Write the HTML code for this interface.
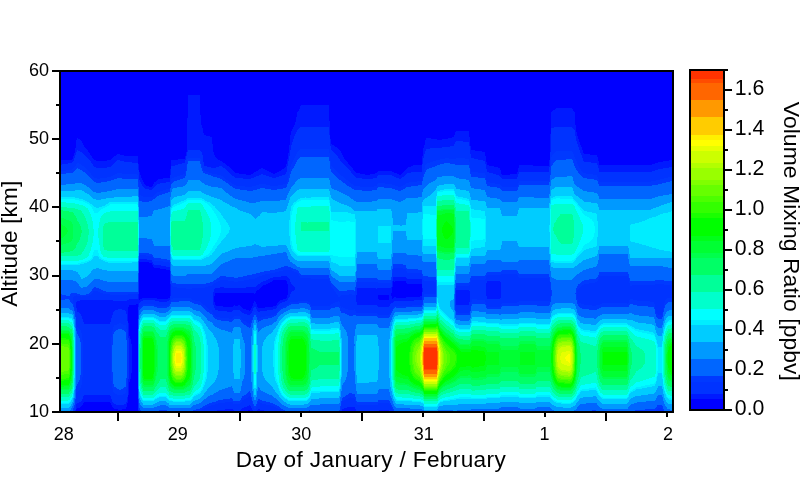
<!DOCTYPE html>
<html><head><meta charset="utf-8"><title>chart</title>
<style>
html,body{margin:0;padding:0;background:#fff;overflow:hidden;}
svg{display:block;font-family:"Liberation Sans",sans-serif;fill:#000;}
.t{filter:grayscale(1);}
</style></head><body>
<svg width="800" height="484" viewBox="0 0 800 484">
<rect x="0" y="0" width="800" height="484" fill="#fff"/>
<g shape-rendering="crispEdges">
<rect x="61" y="72" width="611" height="339" fill="#0000ff"/>
<path fill="#001aff" d="M301 105h28v1h-28zM300 106h29v3h-29zM556 108h16v1h-16zM555 109h18v1h-18zM299 109h30v2h-30zM553 110h20v1h-20zM298 111h31v1h-31zM552 111h22v1h-22zM188 95h12v20h-12zM297 112h32v5h-32zM188 115h13v3h-13zM296 117h33v4h-33zM296 121h34v1h-34zM187 118h14v7h-14zM295 122h35v3h-35zM551 112h24v13h-24zM294 125h36v2h-36zM551 125h25v2h-25zM187 125h15v3h-15zM293 127h7v1h-7zM551 127h3v1h-3zM572 127h4v1h-4zM293 128h6v1h-6zM573 128h3v1h-3zM292 129h6v1h-6zM574 129h2v1h-2zM292 130h5v1h-5zM291 131h6v1h-6zM456 131h13v1h-13zM575 130h1v2h-1zM187 128h16v5h-16zM291 132h5v2h-5zM187 133h17v2h-17zM291 134h4v1h-4zM329 127h1v8h-1zM455 132h14v3h-14zM187 135h19v1h-19zM290 135h5v1h-5zM575 132h2v4h-2zM187 136h23v1h-23zM454 135h15v2h-15zM452 137h18v1h-18zM77 138h1v1h-1zM290 136h4v3h-4zM426 138h5v1h-5zM448 138h22v1h-22zM576 136h2v3h-2zM77 139h3v1h-3zM426 139h11v1h-11zM442 139h28v1h-28zM76 140h5v1h-5zM425 140h45v1h-45zM576 139h3v2h-3zM290 139h3v3h-3zM425 141h31v1h-31zM463 141h7v1h-7zM577 141h2v1h-2zM76 141h6v2h-6zM187 137h25v7h-25zM330 139h1v5h-1zM425 142h30v2h-30zM577 142h3v2h-3zM76 143h7v2h-7zM290 142h2v3h-2zM330 144h2v1h-2zM425 144h29v1h-29zM578 144h2v1h-2zM330 145h4v1h-4zM424 145h30v1h-30zM469 142h1v4h-1zM76 145h8v2h-8zM331 146h4v1h-4zM424 146h26v1h-26zM578 145h3v2h-3zM76 147h9v1h-9zM331 147h6v1h-6zM424 147h18v1h-18zM75 148h11v1h-11zM331 148h7v1h-7zM423 148h7v1h-7zM75 149h12v1h-12zM187 144h26v6h-26zM289 145h2v5h-2zM331 149h8v1h-8zM470 146h1v4h-1zM579 147h3v3h-3zM78 150h10v1h-10zM200 150h13v1h-13zM332 150h8v1h-8zM423 149h3v2h-3zM470 150h5v1h-5zM75 150h2v2h-2zM80 151h8v1h-8zM187 150h1v2h-1zM201 151h12v1h-12zM333 151h8v1h-8zM470 151h12v1h-12zM550 134h1v18h-1zM75 152h1v1h-1zM82 152h7v1h-7zM289 150h1v3h-1zM334 152h7v1h-7zM580 150h3v3h-3zM83 153h7v1h-7zM335 153h7v1h-7zM423 151h2v3h-2zM470 152h15v2h-15zM581 153h3v1h-3zM74 153h2v2h-2zM84 154h6v1h-6zM117 154h3v1h-3zM202 152h12v3h-12zM336 154h6v1h-6zM581 154h9v1h-9zM74 155h1v1h-1zM85 155h6v1h-6zM116 155h8v1h-8zM186 152h1v4h-1zM288 153h2v3h-2zM337 155h6v1h-6zM423 154h1v2h-1zM471 154h14v2h-14zM86 156h6v1h-6zM114 156h24v1h-24zM203 155h12v2h-12zM338 156h5v1h-5zM582 155h15v2h-15zM73 156h2v2h-2zM87 157h5v1h-5zM113 157h25v1h-25zM203 157h13v1h-13zM338 157h6v1h-6zM422 156h2v2h-2zM471 156h15v2h-15zM582 157h16v1h-16zM73 158h1v1h-1zM88 158h5v1h-5zM112 158h26v1h-26zM185 156h1v3h-1zM203 158h14v1h-14zM288 156h1v3h-1zM339 158h5v1h-5zM474 158h12v1h-12zM72 159h2v1h-2zM89 159h5v1h-5zM111 159h27v1h-27zM178 159h8v1h-8zM203 159h15v1h-15zM340 159h5v1h-5zM478 159h8v1h-8zM61 160h13v1h-13zM90 160h6v1h-6zM107 160h10v1h-10zM120 160h18v1h-18zM203 160h17v1h-17zM287 159h2v2h-2zM340 160h6v1h-6zM483 160h3v1h-3zM583 158h15v3h-15zM669 160h3v1h-3zM61 161h12v1h-12zM91 161h25v1h-25zM124 161h14v1h-14zM203 161h19v1h-19zM341 161h6v1h-6zM485 161h1v1h-1zM584 161h15v1h-15zM663 161h9v1h-9zM61 162h11v1h-11zM91 162h24v1h-24zM132 162h6v1h-6zM171 160h14v3h-14zM204 162h19v1h-19zM342 162h6v1h-6zM591 162h8v1h-8zM658 162h14v1h-14zM61 163h7v1h-7zM92 163h22v1h-22zM171 163h11v1h-11zM204 163h21v1h-21zM287 161h1v3h-1zM343 163h5v1h-5zM422 158h1v6h-1zM485 162h2v2h-2zM655 163h17v1h-17zM61 164h1v1h-1zM93 164h20v1h-20zM171 164h7v1h-7zM204 164h22v1h-22zM344 164h5v1h-5zM486 164h1v1h-1zM597 163h2v2h-2zM652 164h20v1h-20zM93 165h19v1h-19zM171 165h4v1h-4zM204 165h23v1h-23zM286 164h2v2h-2zM345 165h5v1h-5zM413 165h9v1h-9zM486 165h3v1h-3zM519 165h14v1h-14zM549 160h1v6h-1zM94 166h17v1h-17zM207 166h12v1h-12zM222 166h7v1h-7zM286 166h1v1h-1zM346 166h5v1h-5zM411 166h11v1h-11zM486 166h8v1h-8zM519 166h31v1h-31zM598 165h74v2h-74zM96 167h11v1h-11zM211 167h5v1h-5zM223 167h7v1h-7zM285 167h2v1h-2zM347 167h5v1h-5zM408 167h14v1h-14zM486 167h12v1h-12zM519 167h30v1h-30zM598 167h71v1h-71zM225 168h6v1h-6zM261 168h2v1h-2zM284 168h3v1h-3zM348 168h5v1h-5zM407 168h15v1h-15zM486 168h14v1h-14zM599 168h64v1h-64zM138 164h1v6h-1zM226 169h6v1h-6zM259 169h6v1h-6zM282 169h5v1h-5zM349 169h4v1h-4zM406 169h16v1h-16zM487 169h13v1h-13zM599 169h59v1h-59zM227 170h6v1h-6zM258 170h9v1h-9zM281 170h6v1h-6zM350 170h4v1h-4zM405 170h17v1h-17zM599 170h56v1h-56zM228 171h6v1h-6zM256 171h13v1h-13zM279 171h8v1h-8zM351 171h4v1h-4zM378 171h14v1h-14zM404 171h18v1h-18zM487 170h14v2h-14zM518 168h31v4h-31zM599 171h53v1h-53zM229 172h6v1h-6zM254 172h17v1h-17zM277 172h9v1h-9zM351 172h5v1h-5zM377 172h17v1h-17zM403 172h8v1h-8zM489 172h12v1h-12zM230 173h9v1h-9zM253 173h20v1h-20zM275 173h11v1h-11zM352 173h8v1h-8zM375 173h22v1h-22zM402 173h5v1h-5zM493 173h8v1h-8zM517 172h2v2h-2zM139 172h1v3h-1zM170 169h1v6h-1zM231 174h15v1h-15zM251 174h10v1h-10zM263 174h22v1h-22zM353 174h12v1h-12zM370 174h29v1h-29zM401 174h5v1h-5zM496 174h6v1h-6zM510 174h8v1h-8zM232 175h27v1h-27zM266 175h16v1h-16zM354 175h24v1h-24zM392 175h13v1h-13zM499 175h19v1h-19zM234 176h22v1h-22zM269 176h10v1h-10zM355 176h22v1h-22zM394 176h10v1h-10zM500 176h18v1h-18zM139 175h2v3h-2zM235 177h19v1h-19zM272 177h4v1h-4zM356 177h21v1h-21zM396 177h6v1h-6zM501 177h16v1h-16zM163 178h7v1h-7zM243 178h8v1h-8zM362 178h11v1h-11zM399 178h2v1h-2zM502 178h15v1h-15zM139 178h3v2h-3zM158 179h12v1h-12zM157 180h13v1h-13zM140 180h3v2h-3zM156 181h14v1h-14zM154 182h12v1h-12zM141 182h3v2h-3zM154 183h6v1h-6zM142 184h3v1h-3zM153 184h4v1h-4zM142 185h4v1h-4zM153 185h3v1h-3zM143 186h6v1h-6zM152 186h3v1h-3zM144 187h10v1h-10zM145 188h8v1h-8zM149 189h3v1h-3zM139 259h8v1h-8zM139 260h13v2h-13zM149 262h4v1h-4zM152 263h1v1h-1zM152 264h2v1h-2zM153 265h8v1h-8zM153 266h13v1h-13zM154 267h16v1h-16zM160 268h10v1h-10zM166 269h4v1h-4zM281 276h6v1h-6zM273 277h15v1h-15zM393 277h13v1h-13zM270 278h19v1h-19zM393 278h14v1h-14zM268 279h22v1h-22zM266 280h7v1h-7zM286 280h4v1h-4zM393 279h29v2h-29zM263 281h9v1h-9zM287 281h3v1h-3zM394 281h1v1h-1zM487 281h13v1h-13zM261 282h9v1h-9zM406 281h16v2h-16zM487 282h14v1h-14zM260 283h8v1h-8zM287 282h4v2h-4zM407 283h15v1h-15zM258 284h8v1h-8zM288 284h4v1h-4zM257 285h6v1h-6zM288 285h5v1h-5zM256 286h6v1h-6zM288 286h6v1h-6zM392 281h1v6h-1zM220 287h4v1h-4zM246 287h15v1h-15zM391 287h1v1h-1zM215 288h45v1h-45zM357 288h19v1h-19zM377 288h15v1h-15zM214 289h45v1h-45zM288 287h7v3h-7zM214 290h43v1h-43zM288 290h6v1h-6zM456 290h13v1h-13zM214 291h42v1h-42zM288 291h4v1h-4zM422 288h1v4h-1zM213 292h43v1h-43zM357 289h35v4h-35zM254 293h1v1h-1zM288 292h3v2h-3zM288 294h2v1h-2zM357 293h34v2h-34zM170 284h1v12h-1zM213 293h2v3h-2zM389 295h2v1h-2zM486 283h15v13h-15zM287 295h3v2h-3zM420 296h2v1h-2zM287 297h2v1h-2zM394 297h2v1h-2zM406 297h16v1h-16zM487 296h14v2h-14zM138 294h1v5h-1zM142 298h15v1h-15zM168 298h2v1h-2zM286 298h2v1h-2zM356 295h22v4h-22zM389 296h3v3h-3zM393 298h29v1h-29zM487 298h13v1h-13zM129 299h10v1h-10zM140 299h30v1h-30zM283 299h5v1h-5zM356 299h23v1h-23zM389 299h33v1h-33zM80 300h33v1h-33zM127 300h16v1h-16zM155 300h14v1h-14zM280 300h7v1h-7zM356 300h58v1h-58zM77 301h64v1h-64zM159 301h8v1h-8zM213 296h1v6h-1zM254 301h1v1h-1zM279 301h6v1h-6zM356 301h38v1h-38zM456 291h14v11h-14zM76 302h64v1h-64zM254 302h2v1h-2zM278 302h4v1h-4zM357 302h36v1h-36zM76 303h63v1h-63zM253 303h3v1h-3zM277 303h3v1h-3zM357 303h34v1h-34zM76 304h60v1h-60zM213 302h2v3h-2zM277 304h2v1h-2zM357 304h33v1h-33zM456 302h13v3h-13zM214 305h2v1h-2zM234 305h1v1h-1zM238 305h2v1h-2zM253 304h4v2h-4zM276 305h2v1h-2zM377 305h13v1h-13zM76 305h53v2h-53zM138 304h1v3h-1zM214 306h9v1h-9zM233 306h8v1h-8zM252 306h5v1h-5zM273 306h4v1h-4zM378 306h11v1h-11zM76 307h52v1h-52zM214 307h28v1h-28zM252 307h2v1h-2zM256 307h2v1h-2zM265 307h12v1h-12zM77 308h51v1h-51zM215 308h28v1h-28zM256 308h20v1h-20zM77 309h41v1h-41zM122 309h6v1h-6zM215 309h31v1h-31zM251 308h2v2h-2zM257 309h16v1h-16zM77 310h38v1h-38zM125 310h3v1h-3zM218 310h15v1h-15zM240 310h9v1h-9zM250 310h3v1h-3zM257 310h10v1h-10zM77 311h37v1h-37zM227 311h5v1h-5zM241 311h11v1h-11zM258 311h2v1h-2zM79 312h34v1h-34zM242 312h10v1h-10zM80 313h33v1h-33zM126 311h2v3h-2zM244 313h7v1h-7zM81 314h32v1h-32zM247 314h3v1h-3zM81 315h31v1h-31zM82 316h30v2h-30zM82 318h29v1h-29zM127 314h1v7h-1zM83 319h28v3h-28zM84 322h26v2h-26zM128 323h1v13h-1zM128 336h2v2h-2zM129 338h1v1h-1zM129 339h2v5h-2zM129 344h3v29h-3zM129 373h2v6h-2zM128 379h2v3h-2zM128 382h1v13h-1zM84 395h26v1h-26zM83 396h28v3h-28zM82 399h30v2h-30zM81 401h31v1h-31zM127 397h1v5h-1zM79 402h5v1h-5zM110 402h3v1h-3zM126 402h2v1h-2zM77 403h6v1h-6zM111 403h3v1h-3zM126 403h1v1h-1zM76 404h7v1h-7zM111 404h5v1h-5zM124 404h3v1h-3zM76 405h6v1h-6zM249 405h1v1h-1zM76 406h5v1h-5zM112 405h15v2h-15zM247 406h4v1h-4zM76 407h4v1h-4zM113 407h13v1h-13zM244 407h7v1h-7zM347 407h8v1h-8zM76 408h1v1h-1zM114 408h12v1h-12zM242 408h10v1h-10zM344 408h11v1h-11zM118 409h4v1h-4zM225 409h8v1h-8zM241 409h11v1h-11zM258 409h2v1h-2zM75 410h1v1h-1zM138 410h1v1h-1zM217 410h17v1h-17zM240 410h8v1h-8zM250 410h3v1h-3zM257 410h7v1h-7zM342 409h14v2h-14zM379 410h10v1h-10z"/>
<path fill="#0033ff" d="M300 127h29v1h-29zM554 127h18v1h-18zM299 128h30v1h-30zM551 128h22v1h-22zM298 129h31v1h-31zM551 129h23v1h-23zM297 130h32v2h-32zM296 132h33v2h-33zM295 134h34v1h-34zM295 135h35v1h-35zM551 130h24v6h-24zM294 136h36v3h-36zM551 136h25v5h-25zM293 139h37v3h-37zM456 141h7v1h-7zM455 142h14v2h-14zM551 141h26v3h-26zM292 142h38v3h-38zM291 145h39v1h-39zM454 144h15v2h-15zM450 146h20v1h-20zM551 144h27v3h-27zM442 147h28v1h-28zM291 146h40v3h-40zM430 148h40v1h-40zM291 149h9v1h-9zM329 149h2v1h-2zM551 147h28v3h-28zM77 150h1v1h-1zM188 150h12v1h-12zM290 150h9v1h-9zM329 150h3v1h-3zM426 149h44v2h-44zM551 150h29v1h-29zM77 151h3v1h-3zM188 151h13v1h-13zM290 151h8v1h-8zM329 151h4v1h-4zM551 151h5v1h-5zM572 151h8v1h-8zM76 152h6v1h-6zM329 152h5v1h-5zM550 152h5v1h-5zM573 152h7v1h-7zM76 153h7v1h-7zM290 152h7v2h-7zM330 153h5v1h-5zM425 151h45v3h-45zM550 153h4v1h-4zM573 153h8v1h-8zM76 154h8v1h-8zM187 152h15v3h-15zM330 154h6v1h-6zM550 154h3v1h-3zM574 154h7v1h-7zM75 155h10v1h-10zM187 155h16v1h-16zM290 154h6v2h-6zM330 155h7v1h-7zM75 156h11v1h-11zM550 155h2v2h-2zM574 155h8v2h-8zM75 157h12v1h-12zM186 156h17v2h-17zM289 156h6v2h-6zM330 156h8v2h-8zM424 154h47v4h-47zM575 157h7v1h-7zM74 158h14v1h-14zM186 158h2v1h-2zM200 158h3v1h-3zM330 158h9v1h-9zM423 158h22v1h-22zM449 158h7v1h-7zM465 158h9v1h-9zM575 158h8v1h-8zM74 159h15v1h-15zM186 159h1v1h-1zM289 158h5v2h-5zM423 159h17v1h-17zM469 159h9v1h-9zM74 160h16v1h-16zM117 160h3v1h-3zM289 160h4v1h-4zM330 159h10v2h-10zM423 160h13v1h-13zM469 160h14v1h-14zM576 159h7v2h-7zM73 161h18v1h-18zM116 161h8v1h-8zM201 159h2v3h-2zM288 161h5v1h-5zM331 161h10v1h-10zM423 161h10v1h-10zM469 161h16v1h-16zM577 161h7v1h-7zM72 162h19v1h-19zM115 162h17v1h-17zM185 160h2v3h-2zM331 162h11v1h-11zM423 162h7v1h-7zM577 162h14v1h-14zM68 163h9v1h-9zM79 163h13v1h-13zM114 163h24v1h-24zM182 163h5v1h-5zM201 162h3v2h-3zM288 162h4v2h-4zM331 163h12v1h-12zM423 163h4v1h-4zM470 162h15v2h-15zM577 163h20v1h-20zM62 164h14v1h-14zM81 164h12v1h-12zM113 164h25v1h-25zM178 164h9v1h-9zM331 164h13v1h-13zM422 164h4v1h-4zM578 164h19v1h-19zM61 165h15v1h-15zM82 165h11v1h-11zM112 165h26v1h-26zM175 165h11v1h-11zM202 164h2v2h-2zM288 164h3v2h-3zM331 165h14v1h-14zM578 165h20v1h-20zM61 166h14v1h-14zM84 166h10v1h-10zM111 166h27v1h-27zM202 166h5v1h-5zM219 166h3v1h-3zM287 166h4v1h-4zM332 166h14v1h-14zM550 157h1v10h-1zM61 167h13v1h-13zM85 167h11v1h-11zM107 167h31v1h-31zM203 167h8v1h-8zM216 167h7v1h-7zM333 167h14v1h-14zM579 166h19v2h-19zM669 167h3v1h-3zM61 168h12v1h-12zM86 168h52v1h-52zM203 168h22v1h-22zM334 168h14v1h-14zM422 165h3v4h-3zM470 164h16v5h-16zM580 168h19v1h-19zM663 168h9v1h-9zM61 169h11v1h-11zM87 169h51v1h-51zM203 169h23v1h-23zM335 169h14v1h-14zM549 167h2v3h-2zM658 169h14v1h-14zM61 170h5v1h-5zM88 170h51v1h-51zM171 166h15v5h-15zM204 170h23v1h-23zM336 170h14v1h-14zM581 169h18v2h-18zM655 170h17v1h-17zM89 171h50v1h-50zM206 171h22v1h-22zM287 167h3v5h-3zM337 171h14v1h-14zM422 169h2v3h-2zM471 169h16v3h-16zM549 170h1v2h-1zM582 171h17v1h-17zM652 171h20v1h-20zM90 172h49v1h-49zM209 172h20v1h-20zM338 172h13v1h-13zM411 172h12v1h-12zM478 172h11v1h-11zM583 172h89v1h-89zM91 173h26v1h-26zM122 173h17v1h-17zM171 171h14v3h-14zM212 173h18v1h-18zM286 172h3v2h-3zM339 173h13v1h-13zM407 173h16v1h-16zM485 173h8v1h-8zM519 172h31v2h-31zM586 173h86v1h-86zM91 174h24v1h-24zM137 174h2v1h-2zM171 174h12v1h-12zM217 174h14v1h-14zM261 174h2v1h-2zM285 174h4v1h-4zM340 174h13v1h-13zM406 174h17v1h-17zM485 174h11v1h-11zM593 174h79v1h-79zM92 175h21v1h-21zM170 175h10v1h-10zM221 175h11v1h-11zM259 175h7v1h-7zM282 175h7v1h-7zM341 175h13v1h-13zM378 175h14v1h-14zM405 175h18v1h-18zM486 175h13v1h-13zM93 176h18v1h-18zM170 176h7v1h-7zM223 176h11v1h-11zM256 176h13v1h-13zM279 176h9v1h-9zM343 176h12v1h-12zM377 176h17v1h-17zM404 176h18v1h-18zM486 176h14v1h-14zM518 174h32v3h-32zM597 175h75v2h-75zM94 177h13v1h-13zM170 177h4v1h-4zM224 177h11v1h-11zM254 177h18v1h-18zM276 177h12v1h-12zM344 177h12v1h-12zM377 177h19v1h-19zM402 177h20v1h-20zM486 177h15v1h-15zM517 177h33v1h-33zM598 177h70v1h-70zM97 178h3v1h-3zM170 178h2v1h-2zM225 178h18v1h-18zM251 178h37v1h-37zM345 178h17v1h-17zM373 178h26v1h-26zM401 178h21v1h-21zM486 178h16v1h-16zM517 178h32v1h-32zM598 178h66v1h-66zM138 175h1v5h-1zM226 179h62v1h-62zM346 179h76v1h-76zM486 179h63v1h-63zM599 179h61v1h-61zM228 180h59v1h-59zM348 180h74v1h-74zM487 180h62v1h-62zM599 180h57v1h-57zM138 180h2v2h-2zM170 179h1v3h-1zM229 181h58v1h-58zM349 181h68v1h-68zM487 181h32v1h-32zM599 181h52v1h-52zM166 182h5v1h-5zM231 182h56v1h-56zM350 182h59v1h-59zM490 182h29v1h-29zM139 182h2v2h-2zM160 183h11v1h-11zM232 183h54v1h-54zM351 183h27v1h-27zM385 183h21v1h-21zM495 183h23v1h-23zM157 184h14v1h-14zM234 184h25v1h-25zM266 184h17v1h-17zM353 184h24v1h-24zM392 184h13v1h-13zM500 184h18v1h-18zM139 184h3v2h-3zM156 185h14v1h-14zM236 185h20v1h-20zM270 185h8v1h-8zM354 185h23v1h-23zM395 185h8v1h-8zM501 185h17v1h-17zM139 186h4v1h-4zM155 186h15v1h-15zM245 186h7v1h-7zM360 186h14v1h-14zM398 186h3v1h-3zM502 186h15v1h-15zM139 187h5v1h-5zM154 187h16v1h-16zM139 188h6v1h-6zM153 188h17v1h-17zM139 189h10v1h-10zM152 189h14v1h-14zM139 190h24v1h-24zM139 191h21v1h-21zM139 192h18v1h-18zM139 193h17v1h-17zM139 194h16v1h-16zM141 195h13v1h-13zM143 196h10v1h-10zM139 255h7v1h-7zM139 256h13v1h-13zM139 257h14v2h-14zM147 259h7v1h-7zM152 260h2v1h-2zM152 261h11v1h-11zM153 262h16v1h-16zM153 263h17v1h-17zM154 264h16v1h-16zM161 265h9v1h-9zM166 266h4v1h-4zM393 268h10v1h-10zM283 270h9v1h-9zM393 269h13v2h-13zM279 271h15v1h-15zM275 272h22v1h-22zM393 271h14v2h-14zM270 273h28v1h-28zM265 274h34v1h-34zM501 274h16v1h-16zM262 275h37v1h-37zM487 275h31v1h-31zM259 276h22v1h-22zM287 276h13v1h-13zM392 273h30v4h-30zM486 276h32v1h-32zM257 277h16v1h-16zM288 277h12v1h-12zM406 277h17v1h-17zM486 277h33v1h-33zM599 276h29v2h-29zM255 278h15v1h-15zM289 278h22v1h-22zM407 278h16v1h-16zM486 278h63v1h-63zM599 278h30v1h-30zM249 279h19v1h-19zM392 277h1v3h-1zM422 279h1v1h-1zM485 279h64v1h-64zM220 280h8v1h-8zM244 280h22v1h-22zM290 279h39v2h-39zM391 280h2v1h-2zM422 280h2v1h-2zM471 280h78v1h-78zM598 279h31v2h-31zM218 281h16v1h-16zM238 281h25v1h-25zM290 281h40v1h-40zM422 281h12v1h-12zM471 281h16v1h-16zM500 281h50v1h-50zM597 281h32v1h-32zM216 282h45v1h-45zM357 282h21v1h-21zM391 281h1v2h-1zM470 282h17v1h-17zM595 282h34v1h-34zM170 275h1v9h-1zM214 283h46v1h-46zM291 282h39v2h-39zM589 283h41v1h-41zM213 284h45v1h-45zM292 284h39v1h-39zM357 283h35v2h-35zM470 283h16v2h-16zM584 284h46v1h-46zM655 284h9v1h-9zM171 285h1v1h-1zM212 285h45v1h-45zM293 285h38v1h-38zM469 285h17v1h-17zM582 285h48v1h-48zM632 285h40v1h-40zM171 286h2v1h-2zM208 286h48v1h-48zM294 286h37v1h-37zM356 285h36v2h-36zM581 286h91v1h-91zM171 287h6v1h-6zM205 287h15v1h-15zM224 287h22v1h-22zM295 287h37v1h-37zM356 287h35v1h-35zM422 282h14v6h-14zM501 282h49v6h-49zM580 287h92v1h-92zM171 288h15v1h-15zM192 288h23v1h-23zM295 288h38v1h-38zM376 288h1v1h-1zM579 288h93v1h-93zM295 289h39v1h-39zM456 286h30v4h-30zM578 289h94v1h-94zM294 290h40v1h-40zM356 288h1v3h-1zM469 290h17v1h-17zM93 291h5v1h-5zM171 289h43v3h-43zM292 291h43v1h-43zM423 288h13v4h-13zM93 292h7v1h-7zM92 293h11v1h-11zM138 280h1v14h-1zM291 292h45v2h-45zM422 292h14v2h-14zM91 294h19v1h-19zM128 294h10v1h-10zM290 294h47v1h-47zM349 294h3v1h-3zM355 291h2v4h-2zM76 295h1v1h-1zM89 295h49v1h-49zM171 292h42v4h-42zM341 295h15v1h-15zM470 291h16v5h-16zM74 296h7v1h-7zM82 296h56v1h-56zM290 295h48v2h-48zM340 296h16v1h-16zM422 294h2v3h-2zM501 288h50v9h-50zM170 296h43v2h-43zM289 297h67v1h-67zM501 297h49v1h-49zM577 290h95v8h-95zM73 297h65v2h-65zM170 298h3v1h-3zM191 298h22v1h-22zM470 296h17v3h-17zM500 298h50v1h-50zM577 298h90v1h-90zM73 299h56v1h-56zM170 299h1v1h-1zM192 299h21v1h-21zM288 298h68v2h-68zM422 297h1v3h-1zM477 299h73v1h-73zM578 299h52v1h-52zM633 299h33v1h-33zM73 300h7v1h-7zM113 300h14v1h-14zM143 300h12v1h-12zM169 300h2v1h-2zM195 300h18v1h-18zM287 300h69v1h-69zM414 300h9v1h-9zM485 300h65v1h-65zM637 300h28v1h-28zM73 301h4v1h-4zM141 301h18v1h-18zM167 301h4v1h-4zM200 301h13v1h-13zM285 301h13v1h-13zM308 301h30v1h-30zM339 301h17v1h-17zM394 301h29v1h-29zM470 299h2v3h-2zM485 301h34v1h-34zM578 300h51v2h-51zM650 301h15v1h-15zM73 302h3v1h-3zM140 302h30v1h-30zM201 302h12v1h-12zM282 302h8v1h-8zM310 302h25v1h-25zM393 302h29v1h-29zM486 302h31v1h-31zM579 302h50v1h-50zM654 302h11v1h-11zM139 303h31v1h-31zM202 303h11v1h-11zM280 303h9v1h-9zM310 303h23v1h-23zM391 303h31v1h-31zM486 303h16v1h-16zM581 303h21v1h-21zM627 303h1v1h-1zM654 303h10v1h-10zM139 304h4v1h-4zM154 304h15v1h-15zM203 304h10v1h-10zM279 304h9v1h-9zM311 304h20v1h-20zM340 302h17v3h-17zM390 304h32v1h-32zM455 291h1v14h-1zM469 302h2v3h-2zM486 304h15v1h-15zM584 304h16v1h-16zM139 305h3v1h-3zM156 305h12v1h-12zM205 305h9v1h-9zM278 305h8v1h-8zM311 305h19v1h-19zM340 305h37v1h-37zM390 305h22v1h-22zM455 305h16v1h-16zM487 305h14v1h-14zM592 305h4v1h-4zM139 306h2v1h-2zM206 306h8v1h-8zM277 306h7v1h-7zM341 306h37v1h-37zM389 306h5v1h-5zM487 306h13v1h-13zM74 303h2v5h-2zM138 307h2v1h-2zM207 307h7v1h-7zM254 307h2v1h-2zM277 307h5v1h-5zM341 307h1v1h-1zM343 307h50v1h-50zM456 306h15v2h-15zM655 304h9v4h-9zM208 308h7v1h-7zM253 308h3v1h-3zM276 308h4v1h-4zM345 308h48v1h-48zM118 309h4v1h-4zM209 309h6v1h-6zM273 309h6v1h-6zM348 309h6v1h-6zM355 309h37v1h-37zM655 308h8v2h-8zM115 310h10v1h-10zM212 310h6v1h-6zM233 310h7v1h-7zM253 309h4v2h-4zM267 310h11v1h-11zM355 310h36v1h-36zM75 308h2v4h-2zM114 311h12v1h-12zM212 311h15v1h-15zM232 311h9v1h-9zM252 311h6v1h-6zM260 311h17v1h-17zM356 311h35v1h-35zM456 308h14v4h-14zM75 312h4v1h-4zM213 312h29v1h-29zM252 312h2v1h-2zM256 312h21v1h-21zM356 312h34v1h-34zM458 312h11v1h-11zM656 310h7v3h-7zM76 313h4v1h-4zM113 312h13v2h-13zM213 313h31v1h-31zM251 313h3v1h-3zM256 313h20v1h-20zM377 313h13v1h-13zM657 313h5v1h-5zM113 314h14v1h-14zM138 308h1v7h-1zM214 314h33v1h-33zM250 314h3v1h-3zM257 314h17v1h-17zM378 314h11v1h-11zM658 314h4v1h-4zM76 314h5v2h-5zM215 315h38v1h-38zM257 315h14v1h-14zM216 316h18v1h-18zM240 316h13v1h-13zM257 316h8v1h-8zM112 315h15v3h-15zM220 317h13v1h-13zM258 317h3v1h-3zM76 316h6v3h-6zM229 318h3v1h-3zM241 317h11v2h-11zM258 318h1v1h-1zM242 319h10v1h-10zM111 318h16v3h-16zM243 320h8v1h-8zM76 319h7v3h-7zM111 321h17v1h-17zM246 321h5v1h-5zM110 322h18v1h-18zM247 322h3v1h-3zM76 322h8v2h-8zM110 323h9v1h-9zM121 323h7v1h-7zM249 323h1v1h-1zM76 324h41v1h-41zM123 324h5v1h-5zM77 325h37v2h-37zM78 327h35v1h-35zM79 328h34v1h-34zM126 325h2v4h-2zM80 329h33v1h-33zM81 330h32v1h-32zM81 331h31v2h-31zM82 333h30v4h-30zM127 329h1v9h-1zM82 337h29v3h-29zM83 340h28v37h-28zM127 338h2v41h-2zM82 377h29v4h-29zM82 381h30v4h-30zM81 385h31v3h-31zM127 379h1v10h-1zM80 388h33v2h-33zM79 390h34v1h-34zM78 391h35v1h-35zM77 392h37v1h-37zM126 389h2v4h-2zM76 393h39v1h-39zM125 393h3v1h-3zM76 394h41v1h-41zM123 394h5v1h-5zM76 395h8v1h-8zM110 395h18v1h-18zM111 396h17v1h-17zM249 396h1v1h-1zM248 397h2v1h-2zM350 397h1v1h-1zM76 396h7v3h-7zM111 397h16v2h-16zM246 398h5v1h-5zM348 398h6v1h-6zM244 399h7v1h-7zM346 399h9v1h-9zM76 399h6v2h-6zM344 400h11v1h-11zM76 401h5v1h-5zM112 399h15v3h-15zM242 400h10v2h-10zM76 402h3v1h-3zM113 402h13v1h-13zM225 402h8v1h-8zM241 402h11v1h-11zM258 402h2v1h-2zM75 403h2v1h-2zM114 403h12v1h-12zM218 403h15v1h-15zM240 403h12v1h-12zM258 403h4v1h-4zM342 401h14v3h-14zM378 403h11v1h-11zM116 404h8v1h-8zM215 404h38v1h-38zM257 404h9v1h-9zM341 404h16v1h-16zM378 404h12v1h-12zM211 405h38v1h-38zM250 405h3v1h-3zM257 405h14v1h-14zM341 405h49v1h-49zM75 404h1v3h-1zM208 406h39v1h-39zM251 406h2v1h-2zM257 406h17v1h-17zM341 406h50v1h-50zM206 407h38v1h-38zM251 407h3v1h-3zM256 407h20v1h-20zM341 407h6v1h-6zM355 407h36v1h-36zM204 408h38v1h-38zM252 408h2v1h-2zM256 408h22v1h-22zM341 408h3v1h-3zM355 408h37v1h-37zM658 408h4v1h-4zM74 407h2v3h-2zM138 403h1v7h-1zM202 409h23v1h-23zM233 409h8v1h-8zM252 409h6v1h-6zM260 409h20v1h-20zM341 409h1v1h-1zM356 409h36v1h-36zM657 409h5v1h-5zM74 410h1v1h-1zM139 410h1v1h-1zM200 410h17v1h-17zM234 410h6v1h-6zM253 410h4v1h-4zM264 410h17v1h-17zM340 410h2v1h-2zM356 410h23v1h-23zM389 410h4v1h-4zM656 410h7v1h-7z"/>
<path fill="#0039ff" d="M300 149h29v1h-29zM299 150h30v1h-30zM298 151h31v1h-31zM556 151h16v1h-16zM297 152h32v1h-32zM555 152h18v1h-18zM297 153h33v1h-33zM554 153h19v1h-19zM553 154h21v1h-21zM296 154h34v2h-34zM295 156h35v1h-35zM552 155h22v2h-22zM295 157h5v1h-5zM188 158h12v1h-12zM294 158h5v1h-5zM445 158h4v1h-4zM456 158h9v1h-9zM551 157h24v2h-24zM294 159h4v1h-4zM440 159h29v1h-29zM551 159h15v1h-15zM572 159h4v1h-4zM187 159h14v2h-14zM329 157h1v4h-1zM436 160h33v1h-33zM551 160h5v1h-5zM573 160h3v1h-3zM293 160h4v2h-4zM433 161h36v1h-36zM551 161h4v1h-4zM430 162h40v1h-40zM551 162h3v1h-3zM573 161h4v2h-4zM77 163h2v1h-2zM187 161h1v3h-1zM200 161h1v3h-1zM292 162h4v2h-4zM427 163h17v1h-17zM450 163h20v1h-20zM574 163h3v1h-3zM76 164h5v1h-5zM426 164h14v1h-14zM455 164h15v1h-15zM551 163h2v2h-2zM76 165h6v1h-6zM291 164h4v2h-4zM330 161h1v5h-1zM425 165h12v1h-12zM551 165h1v1h-1zM574 164h4v2h-4zM75 166h9v1h-9zM201 164h1v3h-1zM291 166h3v1h-3zM330 166h2v1h-2zM425 166h10v1h-10zM74 167h11v1h-11zM201 167h2v1h-2zM290 167h4v1h-4zM330 167h3v1h-3zM425 167h7v1h-7zM469 165h1v3h-1zM575 166h4v2h-4zM73 168h4v1h-4zM78 168h8v1h-8zM290 168h3v1h-3zM330 168h4v1h-4zM425 168h4v1h-4zM576 168h4v1h-4zM72 169h4v1h-4zM80 169h7v1h-7zM202 168h1v2h-1zM331 169h4v1h-4zM424 169h3v1h-3zM576 169h5v1h-5zM66 170h9v1h-9zM82 170h6v1h-6zM186 165h1v6h-1zM202 170h2v1h-2zM290 169h2v2h-2zM331 170h5v1h-5zM577 170h4v1h-4zM61 171h13v1h-13zM83 171h6v1h-6zM203 171h3v1h-3zM290 171h1v1h-1zM331 171h6v1h-6zM424 170h2v2h-2zM470 169h1v3h-1zM578 171h4v1h-4zM61 172h12v1h-12zM85 172h5v1h-5zM203 172h6v1h-6zM332 172h6v1h-6zM470 172h8v1h-8zM578 172h5v1h-5zM61 173h5v1h-5zM86 173h5v1h-5zM117 173h5v1h-5zM185 171h1v3h-1zM205 173h7v1h-7zM289 172h2v2h-2zM333 173h6v1h-6zM423 172h2v2h-2zM470 173h15v1h-15zM579 173h7v1h-7zM87 174h4v1h-4zM115 174h22v1h-22zM183 174h3v1h-3zM208 174h9v1h-9zM334 174h6v1h-6zM471 174h14v1h-14zM550 170h1v5h-1zM580 174h13v1h-13zM88 175h4v1h-4zM113 175h25v1h-25zM180 175h6v1h-6zM211 175h10v1h-10zM289 174h1v2h-1zM335 175h6v1h-6zM423 174h1v2h-1zM581 175h16v1h-16zM89 176h4v1h-4zM111 176h27v1h-27zM177 176h8v1h-8zM213 176h10v1h-10zM336 176h7v1h-7zM422 176h2v1h-2zM471 175h15v2h-15zM582 176h15v1h-15zM90 177h4v1h-4zM107 177h31v1h-31zM174 177h11v1h-11zM217 177h7v1h-7zM288 176h2v2h-2zM337 177h7v1h-7zM478 177h8v1h-8zM583 177h15v1h-15zM668 177h4v1h-4zM91 178h6v1h-6zM100 178h17v1h-17zM122 178h16v1h-16zM172 178h11v1h-11zM220 178h5v1h-5zM338 178h7v1h-7zM587 178h11v1h-11zM664 178h8v1h-8zM92 179h22v1h-22zM171 179h9v1h-9zM222 179h4v1h-4zM288 178h1v2h-1zM339 179h7v1h-7zM485 178h1v2h-1zM594 179h5v1h-5zM660 179h12v1h-12zM93 180h18v1h-18zM171 180h6v1h-6zM223 180h5v1h-5zM341 180h7v1h-7zM422 177h1v4h-1zM549 178h1v3h-1zM597 180h2v1h-2zM656 180h16v1h-16zM94 181h13v1h-13zM171 181h3v1h-3zM225 181h4v1h-4zM287 180h2v2h-2zM342 181h7v1h-7zM417 181h5v1h-5zM486 180h1v2h-1zM519 181h31v1h-31zM598 181h1v1h-1zM651 181h19v1h-19zM96 182h5v1h-5zM171 182h2v1h-2zM226 182h5v1h-5zM287 182h1v1h-1zM343 182h7v1h-7zM409 182h13v1h-13zM486 182h4v1h-4zM519 182h30v1h-30zM598 182h68v1h-68zM171 183h1v1h-1zM228 183h4v1h-4zM286 183h2v1h-2zM345 183h6v1h-6zM378 183h7v1h-7zM406 183h16v1h-16zM486 183h9v1h-9zM598 183h64v1h-64zM229 184h5v1h-5zM259 184h7v1h-7zM283 184h4v1h-4zM346 184h7v1h-7zM377 184h15v1h-15zM405 184h17v1h-17zM487 184h13v1h-13zM518 183h31v2h-31zM599 184h59v1h-59zM230 185h6v1h-6zM256 185h14v1h-14zM278 185h9v1h-9zM347 185h7v1h-7zM377 185h18v1h-18zM403 185h15v1h-15zM487 185h14v1h-14zM518 185h1v1h-1zM599 185h53v1h-53zM138 182h1v5h-1zM232 186h13v1h-13zM252 186h35v1h-35zM349 186h11v1h-11zM374 186h24v1h-24zM401 186h10v1h-10zM490 186h12v1h-12zM517 186h2v1h-2zM170 185h1v3h-1zM233 187h53v1h-53zM351 187h27v1h-27zM384 187h22v1h-22zM497 187h21v1h-21zM235 188h25v1h-25zM265 188h18v1h-18zM352 188h25v1h-25zM392 188h13v1h-13zM500 188h18v1h-18zM166 189h4v1h-4zM240 189h17v1h-17zM271 189h6v1h-6zM354 189h23v1h-23zM395 189h8v1h-8zM501 189h17v1h-17zM163 190h7v1h-7zM247 190h6v1h-6zM362 190h10v1h-10zM398 190h3v1h-3zM502 190h15v1h-15zM160 191h10v1h-10zM157 192h11v1h-11zM156 193h9v1h-9zM155 194h7v1h-7zM139 195h2v1h-2zM154 195h5v1h-5zM139 196h4v1h-4zM153 196h4v1h-4zM139 197h17v1h-17zM139 198h16v1h-16zM139 199h14v1h-14zM139 200h13v1h-13zM142 201h7v1h-7zM139 253h10v1h-10zM139 254h13v1h-13zM146 255h7v1h-7zM152 256h1v1h-1zM153 257h1v1h-1zM153 258h8v1h-8zM154 259h13v1h-13zM154 260h16v1h-16zM163 261h7v1h-7zM169 262h1v1h-1zM393 264h10v1h-10zM284 266h4v1h-4zM281 267h10v1h-10zM393 265h13v3h-13zM278 268h15v1h-15zM403 268h4v1h-4zM275 269h21v1h-21zM406 269h12v1h-12zM270 270h13v1h-13zM292 270h6v1h-6zM406 270h16v1h-16zM502 270h15v1h-15zM264 271h15v1h-15zM294 271h5v1h-5zM501 271h17v1h-17zM260 272h15v1h-15zM297 272h2v1h-2zM392 269h1v4h-1zM407 271h15v2h-15zM487 272h31v1h-31zM256 273h14v1h-14zM298 273h2v1h-2zM486 273h33v1h-33zM599 272h29v2h-29zM170 271h1v4h-1zM252 274h13v1h-13zM299 274h2v1h-2zM486 274h15v1h-15zM517 274h32v1h-32zM599 274h30v1h-30zM247 275h15v1h-15zM299 275h30v1h-30zM422 274h1v2h-1zM485 275h2v1h-2zM598 275h31v1h-31zM220 276h6v1h-6zM243 276h16v1h-16zM422 276h6v1h-6zM518 275h31v2h-31zM598 276h1v1h-1zM219 277h15v1h-15zM238 277h19v1h-19zM300 276h29v2h-29zM471 276h15v2h-15zM519 277h31v1h-31zM597 277h2v1h-2zM628 276h1v2h-1zM217 278h38v1h-38zM311 278h19v1h-19zM357 278h20v1h-20zM470 278h16v1h-16zM596 278h3v1h-3zM138 273h1v7h-1zM216 279h33v1h-33zM357 279h21v1h-21zM391 277h1v3h-1zM423 277h13v3h-13zM470 279h15v1h-15zM589 279h9v1h-9zM214 280h6v1h-6zM228 280h16v1h-16zM329 279h1v2h-1zM424 280h12v1h-12zM549 278h1v3h-1zM584 280h14v1h-14zM629 278h1v3h-1zM655 280h9v1h-9zM213 281h5v1h-5zM234 281h4v1h-4zM357 280h34v2h-34zM434 281h2v1h-2zM470 280h1v2h-1zM582 281h15v1h-15zM171 281h1v2h-1zM210 282h6v1h-6zM330 281h1v2h-1zM378 282h13v1h-13zM469 282h1v1h-1zM581 282h14v1h-14zM629 281h43v2h-43zM171 283h5v1h-5zM206 283h8v1h-8zM330 283h2v1h-2zM580 283h9v1h-9zM630 283h42v1h-42zM171 284h42v1h-42zM331 284h2v1h-2zM356 282h1v3h-1zM456 283h14v2h-14zM578 284h6v1h-6zM630 284h25v1h-25zM664 284h8v1h-8zM172 285h40v1h-40zM331 285h3v1h-3zM456 285h13v1h-13zM578 285h4v1h-4zM630 285h2v1h-2zM173 286h35v1h-35zM331 286h4v1h-4zM577 286h4v1h-4zM94 287h2v1h-2zM177 287h28v1h-28zM332 287h4v1h-4zM550 282h1v6h-1zM577 287h3v1h-3zM93 288h6v1h-6zM186 288h6v1h-6zM333 288h4v1h-4zM576 288h3v1h-3zM92 289h9v1h-9zM334 289h4v1h-4zM576 289h2v1h-2zM92 290h11v1h-11zM334 290h5v1h-5zM347 290h7v1h-7zM355 287h1v4h-1zM455 288h1v3h-1zM91 291h2v1h-2zM98 291h8v1h-8zM335 291h20v1h-20zM90 292h3v1h-3zM100 292h38v1h-38zM576 290h1v3h-1zM71 293h6v1h-6zM89 293h3v1h-3zM103 293h35v1h-35zM336 292h19v2h-19zM575 293h2v1h-2zM61 294h1v1h-1zM70 294h10v1h-10zM86 294h5v1h-5zM110 294h18v1h-18zM337 294h12v1h-12zM352 294h3v1h-3zM61 295h5v1h-5zM70 295h6v1h-6zM77 295h12v1h-12zM338 295h3v1h-3zM551 290h1v6h-1zM61 296h13v1h-13zM81 296h1v1h-1zM338 296h2v1h-2zM424 294h12v3h-12zM61 297h12v2h-12zM173 298h18v1h-18zM576 294h1v5h-1zM667 298h5v1h-5zM61 299h4v1h-4zM69 299h4v1h-4zM171 299h21v1h-21zM423 297h1v3h-1zM472 299h5v1h-5zM576 299h2v1h-2zM630 299h3v1h-3zM666 299h6v1h-6zM171 300h24v1h-24zM550 297h1v4h-1zM629 300h8v1h-8zM70 300h3v2h-3zM171 301h8v1h-8zM190 301h10v1h-10zM298 301h10v1h-10zM338 301h1v1h-1zM472 300h13v2h-13zM519 301h32v1h-32zM577 300h1v2h-1zM629 301h21v1h-21zM665 300h7v2h-7zM71 302h2v1h-2zM192 302h9v1h-9zM290 302h20v1h-20zM335 302h5v1h-5zM517 302h33v1h-33zM577 302h2v1h-2zM629 302h25v1h-25zM665 302h3v1h-3zM72 303h2v1h-2zM170 302h1v2h-1zM194 303h8v1h-8zM289 303h10v1h-10zM307 303h3v1h-3zM333 303h7v1h-7zM471 302h15v2h-15zM502 303h48v1h-48zM577 303h4v1h-4zM602 303h25v1h-25zM628 303h26v1h-26zM664 303h3v1h-3zM143 304h11v1h-11zM169 304h1v1h-1zM198 304h5v1h-5zM288 304h3v1h-3zM309 304h2v1h-2zM331 304h9v1h-9zM422 302h1v3h-1zM485 304h1v1h-1zM501 304h49v1h-49zM578 304h6v1h-6zM600 304h30v1h-30zM633 304h22v1h-22zM664 304h2v1h-2zM142 305h14v1h-14zM168 305h2v1h-2zM201 305h4v1h-4zM286 305h3v1h-3zM310 305h1v1h-1zM330 305h10v1h-10zM412 305h10v1h-10zM471 304h1v2h-1zM501 305h18v1h-18zM537 305h12v1h-12zM578 305h14v1h-14zM596 305h33v1h-33zM637 305h18v1h-18zM73 304h1v3h-1zM141 306h2v1h-2zM154 306h15v1h-15zM202 306h4v1h-4zM284 306h3v1h-3zM310 306h31v1h-31zM394 306h28v1h-28zM486 305h1v2h-1zM500 306h2v1h-2zM579 306h50v1h-50zM648 306h7v1h-7zM140 307h2v1h-2zM157 307h10v1h-10zM203 307h4v1h-4zM282 307h4v1h-4zM311 307h24v1h-24zM339 307h2v1h-2zM342 307h1v1h-1zM393 307h2v1h-2zM396 307h10v1h-10zM486 307h15v1h-15zM580 307h21v1h-21zM664 305h1v3h-1zM139 308h2v1h-2zM204 308h4v1h-4zM280 308h3v1h-3zM311 308h20v1h-20zM340 308h5v1h-5zM393 308h1v1h-1zM487 308h14v1h-14zM582 308h17v1h-17zM654 307h1v2h-1zM139 309h1v1h-1zM205 309h4v1h-4zM279 309h2v1h-2zM311 309h19v1h-19zM340 309h8v1h-8zM354 309h1v1h-1zM392 309h1v1h-1zM589 309h8v1h-8zM74 308h1v3h-1zM206 310h6v1h-6zM278 310h2v1h-2zM340 310h15v1h-15zM391 310h2v1h-2zM455 306h1v5h-1zM470 308h1v3h-1zM207 311h5v1h-5zM277 311h2v1h-2zM391 311h1v1h-1zM663 308h1v4h-1zM209 312h4v1h-4zM277 312h1v1h-1zM341 311h15v2h-15zM390 312h2v1h-2zM456 312h2v1h-2zM469 312h1v1h-1zM655 310h1v3h-1zM210 313h3v1h-3zM254 312h2v2h-2zM276 313h1v1h-1zM345 313h32v1h-32zM390 313h1v1h-1zM655 313h2v1h-2zM212 314h2v1h-2zM253 314h4v1h-4zM274 314h3v1h-3zM347 314h31v1h-31zM389 314h2v1h-2zM456 313h14v2h-14zM656 314h2v1h-2zM662 313h1v2h-1zM213 315h2v1h-2zM271 315h5v1h-5zM349 315h4v1h-4zM356 315h34v1h-34zM75 313h1v4h-1zM213 316h3v1h-3zM234 316h6v1h-6zM253 315h1v2h-1zM256 315h1v2h-1zM265 316h9v1h-9zM377 316h13v1h-13zM656 315h7v2h-7zM214 317h6v1h-6zM233 317h8v1h-8zM261 317h11v1h-11zM378 317h11v1h-11zM657 317h5v1h-5zM138 315h1v4h-1zM215 318h14v1h-14zM232 318h9v1h-9zM257 317h1v2h-1zM259 318h9v1h-9zM658 318h4v1h-4zM217 319h17v1h-17zM240 319h2v1h-2zM252 317h1v3h-1zM257 319h6v1h-6zM221 320h12v1h-12zM241 320h2v1h-2zM258 320h3v1h-3zM229 321h3v1h-3zM241 321h5v1h-5zM251 320h1v2h-1zM258 321h1v1h-1zM242 322h5v1h-5zM250 322h2v1h-2zM119 323h2v1h-2zM243 323h6v1h-6zM250 323h1v1h-1zM117 324h6v1h-6zM244 324h7v1h-7zM246 325h5v1h-5zM76 325h1v2h-1zM114 325h12v2h-12zM247 326h4v1h-4zM76 327h2v1h-2zM249 327h1v1h-1zM76 328h3v1h-3zM113 327h13v2h-13zM76 329h4v1h-4zM113 329h5v1h-5zM122 329h5v1h-5zM76 330h5v1h-5zM113 330h3v1h-3zM124 330h3v1h-3zM112 331h3v1h-3zM125 331h2v1h-2zM77 331h4v2h-4zM77 333h5v1h-5zM112 332h2v2h-2zM78 334h4v2h-4zM112 334h1v3h-1zM79 336h3v2h-3zM80 338h2v2h-2zM126 332h1v8h-1zM80 340h3v2h-3zM111 337h2v8h-2zM111 345h1v27h-1zM81 342h2v33h-2zM80 375h3v2h-3zM80 377h2v3h-2zM111 372h2v9h-2zM79 380h3v2h-3zM78 382h4v2h-4zM112 381h1v3h-1zM77 384h5v1h-5zM77 385h4v1h-4zM112 384h2v3h-2zM126 378h1v9h-1zM76 386h5v2h-5zM112 387h4v1h-4zM124 387h3v1h-3zM113 388h4v1h-4zM123 388h4v1h-4zM76 388h4v2h-4zM113 389h6v1h-6zM121 389h5v1h-5zM76 390h3v1h-3zM76 391h2v1h-2zM113 390h13v2h-13zM249 391h1v1h-1zM76 392h1v1h-1zM114 392h12v1h-12zM248 392h2v1h-2zM115 393h10v1h-10zM247 393h4v1h-4zM349 393h3v1h-3zM117 394h6v1h-6zM246 394h5v1h-5zM348 394h7v1h-7zM244 395h7v1h-7zM346 395h9v1h-9zM242 396h7v1h-7zM250 396h1v1h-1zM345 396h10v1h-10zM242 397h6v1h-6zM250 397h2v1h-2zM343 397h7v1h-7zM351 397h5v1h-5zM230 398h2v1h-2zM241 398h5v1h-5zM342 398h6v1h-6zM354 398h2v1h-2zM223 399h10v1h-10zM241 399h3v1h-3zM251 398h1v2h-1zM258 399h2v1h-2zM342 399h4v1h-4zM218 400h15v1h-15zM240 400h2v1h-2zM258 400h4v1h-4zM342 400h2v1h-2zM355 399h1v2h-1zM378 400h11v1h-11zM216 401h26v1h-26zM257 401h9v1h-9zM356 401h1v1h-1zM378 401h12v1h-12zM75 399h1v4h-1zM138 399h1v4h-1zM212 402h13v1h-13zM233 402h8v1h-8zM260 402h10v1h-10zM356 402h34v1h-34zM209 403h9v1h-9zM233 403h7v1h-7zM252 401h1v3h-1zM257 402h1v2h-1zM262 403h11v1h-11zM341 401h1v3h-1zM356 403h22v1h-22zM389 403h2v1h-2zM207 404h8v1h-8zM266 404h9v1h-9zM357 404h21v1h-21zM390 404h1v1h-1zM205 405h6v1h-6zM253 404h1v2h-1zM256 404h1v2h-1zM271 405h6v1h-6zM390 405h2v1h-2zM657 405h5v1h-5zM74 405h1v2h-1zM203 406h5v1h-5zM253 406h4v1h-4zM274 406h5v1h-5zM391 406h1v1h-1zM657 406h6v1h-6zM202 407h4v1h-4zM276 407h4v1h-4zM391 407h2v1h-2zM656 407h7v1h-7zM200 408h4v1h-4zM254 407h2v2h-2zM278 408h3v1h-3zM392 408h1v1h-1zM655 408h3v1h-3zM662 408h1v1h-1zM139 408h1v2h-1zM196 409h6v1h-6zM280 409h3v1h-3zM340 406h1v4h-1zM392 409h2v1h-2zM645 409h12v1h-12zM662 409h2v1h-2zM73 408h1v3h-1zM140 410h1v1h-1zM159 410h8v1h-8zM193 410h7v1h-7zM281 410h4v1h-4zM309 410h1v1h-1zM339 410h1v1h-1zM393 410h1v1h-1zM592 410h4v1h-4zM635 410h21v1h-21zM663 410h1v1h-1z"/>
<path fill="#0066ff" d="M300 157h29v1h-29zM299 158h30v1h-30zM298 159h31v1h-31zM566 159h6v1h-6zM297 160h32v1h-32zM556 160h17v1h-17zM297 161h33v1h-33zM555 161h18v1h-18zM554 162h19v1h-19zM188 161h12v3h-12zM296 162h34v2h-34zM444 163h6v1h-6zM440 164h15v1h-15zM553 163h21v2h-21zM295 164h35v2h-35zM437 165h32v1h-32zM552 165h22v1h-22zM435 166h34v1h-34zM187 164h14v4h-14zM294 166h36v2h-36zM432 167h37v1h-37zM551 166h24v2h-24zM77 168h1v1h-1zM293 168h37v1h-37zM429 168h41v1h-41zM76 169h4v1h-4zM427 169h43v1h-43zM551 168h25v2h-25zM75 170h7v1h-7zM187 168h15v3h-15zM292 169h39v2h-39zM551 170h26v1h-26zM74 171h9v1h-9zM291 171h40v1h-40zM426 170h44v2h-44zM73 172h12v1h-12zM186 171h17v2h-17zM291 172h41v1h-41zM551 171h27v2h-27zM66 173h20v1h-20zM186 173h19v1h-19zM291 173h42v1h-42zM425 172h45v2h-45zM551 173h28v1h-28zM61 174h26v1h-26zM186 174h22v1h-22zM290 174h44v1h-44zM551 174h29v1h-29zM61 175h27v1h-27zM186 175h25v1h-25zM290 175h45v1h-45zM424 174h47v2h-47zM550 175h31v1h-31zM61 176h28v1h-28zM185 176h28v1h-28zM290 176h46v1h-46zM424 176h18v1h-18zM454 176h17v1h-17zM550 176h17v1h-17zM572 176h10v1h-10zM61 177h29v1h-29zM185 177h32v1h-32zM290 177h47v1h-47zM456 177h22v1h-22zM550 177h5v1h-5zM573 177h10v1h-10zM61 178h30v1h-30zM117 178h5v1h-5zM183 178h37v1h-37zM289 178h11v1h-11zM329 178h9v1h-9zM423 177h14v2h-14zM459 178h26v1h-26zM550 178h4v1h-4zM573 178h14v1h-14zM61 179h31v1h-31zM114 179h24v1h-24zM180 179h42v1h-42zM289 179h9v1h-9zM329 179h10v1h-10zM423 179h13v1h-13zM466 179h19v1h-19zM550 179h2v1h-2zM573 179h21v1h-21zM61 180h32v1h-32zM111 180h27v1h-27zM177 180h11v1h-11zM200 180h23v1h-23zM289 180h8v1h-8zM330 180h11v1h-11zM423 180h12v1h-12zM573 180h24v1h-24zM61 181h33v1h-33zM107 181h31v1h-31zM174 181h14v1h-14zM201 181h24v1h-24zM289 181h7v1h-7zM330 181h12v1h-12zM422 181h11v1h-11zM469 180h17v2h-17zM550 180h1v2h-1zM670 181h2v1h-2zM61 182h35v1h-35zM101 182h37v1h-37zM173 182h14v1h-14zM202 182h24v1h-24zM330 182h13v1h-13zM422 182h9v1h-9zM666 182h6v1h-6zM61 183h14v1h-14zM82 183h56v1h-56zM172 183h15v1h-15zM204 183h24v1h-24zM288 182h7v2h-7zM330 183h15v1h-15zM422 183h7v1h-7zM470 182h16v2h-16zM574 181h24v3h-24zM662 183h10v1h-10zM61 184h5v1h-5zM84 184h54v1h-54zM171 184h15v1h-15zM205 184h24v1h-24zM287 184h7v1h-7zM330 184h16v1h-16zM422 184h6v1h-6zM549 182h2v3h-2zM575 184h24v1h-24zM658 184h14v1h-14zM86 185h52v1h-52zM171 185h14v1h-14zM208 185h22v1h-22zM287 185h6v1h-6zM331 185h16v1h-16zM418 185h9v1h-9zM470 184h17v2h-17zM519 185h32v1h-32zM576 185h23v1h-23zM652 185h20v1h-20zM87 186h51v1h-51zM171 186h12v1h-12zM211 186h21v1h-21zM287 186h5v1h-5zM331 186h18v1h-18zM411 186h15v1h-15zM471 186h19v1h-19zM519 186h31v1h-31zM577 186h95v1h-95zM89 187h50v1h-50zM171 187h6v1h-6zM218 187h15v1h-15zM286 187h5v1h-5zM331 187h20v1h-20zM378 187h6v1h-6zM406 187h19v1h-19zM471 187h26v1h-26zM579 187h93v1h-93zM90 188h49v1h-49zM170 188h3v1h-3zM222 188h13v1h-13zM260 188h5v1h-5zM283 188h8v1h-8zM332 188h20v1h-20zM377 188h15v1h-15zM405 188h19v1h-19zM474 188h26v1h-26zM580 188h92v1h-92zM91 189h25v1h-25zM223 189h17v1h-17zM257 189h14v1h-14zM277 189h13v1h-13zM334 189h20v1h-20zM377 189h18v1h-18zM403 189h20v1h-20zM481 189h20v1h-20zM518 187h32v3h-32zM582 189h90v1h-90zM92 190h20v1h-20zM224 190h23v1h-23zM253 190h37v1h-37zM337 190h25v1h-25zM372 190h26v1h-26zM401 190h22v1h-22zM485 190h17v1h-17zM517 190h33v1h-33zM583 190h89v1h-89zM93 191h14v1h-14zM170 189h2v3h-2zM225 191h64v1h-64zM339 191h84v1h-84zM485 191h65v1h-65zM587 191h85v1h-85zM96 192h5v1h-5zM168 192h3v1h-3zM226 192h63v1h-63zM341 192h81v1h-81zM594 192h78v1h-78zM165 193h6v1h-6zM228 193h60v1h-60zM343 193h79v1h-79zM486 192h64v2h-64zM597 193h75v1h-75zM162 194h9v1h-9zM229 194h59v1h-59zM345 194h77v1h-77zM486 194h63v1h-63zM598 194h71v1h-71zM159 195h12v1h-12zM230 195h57v1h-57zM347 195h75v1h-75zM598 195h65v1h-65zM138 189h1v8h-1zM157 196h14v1h-14zM232 196h55v1h-55zM349 196h73v1h-73zM487 195h62v2h-62zM599 196h59v1h-59zM156 197h14v1h-14zM233 197h54v1h-54zM350 197h68v1h-68zM490 197h29v1h-29zM534 197h15v1h-15zM599 197h56v1h-56zM155 198h15v1h-15zM235 198h51v1h-51zM351 198h55v1h-55zM497 198h21v1h-21zM599 198h53v1h-53zM153 199h17v1h-17zM238 199h48v1h-48zM353 199h25v1h-25zM392 199h13v1h-13zM500 199h18v1h-18zM152 200h18v1h-18zM242 200h38v1h-38zM354 200h23v1h-23zM395 200h8v1h-8zM501 200h17v1h-17zM139 201h3v1h-3zM149 201h21v1h-21zM246 201h14v1h-14zM356 201h16v1h-16zM398 201h3v1h-3zM502 201h15v1h-15zM249 202h7v1h-7zM139 202h31v4h-31zM139 206h29v1h-29zM139 207h26v1h-26zM139 208h23v1h-23zM139 209h19v1h-19zM139 210h15v1h-15zM139 211h14v3h-14zM139 214h13v2h-13zM139 216h9v1h-9zM139 238h8v1h-8zM139 239h13v2h-13zM139 241h14v3h-14zM139 244h15v2h-15zM139 246h31v7h-31zM283 252h3v1h-3zM149 253h21v1h-21zM277 253h10v1h-10zM393 253h13v1h-13zM152 254h18v1h-18zM271 254h16v1h-16zM393 254h14v1h-14zM265 255h22v1h-22zM393 255h25v1h-25zM153 255h17v2h-17zM258 256h30v1h-30zM393 256h29v1h-29zM154 257h16v1h-16zM253 257h35v1h-35zM161 258h9v1h-9zM235 258h53v1h-53zM599 254h29v5h-29zM167 259h3v1h-3zM232 259h57v1h-57zM599 259h30v1h-30zM230 260h60v1h-60zM392 257h30v4h-30zM487 260h14v1h-14zM519 260h30v1h-30zM228 261h62v1h-62zM392 261h31v1h-31zM486 261h16v1h-16zM518 261h31v1h-31zM225 262h67v1h-67zM486 262h63v1h-63zM223 263h70v1h-70zM392 262h44v2h-44zM485 263h64v1h-64zM598 260h31v4h-31zM221 264h74v1h-74zM403 264h33v1h-33zM471 264h78v1h-78zM220 265h76v1h-76zM392 264h1v2h-1zM597 264h33v2h-33zM219 266h65v1h-65zM288 266h9v1h-9zM471 265h79v2h-79zM596 266h67v1h-67zM218 267h63v1h-63zM291 267h9v1h-9zM357 264h20v4h-20zM406 265h30v3h-30zM593 267h75v1h-75zM217 268h61v1h-61zM293 268h36v1h-36zM391 266h2v3h-2zM407 268h29v1h-29zM589 268h83v1h-83zM216 269h59v1h-59zM296 269h33v1h-33zM357 268h21v2h-21zM391 269h1v1h-1zM418 269h18v1h-18zM470 267h80v3h-80zM586 269h86v1h-86zM170 262h1v9h-1zM215 270h55v1h-55zM298 270h32v1h-32zM357 270h35v1h-35zM470 270h32v1h-32zM517 270h33v1h-33zM583 270h89v1h-89zM214 271h50v1h-50zM470 271h31v1h-31zM582 271h90v1h-90zM138 261h1v12h-1zM213 272h47v1h-47zM299 271h31v2h-31zM469 272h18v1h-18zM518 271h33v2h-33zM580 272h19v1h-19zM212 273h44v1h-44zM300 273h30v1h-30zM422 270h14v4h-14zM469 273h17v1h-17zM519 273h32v1h-32zM579 273h20v1h-20zM628 272h44v2h-44zM171 274h1v1h-1zM187 274h65v1h-65zM301 274h30v1h-30zM456 274h30v1h-30zM577 274h22v1h-22zM171 275h2v1h-2zM186 275h61v1h-61zM329 275h2v1h-2zM423 274h13v2h-13zM456 275h29v1h-29zM576 275h22v1h-22zM171 276h49v1h-49zM226 276h17v1h-17zM329 276h3v1h-3zM356 271h36v6h-36zM428 276h8v1h-8zM549 274h2v3h-2zM575 276h23v1h-23zM171 277h48v1h-48zM234 277h4v1h-4zM329 277h4v1h-4zM356 277h35v1h-35zM456 276h15v2h-15zM550 277h2v1h-2zM574 277h23v1h-23zM629 274h43v4h-43zM171 278h46v1h-46zM330 278h5v1h-5zM377 278h14v1h-14zM550 278h4v1h-4zM573 278h23v1h-23zM94 279h6v1h-6zM171 279h45v1h-45zM330 279h6v1h-6zM356 278h1v2h-1zM378 279h13v1h-13zM456 278h14v2h-14zM550 279h6v1h-6zM572 279h17v1h-17zM630 278h42v2h-42zM61 280h12v1h-12zM93 280h10v1h-10zM171 280h43v1h-43zM330 280h8v1h-8zM550 280h34v1h-34zM630 280h25v1h-25zM664 280h8v1h-8zM61 281h15v1h-15zM92 281h15v1h-15zM172 281h41v1h-41zM331 281h8v1h-8zM355 280h2v2h-2zM455 280h15v2h-15zM550 281h32v1h-32zM61 282h16v1h-16zM91 282h47v1h-47zM172 282h38v1h-38zM331 282h25v1h-25zM455 282h14v1h-14zM551 282h30v1h-30zM61 283h17v1h-17zM90 283h48v1h-48zM176 283h30v1h-30zM332 283h24v1h-24zM551 283h29v1h-29zM89 284h49v1h-49zM333 284h23v1h-23zM61 284h18v2h-18zM88 285h50v1h-50zM334 285h22v1h-22zM551 284h27v2h-27zM61 286h19v1h-19zM87 286h51v1h-51zM335 286h21v1h-21zM61 287h20v1h-20zM83 287h11v1h-11zM96 287h42v1h-42zM336 287h19v1h-19zM455 283h1v5h-1zM551 286h26v2h-26zM61 288h32v1h-32zM99 288h39v1h-39zM337 288h18v1h-18zM101 289h37v1h-37zM338 289h17v1h-17zM551 288h25v2h-25zM61 289h31v2h-31zM103 290h35v1h-35zM339 290h8v1h-8zM354 290h1v1h-1zM61 291h30v1h-30zM106 291h32v1h-32zM61 292h29v1h-29zM552 290h24v3h-24zM61 293h10v1h-10zM77 293h12v1h-12zM552 293h23v1h-23zM62 294h8v1h-8zM80 294h6v1h-6zM66 295h4v1h-4zM552 294h24v2h-24zM436 280h1v17h-1zM65 299h4v1h-4zM424 297h12v3h-12zM551 296h25v4h-25zM61 300h9v2h-9zM179 301h11v1h-11zM551 300h26v2h-26zM61 302h10v1h-10zM171 302h21v1h-21zM423 300h13v3h-13zM550 302h27v1h-27zM668 302h4v1h-4zM61 303h11v1h-11zM171 303h23v1h-23zM299 303h8v1h-8zM550 303h5v1h-5zM573 303h4v1h-4zM667 303h5v1h-5zM170 304h28v1h-28zM291 304h18v1h-18zM423 303h1v2h-1zM472 304h13v1h-13zM550 304h3v1h-3zM630 304h3v1h-3zM666 304h6v1h-6zM170 305h31v1h-31zM289 305h21v1h-21zM422 305h2v1h-2zM472 305h14v1h-14zM519 305h18v1h-18zM549 305h3v1h-3zM575 304h3v2h-3zM629 305h8v1h-8zM61 304h12v3h-12zM143 306h11v1h-11zM169 306h33v1h-33zM287 306h23v1h-23zM422 306h1v1h-1zM502 306h50v1h-50zM576 306h3v1h-3zM629 306h19v1h-19zM61 307h13v1h-13zM142 307h15v1h-15zM167 307h4v1h-4zM190 307h13v1h-13zM286 307h25v1h-25zM335 307h4v1h-4zM395 307h1v1h-1zM406 307h17v1h-17zM471 306h15v2h-15zM576 307h4v1h-4zM601 307h53v1h-53zM665 305h7v3h-7zM69 308h5v1h-5zM141 308h30v1h-30zM192 308h12v1h-12zM283 308h17v1h-17zM305 308h6v1h-6zM331 308h9v1h-9zM394 308h29v1h-29zM471 308h16v1h-16zM501 307h50v2h-50zM576 308h6v1h-6zM599 308h55v1h-55zM70 309h4v1h-4zM140 309h30v1h-30zM193 309h12v1h-12zM281 309h9v1h-9zM308 309h3v1h-3zM330 309h10v1h-10zM454 294h1v16h-1zM577 309h12v1h-12zM597 309h58v1h-58zM664 308h8v2h-8zM72 310h2v1h-2zM139 310h4v1h-4zM154 310h15v1h-15zM196 310h10v1h-10zM280 310h8v1h-8zM310 310h30v1h-30zM393 309h29v2h-29zM471 309h80v2h-80zM664 310h5v1h-5zM139 311h3v1h-3zM156 311h12v1h-12zM200 311h7v1h-7zM279 311h7v1h-7zM392 311h20v1h-20zM479 311h71v1h-71zM664 311h3v1h-3zM159 312h7v1h-7zM201 312h8v1h-8zM278 312h6v1h-6zM310 311h31v2h-31zM392 312h3v1h-3zM470 311h2v2h-2zM486 312h34v1h-34zM535 312h15v1h-15zM577 310h78v3h-78zM73 311h2v3h-2zM139 312h2v2h-2zM202 313h8v1h-8zM277 313h6v1h-6zM310 313h35v1h-35zM486 313h32v1h-32zM578 313h51v1h-51zM632 313h23v1h-23zM663 312h3v2h-3zM139 314h1v1h-1zM203 314h9v1h-9zM277 314h4v1h-4zM311 314h36v1h-36zM391 313h3v2h-3zM455 311h1v4h-1zM470 313h1v2h-1zM499 314h2v1h-2zM578 314h24v1h-24zM634 314h22v1h-22zM204 315h9v1h-9zM276 315h4v1h-4zM311 315h38v1h-38zM353 315h3v1h-3zM579 315h21v1h-21zM639 315h17v1h-17zM663 314h2v2h-2zM74 314h1v3h-1zM205 316h8v1h-8zM254 315h2v2h-2zM274 316h5v1h-5zM311 316h22v1h-22zM339 316h38v1h-38zM390 315h3v2h-3zM581 316h17v1h-17zM649 316h7v1h-7zM663 316h1v1h-1zM206 317h8v1h-8zM272 317h6v1h-6zM312 317h18v1h-18zM340 317h38v1h-38zM389 317h3v1h-3zM455 315h16v3h-16zM584 317h13v1h-13zM654 317h3v1h-3zM74 317h2v2h-2zM207 318h8v1h-8zM268 318h10v1h-10zM594 318h2v1h-2zM654 318h4v1h-4zM662 317h2v2h-2zM207 319h10v1h-10zM234 319h6v1h-6zM253 317h4v3h-4zM263 319h14v1h-14zM340 318h52v2h-52zM456 318h14v2h-14zM208 320h13v1h-13zM233 320h8v1h-8zM261 320h16v1h-16zM340 320h51v1h-51zM460 320h9v1h-9zM655 319h9v2h-9zM210 321h19v1h-19zM232 321h9v1h-9zM256 320h2v2h-2zM259 321h17v1h-17zM341 321h50v1h-50zM212 322h30v1h-30zM252 320h2v3h-2zM256 322h18v1h-18zM655 321h8v2h-8zM213 323h30v1h-30zM257 323h16v1h-16zM341 322h49v2h-49zM213 324h31v1h-31zM257 324h15v1h-15zM342 324h15v1h-15zM377 324h13v1h-13zM656 323h7v2h-7zM214 325h32v1h-32zM257 325h12v1h-12zM342 325h14v1h-14zM378 325h12v1h-12zM656 325h6v1h-6zM215 326h32v1h-32zM251 323h2v4h-2zM257 326h9v1h-9zM343 326h13v1h-13zM378 326h11v1h-11zM657 326h5v1h-5zM75 319h1v9h-1zM217 327h17v1h-17zM240 327h9v1h-9zM250 327h3v1h-3zM257 327h7v1h-7zM379 327h10v1h-10zM658 327h4v1h-4zM138 319h1v10h-1zM219 328h14v1h-14zM258 328h4v1h-4zM344 327h12v2h-12zM118 329h4v1h-4zM221 329h12v1h-12zM258 329h3v1h-3zM345 329h10v1h-10zM116 330h8v1h-8zM225 330h8v1h-8zM258 330h2v1h-2zM115 331h10v1h-10zM228 331h4v1h-4zM258 331h1v1h-1zM346 330h9v2h-9zM231 332h1v1h-1zM241 328h11v5h-11zM76 331h1v3h-1zM114 332h12v2h-12zM76 334h2v2h-2zM242 333h10v3h-10zM347 332h8v4h-8zM242 336h9v1h-9zM76 336h3v2h-3zM113 334h13v6h-13zM243 337h8v3h-8zM76 338h4v4h-4zM244 340h7v3h-7zM348 336h6v8h-6zM113 340h14v5h-14zM348 344h7v2h-7zM348 346h6v25h-6zM112 345h15v27h-15zM348 371h7v1h-7zM76 342h5v33h-5zM245 343h6v32h-6zM347 372h8v5h-8zM113 372h14v6h-14zM244 375h7v4h-7zM76 375h4v5h-4zM346 377h9v3h-9zM243 379h8v2h-8zM76 380h3v2h-3zM242 381h9v1h-9zM345 380h10v2h-10zM344 382h11v1h-11zM76 382h2v2h-2zM113 378h13v6h-13zM343 383h12v1h-12zM343 384h13v1h-13zM76 384h1v2h-1zM242 382h10v4h-10zM114 384h12v3h-12zM231 386h1v1h-1zM116 387h8v1h-8zM228 387h4v1h-4zM258 387h1v1h-1zM117 388h6v1h-6zM225 388h8v1h-8zM119 389h2v1h-2zM222 389h11v1h-11zM258 388h2v2h-2zM379 389h10v1h-10zM219 390h14v1h-14zM241 386h11v5h-11zM258 390h3v1h-3zM342 385h14v6h-14zM218 391h16v1h-16zM240 391h9v1h-9zM257 391h6v1h-6zM378 390h11v2h-11zM216 392h18v1h-18zM240 392h8v1h-8zM250 391h3v2h-3zM257 392h8v1h-8zM341 391h16v2h-16zM378 392h12v1h-12zM214 393h33v1h-33zM257 393h10v1h-10zM341 393h8v1h-8zM352 393h5v1h-5zM377 393h13v1h-13zM213 394h33v1h-33zM257 394h12v1h-12zM341 394h7v1h-7zM210 395h34v1h-34zM257 395h15v1h-15zM341 395h5v1h-5zM355 394h35v2h-35zM658 395h4v1h-4zM208 396h34v1h-34zM251 393h2v4h-2zM257 396h16v1h-16zM341 396h4v1h-4zM355 396h36v1h-36zM657 396h5v1h-5zM75 389h1v9h-1zM207 397h35v1h-35zM256 397h18v1h-18zM340 397h3v1h-3zM356 397h35v1h-35zM657 397h6v1h-6zM74 398h2v1h-2zM138 389h1v10h-1zM206 398h24v1h-24zM232 398h9v1h-9zM256 398h20v1h-20zM204 399h19v1h-19zM233 399h8v1h-8zM252 397h2v3h-2zM256 399h2v1h-2zM260 399h17v1h-17zM356 398h36v2h-36zM656 398h7v2h-7zM203 400h15v1h-15zM233 400h7v1h-7zM252 400h6v1h-6zM262 400h16v1h-16zM340 398h2v3h-2zM356 400h22v1h-22zM389 400h3v1h-3zM655 400h8v1h-8zM202 401h14v1h-14zM266 401h13v1h-13zM357 401h21v1h-21zM646 401h18v1h-18zM74 399h1v4h-1zM201 402h11v1h-11zM270 402h10v1h-10zM340 401h1v2h-1zM390 401h3v2h-3zM637 402h27v1h-27zM199 403h10v1h-10zM253 401h4v3h-4zM273 403h8v1h-8zM339 403h2v1h-2zM391 403h2v1h-2zM586 403h11v1h-11zM634 403h30v1h-30zM73 403h2v2h-2zM139 403h1v2h-1zM196 404h11v1h-11zM275 404h7v1h-7zM320 404h21v1h-21zM391 404h3v1h-3zM580 404h17v1h-17zM631 404h34v1h-34zM73 405h1v1h-1zM139 405h2v1h-2zM160 405h6v1h-6zM193 405h12v1h-12zM254 404h2v2h-2zM277 405h7v1h-7zM310 405h31v1h-31zM392 405h2v1h-2zM579 405h19v1h-19zM630 405h27v1h-27zM662 405h3v1h-3zM139 406h3v1h-3zM157 406h11v1h-11zM192 406h11v1h-11zM279 406h7v1h-7zM309 406h31v1h-31zM392 406h3v1h-3zM578 406h21v1h-21zM629 406h28v1h-28zM663 406h3v1h-3zM72 406h2v2h-2zM139 407h4v1h-4zM154 407h15v1h-15zM191 407h11v1h-11zM280 407h8v1h-8zM307 407h33v1h-33zM393 407h3v1h-3zM501 407h17v1h-17zM537 407h13v1h-13zM577 407h23v1h-23zM628 407h28v1h-28zM140 408h60v1h-60zM281 408h59v1h-59zM393 408h17v1h-17zM499 408h21v1h-21zM535 408h16v1h-16zM577 408h25v1h-25zM628 408h27v1h-27zM663 407h4v2h-4zM71 408h2v2h-2zM140 409h56v1h-56zM283 409h57v1h-57zM394 409h28v1h-28zM471 409h81v1h-81zM576 409h69v1h-69zM664 409h6v1h-6zM70 410h3v1h-3zM141 410h18v1h-18zM167 410h26v1h-26zM285 410h24v1h-24zM310 410h29v1h-29zM394 410h30v1h-30zM438 410h15v1h-15zM457 410h97v1h-97zM574 410h18v1h-18zM596 410h39v1h-39zM664 410h8v1h-8z"/>
<path fill="#0099ff" d="M442 176h12v1h-12zM567 176h5v1h-5zM437 177h19v1h-19zM555 177h18v1h-18zM300 178h29v1h-29zM437 178h22v1h-22zM554 178h19v1h-19zM298 179h31v1h-31zM436 179h30v1h-30zM552 179h21v1h-21zM188 180h12v1h-12zM297 180h33v1h-33zM435 180h34v1h-34zM551 180h22v1h-22zM188 181h13v1h-13zM296 181h34v1h-34zM433 181h36v1h-36zM187 182h15v1h-15zM431 182h39v1h-39zM75 183h7v1h-7zM187 183h17v1h-17zM295 182h35v2h-35zM429 183h41v1h-41zM551 181h23v3h-23zM66 184h18v1h-18zM186 184h19v1h-19zM294 184h36v1h-36zM428 184h16v1h-16zM454 184h16v1h-16zM551 184h24v1h-24zM61 185h25v1h-25zM185 185h23v1h-23zM293 185h38v1h-38zM427 185h12v1h-12zM455 185h15v1h-15zM551 185h25v1h-25zM61 186h26v1h-26zM183 186h28v1h-28zM292 186h39v1h-39zM426 186h11v1h-11zM455 186h16v1h-16zM550 186h27v1h-27zM61 187h28v1h-28zM177 187h41v1h-41zM291 187h40v1h-40zM425 187h12v1h-12zM456 187h15v1h-15zM550 187h5v1h-5zM572 187h7v1h-7zM61 188h29v1h-29zM173 188h49v1h-49zM291 188h41v1h-41zM424 188h12v1h-12zM456 188h18v1h-18zM550 188h4v1h-4zM573 188h7v1h-7zM61 189h30v1h-30zM116 189h22v1h-22zM172 189h51v1h-51zM290 189h9v1h-9zM329 189h5v1h-5zM423 189h13v1h-13zM460 189h21v1h-21zM550 189h2v1h-2zM573 189h9v1h-9zM61 190h14v1h-14zM82 190h10v1h-10zM112 190h26v1h-26zM172 190h52v1h-52zM290 190h7v1h-7zM329 190h8v1h-8zM423 190h12v1h-12zM466 190h19v1h-19zM573 190h10v1h-10zM84 191h9v1h-9zM107 191h31v1h-31zM172 191h16v1h-16zM201 191h24v1h-24zM289 191h7v1h-7zM330 191h9v1h-9zM423 191h11v1h-11zM469 191h16v1h-16zM574 191h13v1h-13zM85 192h11v1h-11zM101 192h37v1h-37zM171 192h16v1h-16zM202 192h24v1h-24zM289 192h6v1h-6zM330 192h11v1h-11zM422 192h11v1h-11zM469 192h17v1h-17zM574 192h20v1h-20zM87 193h51v1h-51zM171 193h15v1h-15zM204 193h24v1h-24zM288 193h6v1h-6zM330 193h13v1h-13zM422 193h10v1h-10zM550 190h1v4h-1zM574 193h23v1h-23zM89 194h49v1h-49zM171 194h14v1h-14zM206 194h23v1h-23zM288 194h5v1h-5zM330 194h15v1h-15zM422 194h9v1h-9zM470 193h16v2h-16zM575 194h23v1h-23zM669 194h3v1h-3zM90 195h48v1h-48zM171 195h11v1h-11zM209 195h21v1h-21zM287 195h5v1h-5zM331 195h16v1h-16zM422 195h8v1h-8zM549 194h2v2h-2zM576 195h22v1h-22zM663 195h9v1h-9zM91 196h41v1h-41zM171 196h6v1h-6zM211 196h21v1h-21zM287 196h4v1h-4zM331 196h18v1h-18zM422 196h6v1h-6zM470 195h17v2h-17zM578 196h21v1h-21zM658 196h14v1h-14zM92 197h22v1h-22zM170 197h4v1h-4zM214 197h19v1h-19zM287 197h3v1h-3zM331 197h19v1h-19zM418 197h9v1h-9zM471 197h19v1h-19zM519 197h15v1h-15zM549 196h1v2h-1zM579 197h20v1h-20zM655 197h17v1h-17zM93 198h13v1h-13zM170 198h3v1h-3zM217 198h18v1h-18zM332 198h19v1h-19zM406 198h19v1h-19zM471 198h26v1h-26zM580 198h19v1h-19zM652 198h20v1h-20zM96 199h5v1h-5zM170 199h2v1h-2zM220 199h18v1h-18zM286 198h4v2h-4zM333 199h20v1h-20zM378 199h14v1h-14zM405 199h19v1h-19zM471 199h29v1h-29zM582 199h90v1h-90zM222 200h20v1h-20zM280 200h9v1h-9zM335 200h19v1h-19zM377 200h18v1h-18zM403 200h20v1h-20zM478 200h23v1h-23zM518 198h32v3h-32zM583 200h89v1h-89zM223 201h23v1h-23zM260 201h29v1h-29zM337 201h19v1h-19zM372 201h26v1h-26zM401 201h22v1h-22zM485 201h17v1h-17zM517 201h33v1h-33zM584 201h88v1h-88zM225 202h24v1h-24zM256 202h33v1h-33zM339 202h83v1h-83zM486 202h64v1h-64zM591 202h79v1h-79zM227 203h61v1h-61zM341 203h81v1h-81zM597 203h70v1h-70zM229 204h59v1h-59zM344 204h78v1h-78zM598 204h66v1h-66zM170 200h1v6h-1zM230 205h58v1h-58zM347 205h75v1h-75zM486 203h63v3h-63zM598 205h63v1h-63zM138 197h1v10h-1zM168 206h3v1h-3zM232 206h55v1h-55zM349 206h73v1h-73zM598 206h61v1h-61zM165 207h5v1h-5zM235 207h52v1h-52zM351 207h71v1h-71zM487 206h62v2h-62zM599 207h57v1h-57zM162 208h8v1h-8zM237 208h50v1h-50zM352 208h70v1h-70zM599 208h54v1h-54zM158 209h12v1h-12zM238 209h48v1h-48zM353 209h24v1h-24zM500 208h19v2h-19zM599 209h52v1h-52zM154 210h16v1h-16zM240 210h46v1h-46zM354 210h23v1h-23zM391 209h31v2h-31zM243 211h41v1h-41zM392 211h30v1h-30zM246 212h16v1h-16zM267 212h10v1h-10zM392 212h26v1h-26zM153 211h17v3h-17zM249 213h12v1h-12zM501 210h17v4h-17zM251 214h9v1h-9zM152 214h18v2h-18zM252 215h8v1h-8zM502 214h15v2h-15zM148 216h22v1h-22zM253 216h5v1h-5zM254 217h3v1h-3zM392 213h15v5h-15zM255 218h1v1h-1zM393 218h14v1h-14zM393 219h13v6h-13zM400 225h2v1h-2zM393 231h13v5h-13zM139 217h31v21h-31zM147 238h23v1h-23zM393 236h14v4h-14zM152 239h18v2h-18zM502 241h15v2h-15zM153 241h17v3h-17zM254 244h2v1h-2zM502 243h16v2h-16zM154 244h16v2h-16zM252 245h7v1h-7zM278 245h8v1h-8zM501 245h17v1h-17zM246 246h15v1h-15zM266 246h21v1h-21zM501 246h18v1h-18zM239 247h48v1h-48zM599 246h29v2h-29zM235 248h53v1h-53zM501 247h48v2h-48zM232 249h56v1h-56zM500 249h49v1h-49zM599 248h30v2h-30zM230 250h59v1h-59zM228 251h61v1h-61zM392 240h30v12h-30zM487 250h62v2h-62zM225 252h58v1h-58zM286 252h4v1h-4zM392 252h31v1h-31zM222 253h55v1h-55zM287 253h3v1h-3zM392 253h1v1h-1zM406 253h17v1h-17zM486 252h63v2h-63zM598 250h31v4h-31zM221 254h50v1h-50zM407 254h29v1h-29zM486 254h64v1h-64zM220 255h45v1h-45zM287 254h4v2h-4zM418 255h18v1h-18zM485 255h65v1h-65zM597 254h2v2h-2zM219 256h39v1h-39zM288 256h4v1h-4zM357 252h20v5h-20zM391 254h2v3h-2zM595 256h4v1h-4zM218 257h35v1h-35zM288 257h5v1h-5zM357 257h21v1h-21zM471 256h79v2h-79zM592 257h7v1h-7zM628 254h2v4h-2zM217 258h18v1h-18zM288 258h6v1h-6zM356 258h22v1h-22zM391 257h1v2h-1zM589 258h10v1h-10zM628 258h44v1h-44zM216 259h16v1h-16zM289 259h6v1h-6zM470 258h80v2h-80zM586 259h13v1h-13zM138 256h1v5h-1zM215 260h15v1h-15zM290 260h7v1h-7zM422 256h14v5h-14zM470 260h17v1h-17zM501 260h18v1h-18zM583 260h15v1h-15zM170 254h1v8h-1zM214 261h14v1h-14zM290 261h39v1h-39zM423 261h13v1h-13zM502 261h16v1h-16zM582 261h16v1h-16zM213 262h12v1h-12zM292 262h37v1h-37zM470 261h16v2h-16zM549 260h1v3h-1zM581 262h17v1h-17zM212 263h11v1h-11zM293 263h37v1h-37zM356 259h36v5h-36zM469 263h16v1h-16zM579 263h19v1h-19zM629 259h43v5h-43zM171 264h1v1h-1zM210 264h11v1h-11zM295 264h35v1h-35zM549 263h2v2h-2zM578 264h19v1h-19zM171 265h2v1h-2zM206 265h14v1h-14zM296 265h34v1h-34zM377 264h15v2h-15zM469 264h2v2h-2zM577 265h20v1h-20zM630 264h42v2h-42zM171 266h48v1h-48zM297 266h33v1h-33zM456 266h15v1h-15zM550 265h1v2h-1zM575 266h21v1h-21zM663 266h9v1h-9zM171 267h47v1h-47zM300 267h30v1h-30zM377 266h14v2h-14zM550 267h3v1h-3zM574 267h19v1h-19zM668 267h4v1h-4zM96 268h3v1h-3zM171 268h46v1h-46zM550 268h39v1h-39zM93 269h9v1h-9zM171 269h45v1h-45zM329 268h2v2h-2zM378 268h13v2h-13zM550 269h36v1h-36zM61 270h12v1h-12zM92 270h15v1h-15zM171 270h44v1h-44zM330 270h2v1h-2zM356 264h1v7h-1zM550 270h33v1h-33zM61 271h15v1h-15zM171 271h43v1h-43zM330 271h4v1h-4zM456 267h14v5h-14zM551 271h31v1h-31zM91 271h47v2h-47zM171 272h42v1h-42zM330 272h5v1h-5zM551 272h29v1h-29zM61 272h17v2h-17zM90 273h48v1h-48zM171 273h41v1h-41zM330 273h7v1h-7zM455 272h14v2h-14zM551 273h28v1h-28zM61 274h18v1h-18zM89 274h49v1h-49zM172 274h15v1h-15zM331 274h7v1h-7zM551 274h26v1h-26zM88 275h50v1h-50zM173 275h13v1h-13zM331 275h8v1h-8zM355 272h1v4h-1zM551 275h25v1h-25zM61 275h19v2h-19zM87 276h51v1h-51zM332 276h24v1h-24zM551 276h24v1h-24zM85 277h53v1h-53zM333 277h23v1h-23zM552 277h22v1h-22zM61 277h20v2h-20zM83 278h55v1h-55zM335 278h21v1h-21zM554 278h19v1h-19zM61 279h33v1h-33zM100 279h38v1h-38zM336 279h20v1h-20zM436 269h1v11h-1zM455 274h1v6h-1zM556 279h16v1h-16zM73 280h20v1h-20zM103 280h35v1h-35zM338 280h17v1h-17zM76 281h16v1h-16zM107 281h31v1h-31zM339 281h16v1h-16zM77 282h14v1h-14zM78 283h12v1h-12zM79 284h10v1h-10zM79 285h9v1h-9zM80 286h7v1h-7zM81 287h2v1h-2zM454 284h1v10h-1zM453 299h1v1h-1zM451 300h3v1h-3zM436 297h1v6h-1zM424 303h13v1h-13zM555 303h18v1h-18zM553 304h22v1h-22zM424 304h12v2h-12zM552 305h23v1h-23zM423 306h13v1h-13zM450 301h4v6h-4zM552 306h24v1h-24zM171 307h19v1h-19zM551 307h25v1h-25zM61 308h8v1h-8zM171 308h21v1h-21zM300 308h5v1h-5zM423 307h1v2h-1zM451 307h3v2h-3zM551 308h10v1h-10zM571 308h5v1h-5zM61 309h9v1h-9zM170 309h23v1h-23zM290 309h18v1h-18zM422 309h2v1h-2zM452 309h2v1h-2zM551 309h4v1h-4zM574 309h3v1h-3zM61 310h11v1h-11zM143 310h11v1h-11zM169 310h27v1h-27zM288 310h22v1h-22zM422 310h1v1h-1zM551 310h2v1h-2zM669 310h3v1h-3zM142 311h14v1h-14zM168 311h4v1h-4zM190 311h10v1h-10zM286 311h24v1h-24zM412 311h11v1h-11zM453 310h2v2h-2zM472 311h7v1h-7zM575 310h2v2h-2zM667 311h5v1h-5zM61 311h12v2h-12zM141 312h18v1h-18zM166 312h5v1h-5zM192 312h9v1h-9zM284 312h14v1h-14zM306 312h4v1h-4zM395 312h28v1h-28zM472 312h14v1h-14zM520 312h15v1h-15zM550 311h2v2h-2zM576 312h1v1h-1zM69 313h4v1h-4zM141 313h29v1h-29zM193 313h9v1h-9zM283 313h6v1h-6zM308 313h2v1h-2zM394 313h28v1h-28zM471 313h15v1h-15zM518 313h33v1h-33zM629 313h3v1h-3zM666 312h6v2h-6zM72 314h2v1h-2zM140 314h3v1h-3zM155 314h14v1h-14zM194 314h9v1h-9zM281 314h6v1h-6zM394 314h24v1h-24zM471 314h28v1h-28zM501 314h50v1h-50zM576 313h2v2h-2zM602 314h32v1h-32zM139 315h3v1h-3zM157 315h10v1h-10zM196 315h8v1h-8zM280 315h5v1h-5zM393 315h5v1h-5zM577 315h2v1h-2zM600 315h39v1h-39zM665 314h7v2h-7zM159 316h7v1h-7zM199 316h6v1h-6zM279 316h5v1h-5zM310 314h1v3h-1zM333 316h6v1h-6zM393 316h2v1h-2zM471 315h80v2h-80zM577 316h4v1h-4zM598 316h51v1h-51zM664 316h4v1h-4zM139 316h2v2h-2zM201 317h5v1h-5zM278 317h5v1h-5zM310 317h2v1h-2zM330 317h10v1h-10zM454 312h1v6h-1zM471 317h1v1h-1zM485 317h65v1h-65zM577 317h7v1h-7zM597 317h57v1h-57zM664 317h3v1h-3zM73 315h1v4h-1zM201 318h6v1h-6zM278 318h4v1h-4zM310 318h30v1h-30zM392 317h2v2h-2zM454 318h2v1h-2zM470 318h2v1h-2zM486 318h33v1h-33zM536 318h14v1h-14zM577 318h17v1h-17zM596 318h58v1h-58zM139 318h1v2h-1zM202 319h5v1h-5zM277 319h4v1h-4zM392 319h1v1h-1zM455 319h1v1h-1zM470 319h1v1h-1zM500 319h2v1h-2zM578 319h24v1h-24zM627 319h28v1h-28zM664 318h2v2h-2zM203 320h5v1h-5zM277 320h3v1h-3zM311 319h29v2h-29zM455 320h5v1h-5zM469 320h2v1h-2zM579 320h21v1h-21zM633 320h22v1h-22zM664 320h1v1h-1zM204 321h6v1h-6zM276 321h3v1h-3zM311 321h30v1h-30zM391 320h2v2h-2zM580 321h19v1h-19zM635 321h20v1h-20zM204 322h8v1h-8zM254 320h2v3h-2zM274 322h5v1h-5zM311 322h23v1h-23zM455 321h16v2h-16zM580 322h18v1h-18zM638 322h17v1h-17zM663 321h2v2h-2zM205 323h8v1h-8zM273 323h5v1h-5zM315 323h15v1h-15zM339 322h2v2h-2zM456 323h14v1h-14zM583 323h14v1h-14zM646 323h10v1h-10zM206 324h7v1h-7zM253 323h4v2h-4zM272 324h6v1h-6zM357 324h20v1h-20zM458 324h12v1h-12zM591 324h5v1h-5zM652 324h4v1h-4zM663 323h1v2h-1zM206 325h8v1h-8zM269 325h8v1h-8zM340 324h2v2h-2zM390 322h2v4h-2zM654 325h2v1h-2zM74 319h1v8h-1zM207 326h8v1h-8zM266 326h10v1h-10zM340 326h3v1h-3zM356 325h22v2h-22zM655 326h2v1h-2zM662 325h2v2h-2zM208 327h9v1h-9zM234 327h6v1h-6zM253 325h1v3h-1zM256 325h1v3h-1zM264 327h12v1h-12zM356 327h23v1h-23zM389 326h2v2h-2zM655 327h3v1h-3zM662 327h1v1h-1zM208 328h11v1h-11zM262 328h13v1h-13zM340 327h4v2h-4zM356 328h35v1h-35zM209 329h12v1h-12zM252 328h2v2h-2zM256 328h2v2h-2zM261 329h13v1h-13zM340 329h5v1h-5zM655 328h8v2h-8zM210 330h15v1h-15zM233 328h8v3h-8zM260 330h13v1h-13zM355 329h36v2h-36zM211 331h17v1h-17zM257 330h1v2h-1zM259 331h14v1h-14zM341 330h5v2h-5zM212 332h19v1h-19zM232 331h9v2h-9zM257 332h15v1h-15zM656 330h7v3h-7zM257 333h14v1h-14zM213 333h29v2h-29zM257 334h12v1h-12zM355 331h35v4h-35zM657 333h5v2h-5zM252 330h1v6h-1zM257 335h11v1h-11zM341 332h6v4h-6zM355 335h2v1h-2zM658 335h4v1h-4zM214 335h28v2h-28zM257 336h10v1h-10zM377 335h13v2h-13zM215 337h28v1h-28zM341 336h7v2h-7zM216 338h27v1h-27zM257 337h9v2h-9zM378 337h12v2h-12zM216 339h18v1h-18zM240 339h3v1h-3zM257 339h8v1h-8zM354 336h3v5h-3zM257 340h7v2h-7zM217 340h17v3h-17zM240 340h4v3h-4zM218 343h16v1h-16zM354 341h2v3h-2zM251 336h2v9h-2zM257 342h6v3h-6zM258 345h5v1h-5zM355 344h1v2h-1zM378 339h11v7h-11zM218 344h15v3h-15zM240 343h5v6h-5zM241 349h4v19h-4zM219 347h14v23h-14zM379 346h10v24h-10zM354 346h2v25h-2zM251 345h1v27h-1zM258 346h4v26h-4zM342 338h6v34h-6zM218 370h15v3h-15zM218 373h16v2h-16zM240 368h5v7h-5zM355 371h1v4h-1zM257 372h6v4h-6zM342 372h5v5h-5zM217 375h17v3h-17zM257 376h7v2h-7zM378 370h11v8h-11zM216 378h18v1h-18zM240 375h4v4h-4zM216 379h27v1h-27zM257 378h8v2h-8zM341 377h5v3h-5zM378 378h12v2h-12zM215 380h28v1h-28zM257 380h9v1h-9zM215 381h27v1h-27zM251 372h2v10h-2zM257 381h10v1h-10zM341 380h4v2h-4zM377 380h13v2h-13zM214 382h28v1h-28zM257 382h11v1h-11zM341 382h3v1h-3zM355 375h2v8h-2zM369 382h21v1h-21zM213 383h29v1h-29zM257 383h12v1h-12zM355 383h35v1h-35zM212 384h30v1h-30zM257 384h13v1h-13zM341 383h2v2h-2zM211 385h31v1h-31zM257 385h14v1h-14zM210 386h21v1h-21zM257 386h15v1h-15zM356 384h34v3h-34zM209 387h19v1h-19zM232 386h9v2h-9zM259 387h14v1h-14zM658 386h4v2h-4zM75 328h1v61h-1zM138 329h1v60h-1zM208 388h17v1h-17zM252 382h1v7h-1zM257 387h1v2h-1zM260 388h13v1h-13zM341 385h1v4h-1zM356 387h35v2h-35zM657 388h5v1h-5zM207 389h15v1h-15zM260 389h14v1h-14zM356 389h23v1h-23zM657 389h6v1h-6zM207 390h12v1h-12zM233 388h8v3h-8zM252 389h2v2h-2zM256 389h2v2h-2zM261 390h14v1h-14zM340 389h2v2h-2zM356 390h22v1h-22zM389 389h2v2h-2zM206 391h12v1h-12zM263 391h12v1h-12zM389 391h3v1h-3zM656 390h7v2h-7zM205 392h11v1h-11zM234 391h6v2h-6zM265 392h11v1h-11zM357 391h21v2h-21zM655 392h8v1h-8zM204 393h10v1h-10zM267 393h10v1h-10zM357 393h20v1h-20zM654 393h9v1h-9zM204 394h9v1h-9zM253 391h1v4h-1zM256 391h1v4h-1zM269 394h9v1h-9zM390 392h2v3h-2zM648 394h16v1h-16zM203 395h7v1h-7zM272 395h7v1h-7zM340 391h1v5h-1zM390 395h3v1h-3zM641 395h17v1h-17zM202 396h6v1h-6zM253 395h4v2h-4zM273 396h6v1h-6zM339 396h2v1h-2zM593 396h3v1h-3zM635 396h22v1h-22zM662 395h2v2h-2zM74 390h1v8h-1zM201 397h6v1h-6zM274 397h6v1h-6zM339 397h1v1h-1zM391 396h2v2h-2zM583 397h14v1h-14zM633 397h24v1h-24zM663 397h1v1h-1zM200 398h6v1h-6zM276 398h5v1h-5zM319 398h21v1h-21zM392 398h1v1h-1zM580 398h17v1h-17zM631 398h25v1h-25zM139 398h1v2h-1zM198 399h6v1h-6zM254 397h2v3h-2zM277 399h5v1h-5zM579 399h19v1h-19zM630 399h26v1h-26zM663 398h2v2h-2zM195 400h8v1h-8zM278 400h5v1h-5zM311 399h29v2h-29zM392 399h2v2h-2zM579 400h20v1h-20zM629 400h26v1h-26zM663 400h3v1h-3zM73 398h1v4h-1zM139 400h2v2h-2zM159 401h7v1h-7zM193 401h9v1h-9zM279 401h5v1h-5zM310 401h30v1h-30zM578 401h22v1h-22zM629 401h17v1h-17zM664 401h2v1h-2zM72 402h2v1h-2zM139 402h3v1h-3zM157 402h10v1h-10zM192 402h9v1h-9zM280 402h6v1h-6zM309 402h31v1h-31zM393 401h2v2h-2zM500 402h19v1h-19zM536 402h14v1h-14zM577 402h24v1h-24zM628 402h9v1h-9zM664 402h3v1h-3zM72 403h1v1h-1zM155 403h14v1h-14zM191 403h8v1h-8zM281 403h6v1h-6zM308 403h31v1h-31zM393 403h3v1h-3zM486 403h65v1h-65zM576 403h10v1h-10zM597 403h5v1h-5zM627 403h7v1h-7zM664 403h4v1h-4zM140 403h3v2h-3zM153 404h16v1h-16zM190 404h6v1h-6zM282 404h8v1h-8zM304 404h16v1h-16zM394 404h10v1h-10zM458 404h94v1h-94zM576 404h4v1h-4zM597 404h34v1h-34zM71 404h2v2h-2zM141 405h19v1h-19zM166 405h27v1h-27zM284 405h26v1h-26zM394 405h26v1h-26zM443 405h111v1h-111zM575 405h4v1h-4zM598 405h32v1h-32zM665 404h7v2h-7zM70 406h2v1h-2zM142 406h15v1h-15zM168 406h24v1h-24zM286 406h23v1h-23zM395 406h28v1h-28zM439 406h117v1h-117zM573 406h5v1h-5zM599 406h30v1h-30zM666 406h6v1h-6zM69 407h3v1h-3zM143 407h11v1h-11zM169 407h22v1h-22zM288 407h19v1h-19zM396 407h28v1h-28zM438 407h63v1h-63zM518 407h19v1h-19zM550 407h13v1h-13zM571 407h6v1h-6zM600 407h28v1h-28zM410 408h14v1h-14zM438 408h61v1h-61zM520 408h15v1h-15zM551 408h26v1h-26zM602 408h26v1h-26zM667 407h5v2h-5zM61 408h10v2h-10zM422 409h2v1h-2zM437 409h34v1h-34zM552 409h24v1h-24zM670 409h2v1h-2zM61 410h9v1h-9zM424 410h14v1h-14zM453 410h4v1h-4zM554 410h20v1h-20z"/>
<path fill="#00ccff" d="M444 184h10v1h-10zM439 185h16v1h-16zM437 186h18v1h-18zM437 187h19v1h-19zM555 187h17v1h-17zM436 188h20v1h-20zM554 188h19v1h-19zM299 189h30v1h-30zM436 189h8v1h-8zM454 189h6v1h-6zM552 189h21v1h-21zM75 190h7v1h-7zM297 190h32v1h-32zM435 190h5v1h-5zM454 190h12v1h-12zM551 190h22v1h-22zM61 191h23v1h-23zM188 191h13v1h-13zM296 191h34v1h-34zM434 191h3v1h-3zM61 192h24v1h-24zM187 192h15v1h-15zM295 192h35v1h-35zM433 192h4v1h-4zM455 191h14v2h-14zM61 193h26v1h-26zM186 193h18v1h-18zM294 193h36v1h-36zM432 193h5v1h-5zM455 193h15v1h-15zM551 191h23v3h-23zM61 194h28v1h-28zM185 194h21v1h-21zM293 194h37v1h-37zM431 194h6v1h-6zM551 194h24v1h-24zM61 195h29v1h-29zM182 195h27v1h-27zM292 195h39v1h-39zM430 195h7v1h-7zM456 194h14v2h-14zM551 195h25v1h-25zM61 196h30v1h-30zM132 196h6v1h-6zM177 196h34v1h-34zM291 196h40v1h-40zM428 196h8v1h-8zM458 196h12v1h-12zM550 196h5v1h-5zM572 196h6v1h-6zM75 197h17v1h-17zM114 197h24v1h-24zM174 197h40v1h-40zM290 197h15v1h-15zM306 197h5v1h-5zM329 197h2v1h-2zM427 197h9v1h-9zM463 197h8v1h-8zM550 197h3v1h-3zM573 197h6v1h-6zM79 198h14v1h-14zM106 198h32v1h-32zM173 198h14v1h-14zM202 198h15v1h-15zM290 198h10v1h-10zM329 198h3v1h-3zM425 198h11v1h-11zM467 198h4v1h-4zM573 198h7v1h-7zM83 199h13v1h-13zM101 199h37v1h-37zM172 199h14v1h-14zM204 199h16v1h-16zM290 199h8v1h-8zM329 199h4v1h-4zM424 199h12v1h-12zM469 199h2v1h-2zM574 199h8v1h-8zM85 200h53v1h-53zM171 200h13v1h-13zM205 200h17v1h-17zM289 200h8v1h-8zM330 200h5v1h-5zM469 200h9v1h-9zM575 200h8v1h-8zM87 201h51v1h-51zM171 201h10v1h-10zM207 201h16v1h-16zM289 201h7v1h-7zM330 201h7v1h-7zM423 200h13v2h-13zM470 201h15v1h-15zM576 201h8v1h-8zM89 202h20v1h-20zM171 202h8v1h-8zM210 202h15v1h-15zM289 202h5v1h-5zM330 202h9v1h-9zM550 198h1v5h-1zM577 202h14v1h-14zM670 202h2v1h-2zM90 203h18v1h-18zM171 203h6v1h-6zM211 203h16v1h-16zM330 203h11v1h-11zM549 203h2v1h-2zM578 203h19v1h-19zM667 203h5v1h-5zM92 204h14v1h-14zM171 204h3v1h-3zM212 204h17v1h-17zM288 203h5v2h-5zM330 204h14v1h-14zM470 202h16v3h-16zM578 204h20v1h-20zM664 204h8v1h-8zM93 205h12v1h-12zM171 205h2v1h-2zM213 205h17v1h-17zM288 205h4v1h-4zM330 205h17v1h-17zM422 202h14v4h-14zM471 205h15v1h-15zM579 205h19v1h-19zM661 205h11v1h-11zM94 206h8v1h-8zM171 206h1v1h-1zM215 206h17v1h-17zM331 206h18v1h-18zM580 206h18v1h-18zM659 206h13v1h-13zM96 207h3v1h-3zM170 207h2v1h-2zM215 207h20v1h-20zM331 207h20v1h-20zM471 206h16v2h-16zM549 204h1v4h-1zM581 207h18v1h-18zM656 207h16v1h-16zM216 208h21v1h-21zM287 206h4v3h-4zM331 208h21v1h-21zM471 208h29v1h-29zM582 208h17v1h-17zM653 208h19v1h-19zM217 209h21v1h-21zM331 209h22v1h-22zM474 209h26v1h-26zM519 208h31v2h-31zM583 209h16v1h-16zM651 209h21v1h-21zM218 210h22v1h-22zM286 209h5v2h-5zM331 210h23v1h-23zM377 209h14v2h-14zM481 210h20v1h-20zM584 210h88v1h-88zM219 211h24v1h-24zM284 211h6v1h-6zM331 211h61v1h-61zM422 206h1v6h-1zM587 211h84v1h-84zM220 212h26v1h-26zM262 212h5v1h-5zM277 212h13v1h-13zM348 212h44v1h-44zM418 212h5v1h-5zM592 212h76v1h-76zM221 213h28v1h-28zM261 213h29v1h-29zM351 213h41v1h-41zM485 211h16v3h-16zM518 210h32v4h-32zM596 213h67v1h-67zM221 214h30v1h-30zM597 214h63v1h-63zM222 215h30v1h-30zM260 214h30v2h-30zM485 214h17v2h-17zM517 214h33v2h-33zM597 215h61v1h-61zM170 208h1v9h-1zM223 216h30v1h-30zM258 216h32v1h-32zM597 216h59v1h-59zM223 217h31v1h-31zM257 217h33v1h-33zM355 214h37v4h-37zM597 217h55v1h-55zM224 218h31v1h-31zM256 218h34v1h-34zM355 218h38v1h-38zM407 213h16v6h-16zM597 218h52v1h-52zM138 207h1v13h-1zM225 219h65v1h-65zM597 219h50v1h-50zM597 220h48v1h-48zM226 220h63v2h-63zM598 221h44v1h-44zM227 222h62v1h-62zM598 222h41v1h-41zM598 223h37v1h-37zM228 223h61v2h-61zM356 219h37v6h-37zM406 219h16v6h-16zM486 216h64v9h-64zM598 224h33v1h-33zM356 225h44v1h-44zM402 225h20v1h-20zM229 225h60v2h-60zM230 227h59v3h-59zM391 226h31v5h-31zM486 225h63v7h-63zM229 230h60v3h-60zM228 233h61v1h-61zM227 234h62v1h-62zM406 231h16v4h-16zM226 235h63v1h-63zM406 235h17v1h-17zM226 236h64v1h-64zM598 225h32v12h-32zM225 237h65v1h-65zM224 238h66v1h-66zM223 239h67v1h-67zM391 231h2v9h-2zM407 236h16v4h-16zM222 240h68v1h-68zM486 232h64v9h-64zM597 237h33v4h-33zM486 241h16v1h-16zM597 241h34v1h-34zM221 241h69v2h-69zM356 226h22v17h-22zM391 240h1v3h-1zM517 241h33v2h-33zM597 242h38v1h-38zM220 243h70v1h-70zM597 243h42v1h-42zM219 244h35v1h-35zM256 244h34v1h-34zM485 242h17v3h-17zM597 244h45v1h-45zM218 245h34v1h-34zM259 245h19v1h-19zM286 245h5v1h-5zM422 240h1v6h-1zM518 243h32v3h-32zM597 245h49v1h-49zM217 246h29v1h-29zM261 246h5v1h-5zM485 245h16v2h-16zM519 246h31v1h-31zM596 246h3v1h-3zM628 246h21v1h-21zM217 247h22v1h-22zM287 246h4v2h-4zM481 247h20v1h-20zM593 247h6v1h-6zM628 247h24v1h-24zM216 248h19v1h-19zM288 248h3v1h-3zM474 248h27v1h-27zM589 248h10v1h-10zM629 248h27v1h-27zM215 249h17v1h-17zM288 249h4v1h-4zM471 249h29v1h-29zM586 249h13v1h-13zM629 249h30v1h-30zM215 250h15v1h-15zM289 250h3v1h-3zM584 250h14v1h-14zM629 250h35v1h-35zM214 251h14v1h-14zM289 251h4v1h-4zM356 243h36v9h-36zM422 246h14v6h-14zM471 250h16v2h-16zM583 251h15v1h-15zM629 251h41v1h-41zM213 252h12v1h-12zM290 252h4v1h-4zM582 252h16v1h-16zM170 245h1v9h-1zM212 253h10v1h-10zM290 253h5v1h-5zM356 252h1v2h-1zM377 252h15v2h-15zM423 252h13v2h-13zM549 247h1v7h-1zM581 253h17v1h-17zM629 252h43v2h-43zM212 254h9v1h-9zM291 254h5v1h-5zM470 252h16v3h-16zM580 254h17v1h-17zM138 245h1v11h-1zM210 255h10v1h-10zM291 255h6v1h-6zM470 255h15v1h-15zM579 255h18v1h-18zM94 256h4v1h-4zM209 256h10v1h-10zM292 256h38v1h-38zM377 254h14v3h-14zM578 256h17v1h-17zM206 257h12v1h-12zM293 257h37v1h-37zM355 254h2v4h-2zM469 256h2v2h-2zM577 257h15v1h-15zM630 254h42v4h-42zM93 257h6v2h-6zM171 257h1v2h-1zM204 258h13v1h-13zM294 258h37v1h-37zM378 257h13v2h-13zM576 258h13v1h-13zM92 259h9v1h-9zM171 259h2v1h-2zM202 259h14v1h-14zM295 259h36v1h-36zM576 259h10v1h-10zM91 260h12v1h-12zM171 260h44v1h-44zM297 260h34v1h-34zM575 260h8v1h-8zM89 261h16v1h-16zM171 261h43v1h-43zM329 261h2v1h-2zM550 254h1v8h-1zM574 261h8v1h-8zM87 262h21v1h-21zM132 262h6v1h-6zM171 262h42v1h-42zM329 262h4v1h-4zM456 258h14v5h-14zM550 262h4v1h-4zM573 262h8v1h-8zM84 263h54v1h-54zM171 263h41v1h-41zM330 263h6v1h-6zM551 263h28v1h-28zM80 264h58v1h-58zM172 264h38v1h-38zM330 264h8v1h-8zM551 264h27v1h-27zM173 265h33v1h-33zM330 265h9v1h-9zM355 258h1v8h-1zM455 263h14v3h-14zM551 265h26v1h-26zM551 266h24v1h-24zM61 265h77v3h-77zM330 266h26v2h-26zM553 267h21v1h-21zM61 268h35v1h-35zM99 268h39v1h-39zM436 258h1v11h-1zM61 269h32v1h-32zM102 269h36v1h-36zM331 268h25v2h-25zM73 270h19v1h-19zM107 270h31v1h-31zM332 270h24v1h-24zM76 271h15v1h-15zM334 271h22v1h-22zM455 266h1v6h-1zM78 272h13v1h-13zM335 272h20v1h-20zM78 273h12v1h-12zM337 273h18v1h-18zM79 274h10v1h-10zM338 274h17v1h-17zM80 275h8v1h-8zM339 275h16v1h-16zM80 276h7v1h-7zM81 277h4v1h-4zM81 278h2v1h-2zM454 275h1v9h-1zM438 285h16v1h-16zM437 286h17v12h-17zM438 298h16v1h-16zM438 299h15v1h-15zM438 300h13v1h-13zM438 301h12v2h-12zM436 304h1v3h-1zM439 303h11v4h-11zM424 307h13v1h-13zM440 307h11v2h-11zM561 308h10v1h-10zM424 308h12v2h-12zM441 309h11v1h-11zM555 309h19v1h-19zM442 310h11v1h-11zM553 310h22v1h-22zM172 311h18v1h-18zM443 311h10v1h-10zM552 311h23v1h-23zM171 312h21v1h-21zM298 312h8v1h-8zM423 310h1v3h-1zM444 312h10v1h-10zM552 312h24v1h-24zM61 313h8v1h-8zM170 313h23v1h-23zM289 313h19v1h-19zM422 313h1v1h-1zM445 313h9v1h-9zM551 313h6v1h-6zM573 313h3v1h-3zM61 314h11v1h-11zM143 314h12v1h-12zM169 314h25v1h-25zM287 314h23v1h-23zM418 314h5v1h-5zM446 314h8v1h-8zM551 314h4v1h-4zM574 314h2v1h-2zM142 315h15v1h-15zM167 315h4v1h-4zM191 315h5v1h-5zM285 315h25v1h-25zM398 315h25v1h-25zM447 315h7v1h-7zM551 315h2v1h-2zM61 315h12v2h-12zM141 316h18v1h-18zM166 316h4v1h-4zM192 316h7v1h-7zM284 316h6v1h-6zM307 316h3v1h-3zM395 316h27v1h-27zM448 316h6v1h-6zM551 316h1v1h-1zM575 315h2v2h-2zM668 316h4v1h-4zM69 317h4v1h-4zM141 317h2v1h-2zM154 317h15v1h-15zM283 317h5v1h-5zM308 317h2v1h-2zM394 317h25v1h-25zM449 317h5v1h-5zM472 317h13v1h-13zM550 317h2v1h-2zM667 317h5v1h-5zM72 318h1v1h-1zM156 318h12v1h-12zM193 317h8v2h-8zM282 318h4v1h-4zM394 318h14v1h-14zM450 318h4v1h-4zM472 318h14v1h-14zM519 318h17v1h-17zM550 318h1v1h-1zM576 317h1v2h-1zM72 319h2v1h-2zM140 318h2v2h-2zM158 319h9v1h-9zM194 319h8v1h-8zM281 319h4v1h-4zM452 319h3v1h-3zM471 319h29v1h-29zM502 319h49v1h-49zM576 319h2v1h-2zM602 319h25v1h-25zM666 318h6v2h-6zM159 320h7v1h-7zM197 320h6v1h-6zM280 320h4v1h-4zM393 319h2v2h-2zM453 320h2v1h-2zM471 320h80v1h-80zM577 320h2v1h-2zM600 320h33v1h-33zM665 320h4v1h-4zM139 320h2v2h-2zM199 321h5v1h-5zM279 321h4v1h-4zM393 321h1v1h-1zM478 321h73v1h-73zM599 321h36v1h-36zM665 321h3v1h-3zM200 322h4v1h-4zM279 322h3v1h-3zM310 319h1v4h-1zM334 322h5v1h-5zM454 321h1v2h-1zM471 321h1v2h-1zM486 322h64v1h-64zM577 321h3v2h-3zM598 322h40v1h-40zM665 322h2v1h-2zM73 320h1v4h-1zM201 323h4v1h-4zM310 323h5v1h-5zM330 323h9v1h-9zM392 322h2v2h-2zM454 323h2v1h-2zM499 323h20v1h-20zM536 323h14v1h-14zM577 323h6v1h-6zM597 323h6v1h-6zM627 323h19v1h-19zM139 322h1v3h-1zM278 323h3v2h-3zM455 324h3v1h-3zM470 323h1v2h-1zM578 324h13v1h-13zM596 324h5v1h-5zM628 324h24v1h-24zM664 323h2v2h-2zM202 324h4v2h-4zM277 325h3v1h-3zM392 324h1v2h-1zM578 325h22v1h-22zM630 325h24v1h-24zM203 326h4v1h-4zM276 326h4v1h-4zM455 325h16v2h-16zM579 326h20v1h-20zM632 326h23v1h-23zM664 325h1v2h-1zM276 327h3v1h-3zM311 324h29v4h-29zM456 327h14v1h-14zM580 327h18v1h-18zM634 327h21v1h-21zM203 327h5v2h-5zM275 328h4v1h-4zM311 328h20v1h-20zM391 326h2v3h-2zM459 328h11v1h-11zM581 328h17v1h-17zM635 328h20v1h-20zM663 327h2v2h-2zM204 329h5v1h-5zM254 325h2v5h-2zM274 329h4v1h-4zM339 328h1v2h-1zM583 329h14v1h-14zM639 329h16v1h-16zM204 330h6v1h-6zM253 330h4v1h-4zM391 329h1v2h-1zM590 330h6v1h-6zM644 330h12v1h-12zM205 331h6v1h-6zM273 330h5v2h-5zM649 331h7v1h-7zM205 332h7v1h-7zM272 332h5v1h-5zM653 332h3v1h-3zM663 329h1v4h-1zM205 333h8v1h-8zM271 333h6v1h-6zM654 333h3v1h-3zM662 333h2v1h-2zM206 334h7v1h-7zM269 334h8v1h-8zM655 334h2v1h-2zM268 335h8v1h-8zM390 331h2v5h-2zM655 335h3v1h-3zM662 334h1v2h-1zM74 327h1v10h-1zM206 335h8v2h-8zM267 336h9v1h-9zM357 335h20v2h-20zM655 336h8v1h-8zM206 337h9v1h-9zM340 330h1v8h-1zM206 338h10v1h-10zM266 337h9v2h-9zM340 338h2v1h-2zM390 336h1v3h-1zM207 339h9v1h-9zM265 339h10v1h-10zM656 337h7v3h-7zM264 340h11v1h-11zM357 337h21v4h-21zM657 340h6v1h-6zM264 341h10v1h-10zM207 340h10v3h-10zM234 339h6v5h-6zM657 341h5v3h-5zM207 343h11v2h-11zM253 331h1v14h-1zM256 331h1v14h-1zM263 342h11v4h-11zM356 341h22v5h-22zM208 345h10v2h-10zM658 344h4v3h-4zM233 344h7v5h-7zM262 346h12v4h-12zM262 350h11v17h-11zM233 349h8v19h-8zM208 347h11v23h-11zM356 346h23v24h-23zM208 370h10v2h-10zM252 345h1v27h-1zM257 345h1v27h-1zM262 367h12v5h-12zM233 368h7v5h-7zM207 372h11v3h-11zM356 370h22v5h-22zM263 372h11v4h-11zM658 373h4v3h-4zM264 376h10v1h-10zM341 339h1v38h-1zM207 375h10v3h-10zM264 377h11v1h-11zM389 339h2v39h-2zM207 378h9v1h-9zM234 373h6v6h-6zM657 376h5v3h-5zM206 379h10v1h-10zM265 378h10v2h-10zM357 375h21v5h-21zM266 380h9v1h-9zM657 379h6v2h-6zM206 380h9v2h-9zM267 381h9v1h-9zM357 380h20v2h-20zM390 378h1v4h-1zM205 382h9v1h-9zM268 382h8v1h-8zM357 382h12v1h-12zM205 383h8v1h-8zM269 383h8v1h-8zM656 381h7v3h-7zM205 384h7v1h-7zM270 384h7v1h-7zM204 385h7v1h-7zM271 385h7v1h-7zM655 384h8v2h-8zM204 386h6v1h-6zM272 386h6v1h-6zM390 382h2v5h-2zM652 386h6v1h-6zM662 386h1v1h-1zM203 387h6v1h-6zM253 372h1v16h-1zM256 372h1v16h-1zM273 387h5v1h-5zM647 387h11v1h-11zM203 388h5v1h-5zM253 388h4v1h-4zM273 388h6v1h-6zM340 379h1v10h-1zM391 387h1v2h-1zM642 388h15v1h-15zM662 387h2v2h-2zM74 378h1v12h-1zM203 389h4v1h-4zM274 389h5v1h-5zM636 389h21v1h-21zM202 390h5v1h-5zM275 390h4v1h-4zM391 389h2v2h-2zM589 390h7v1h-7zM635 390h21v1h-21zM663 389h1v2h-1zM201 391h5v1h-5zM275 391h5v1h-5zM339 389h1v3h-1zM581 391h16v1h-16zM633 391h23v1h-23zM201 392h4v1h-4zM276 392h4v1h-4zM320 392h20v1h-20zM580 392h17v1h-17zM631 392h24v1h-24zM200 393h4v1h-4zM277 393h4v1h-4zM392 391h1v3h-1zM580 393h18v1h-18zM630 393h24v1h-24zM663 391h2v3h-2zM198 394h6v1h-6zM254 389h2v6h-2zM278 394h3v1h-3zM392 394h2v1h-2zM579 394h19v1h-19zM629 394h19v1h-19zM139 392h1v4h-1zM196 395h7v1h-7zM279 395h3v1h-3zM311 393h29v3h-29zM578 395h21v1h-21zM629 395h12v1h-12zM194 396h8v1h-8zM279 396h4v1h-4zM393 395h1v2h-1zM577 396h16v1h-16zM596 396h4v1h-4zM629 396h6v1h-6zM664 394h2v3h-2zM73 393h1v5h-1zM139 396h2v2h-2zM159 397h7v1h-7zM193 397h8v1h-8zM280 397h4v1h-4zM310 396h29v2h-29zM500 397h19v1h-19zM536 397h14v1h-14zM577 397h6v1h-6zM597 397h4v1h-4zM628 397h5v1h-5zM664 397h3v1h-3zM157 398h10v1h-10zM193 398h7v1h-7zM281 398h4v1h-4zM309 398h10v1h-10zM393 397h2v2h-2zM487 398h64v1h-64zM576 398h4v1h-4zM597 398h5v1h-5zM627 398h4v1h-4zM665 398h3v1h-3zM72 398h1v2h-1zM140 398h2v2h-2zM155 399h13v1h-13zM192 399h6v1h-6zM282 399h5v1h-5zM308 399h3v1h-3zM456 399h96v1h-96zM576 399h3v1h-3zM598 399h32v1h-32zM665 399h4v1h-4zM141 400h2v1h-2zM154 400h15v1h-15zM191 400h4v1h-4zM283 400h5v1h-5zM307 400h4v1h-4zM394 399h2v2h-2zM450 400h103v1h-103zM575 400h4v1h-4zM599 400h30v1h-30zM71 400h2v2h-2zM141 401h18v1h-18zM166 401h7v1h-7zM185 401h8v1h-8zM284 401h26v1h-26zM395 401h17v1h-17zM443 401h111v1h-111zM574 401h4v1h-4zM600 401h29v1h-29zM666 400h6v2h-6zM70 402h2v1h-2zM142 402h15v1h-15zM167 402h25v1h-25zM286 402h23v1h-23zM395 402h26v1h-26zM440 402h60v1h-60zM519 402h17v1h-17zM550 402h6v1h-6zM573 402h4v1h-4zM601 402h27v1h-27zM667 402h5v1h-5zM69 403h3v1h-3zM143 403h12v1h-12zM169 403h22v1h-22zM287 403h21v1h-21zM396 403h27v1h-27zM439 403h47v1h-47zM551 403h10v1h-10zM571 403h5v1h-5zM602 403h25v1h-25zM668 403h4v1h-4zM143 404h10v1h-10zM169 404h21v1h-21zM290 404h14v1h-14zM404 404h20v1h-20zM438 404h20v1h-20zM552 404h24v1h-24zM61 404h10v2h-10zM420 405h4v1h-4zM438 405h5v1h-5zM554 405h21v1h-21zM61 406h9v1h-9zM423 406h1v1h-1zM437 406h2v1h-2zM556 406h17v1h-17zM61 407h8v1h-8zM563 407h8v1h-8zM424 407h14v2h-14zM424 409h13v1h-13z"/>
<path fill="#00edff" d="M444 189h10v1h-10zM440 190h14v1h-14zM437 191h6v1h-6zM437 192h1v1h-1zM454 191h1v2h-1zM455 194h1v2h-1zM456 196h2v1h-2zM555 196h17v1h-17zM61 197h14v1h-14zM305 197h1v1h-1zM311 197h18v1h-18zM456 197h7v1h-7zM553 197h20v1h-20zM61 198h18v1h-18zM187 198h15v1h-15zM300 198h29v1h-29zM436 196h1v3h-1zM457 198h10v1h-10zM551 198h5v1h-5zM560 198h13v1h-13zM75 199h8v1h-8zM186 199h18v1h-18zM298 199h31v1h-31zM462 199h7v1h-7zM551 199h2v1h-2zM573 199h1v1h-1zM79 200h6v1h-6zM184 200h3v1h-3zM202 200h3v1h-3zM297 200h4v1h-4zM466 200h3v1h-3zM573 200h2v1h-2zM83 201h4v1h-4zM181 201h5v1h-5zM204 201h3v1h-3zM296 201h3v1h-3zM574 201h2v1h-2zM85 202h4v1h-4zM109 202h29v1h-29zM179 202h5v1h-5zM205 202h5v1h-5zM294 202h3v1h-3zM329 200h1v3h-1zM469 201h1v2h-1zM575 202h2v1h-2zM87 203h3v1h-3zM108 203h30v1h-30zM177 203h5v1h-5zM207 203h4v1h-4zM293 203h3v1h-3zM576 203h2v1h-2zM89 204h3v1h-3zM106 204h4v1h-4zM137 204h1v1h-1zM174 204h6v1h-6zM208 204h4v1h-4zM293 204h2v1h-2zM577 204h1v1h-1zM90 205h3v1h-3zM105 205h4v1h-4zM173 205h4v1h-4zM209 205h4v1h-4zM292 205h2v1h-2zM577 205h2v1h-2zM91 206h3v1h-3zM102 206h5v1h-5zM172 206h3v1h-3zM210 206h5v1h-5zM291 206h3v1h-3zM578 206h2v1h-2zM92 207h4v1h-4zM99 207h6v1h-6zM172 207h1v1h-1zM211 207h4v1h-4zM470 205h1v3h-1zM579 207h2v1h-2zM92 208h11v1h-11zM212 208h4v1h-4zM550 204h1v5h-1zM580 208h2v1h-2zM93 209h8v1h-8zM171 208h1v2h-1zM212 209h5v1h-5zM471 209h3v1h-3zM580 209h3v1h-3zM93 210h7v1h-7zM213 210h5v1h-5zM291 207h2v4h-2zM330 206h1v5h-1zM471 210h10v1h-10zM581 210h3v1h-3zM94 211h5v1h-5zM214 211h5v1h-5zM582 211h5v1h-5zM671 211h1v1h-1zM94 212h4v1h-4zM214 212h6v1h-6zM331 212h17v1h-17zM582 212h10v1h-10zM668 212h4v1h-4zM215 213h6v1h-6zM331 213h20v1h-20zM423 206h13v8h-13zM583 213h13v1h-13zM663 213h9v1h-9zM216 214h5v1h-5zM290 211h2v4h-2zM430 214h6v1h-6zM584 214h13v1h-13zM660 214h12v1h-12zM216 215h6v1h-6zM471 211h14v5h-14zM585 215h12v1h-12zM658 215h14v1h-14zM471 216h15v1h-15zM587 216h10v1h-10zM656 216h16v1h-16zM217 216h6v2h-6zM472 217h14v1h-14zM589 217h8v1h-8zM652 217h20v1h-20zM218 218h6v1h-6zM331 214h24v5h-24zM481 218h5v1h-5zM590 218h7v1h-7zM649 218h23v1h-23zM218 219h7v1h-7zM290 215h1v5h-1zM331 219h25v1h-25zM647 219h25v1h-25zM170 217h1v4h-1zM333 220h23v1h-23zM592 219h5v2h-5zM645 220h27v1h-27zM219 220h7v2h-7zM338 221h8v1h-8zM350 221h6v1h-6zM593 221h5v1h-5zM642 221h30v1h-30zM220 222h7v1h-7zM639 222h33v1h-33zM138 220h1v4h-1zM635 223h37v1h-37zM220 223h8v2h-8zM631 224h41v1h-41zM594 222h4v4h-4zM221 225h8v2h-8zM221 227h9v3h-9zM549 225h1v7h-1zM221 230h8v3h-8zM595 226h3v7h-3zM220 233h8v1h-8zM220 234h7v1h-7zM422 219h1v16h-1zM220 235h6v1h-6zM289 220h2v16h-2zM219 236h7v1h-7zM594 233h4v4h-4zM219 237h6v1h-6zM218 238h6v1h-6zM485 219h1v20h-1zM593 237h4v2h-4zM218 239h5v1h-5zM483 239h3v1h-3zM592 239h5v1h-5zM217 240h5v1h-5zM290 236h1v5h-1zM474 240h12v1h-12zM591 240h6v1h-6zM630 225h42v16h-42zM217 241h4v1h-4zM471 241h15v1h-15zM590 241h7v1h-7zM631 241h41v1h-41zM216 242h5v1h-5zM378 226h13v17h-13zM589 242h8v1h-8zM635 242h37v1h-37zM215 243h5v1h-5zM587 243h10v1h-10zM639 243h33v1h-33zM138 238h1v7h-1zM170 236h1v9h-1zM215 244h4v1h-4zM290 241h2v4h-2zM585 244h12v1h-12zM642 244h30v1h-30zM214 245h4v1h-4zM291 245h1v1h-1zM423 239h13v7h-13zM584 245h13v1h-13zM646 245h26v1h-26zM471 242h14v5h-14zM583 246h13v1h-13zM649 246h23v1h-23zM213 246h4v2h-4zM471 247h10v1h-10zM583 247h10v1h-10zM652 247h20v1h-20zM212 248h4v1h-4zM291 246h2v3h-2zM471 248h3v1h-3zM582 248h7v1h-7zM656 248h16v1h-16zM212 249h3v1h-3zM582 249h4v1h-4zM659 249h13v1h-13zM211 250h4v1h-4zM292 249h2v2h-2zM581 250h3v1h-3zM664 250h8v1h-8zM94 250h4v2h-4zM210 251h4v1h-4zM293 251h2v1h-2zM470 251h1v1h-1zM580 251h3v1h-3zM670 251h2v1h-2zM93 252h5v1h-5zM210 252h3v1h-3zM294 252h2v1h-2zM579 252h3v1h-3zM209 253h3v1h-3zM295 253h2v1h-2zM355 222h1v32h-1zM550 249h1v5h-1zM578 253h3v1h-3zM93 253h6v2h-6zM208 254h4v1h-4zM296 254h2v1h-2zM577 254h3v1h-3zM92 255h7v1h-7zM206 255h4v1h-4zM297 255h36v1h-36zM469 255h1v1h-1zM577 255h2v1h-2zM92 256h2v1h-2zM98 256h2v1h-2zM171 255h1v2h-1zM204 256h5v1h-5zM330 256h8v1h-8zM576 256h2v1h-2zM92 257h1v1h-1zM99 257h2v1h-2zM203 257h3v1h-3zM330 257h25v1h-25zM436 256h1v2h-1zM456 257h13v1h-13zM576 257h1v1h-1zM91 258h2v1h-2zM99 258h3v1h-3zM172 258h1v1h-1zM201 258h3v1h-3zM575 258h1v1h-1zM90 259h2v1h-2zM101 259h3v1h-3zM173 259h29v1h-29zM574 259h2v1h-2zM88 260h3v1h-3zM103 260h4v1h-4zM551 260h3v1h-3zM572 260h3v1h-3zM85 261h4v1h-4zM105 261h33v1h-33zM331 258h24v4h-24zM551 261h23v1h-23zM81 262h6v1h-6zM108 262h24v1h-24zM333 262h22v1h-22zM455 261h1v2h-1zM554 262h19v1h-19zM78 263h6v1h-6zM336 263h19v1h-19zM61 264h19v1h-19zM338 264h17v1h-17zM339 265h16v1h-16zM454 273h1v2h-1zM437 282h17v3h-17zM437 285h1v1h-1zM437 298h1v4h-1zM438 303h1v2h-1zM436 308h1v1h-1zM439 307h1v2h-1zM440 309h1v1h-1zM424 310h12v1h-12zM440 310h2v1h-2zM441 311h2v1h-2zM442 312h2v1h-2zM423 313h1v1h-1zM443 313h2v1h-2zM557 313h16v1h-16zM444 314h2v1h-2zM555 314h3v1h-3zM572 314h2v1h-2zM171 315h20v1h-20zM445 315h2v1h-2zM553 315h2v1h-2zM574 315h1v1h-1zM170 316h1v1h-1zM191 316h1v1h-1zM290 316h17v1h-17zM422 316h1v1h-1zM446 316h2v1h-2zM552 316h2v1h-2zM61 317h8v1h-8zM143 317h11v1h-11zM169 317h1v1h-1zM288 317h2v1h-2zM307 317h1v1h-1zM419 317h3v1h-3zM447 317h2v1h-2zM575 317h1v1h-1zM69 318h3v1h-3zM142 318h1v1h-1zM154 318h2v1h-2zM168 318h1v1h-1zM192 317h1v2h-1zM286 318h2v1h-2zM308 318h2v1h-2zM408 318h9v1h-9zM448 318h2v1h-2zM551 318h1v1h-1zM156 319h2v1h-2zM167 319h1v1h-1zM193 319h1v1h-1zM285 319h1v1h-1zM309 319h1v1h-1zM395 319h13v1h-13zM449 319h3v1h-3zM72 320h1v1h-1zM141 320h1v1h-1zM157 320h2v1h-2zM166 320h1v1h-1zM194 320h3v1h-3zM284 320h1v1h-1zM451 320h2v1h-2zM669 320h3v1h-3zM159 321h7v1h-7zM196 321h3v1h-3zM283 321h1v1h-1zM394 321h1v1h-1zM452 321h2v1h-2zM472 321h6v1h-6zM576 320h1v2h-1zM668 321h4v1h-4zM140 322h1v1h-1zM198 322h2v1h-2zM282 322h1v1h-1zM453 322h1v1h-1zM472 322h14v1h-14zM550 322h1v1h-1zM667 322h1v1h-1zM200 323h1v1h-1zM486 323h13v1h-13zM519 323h17v1h-17zM603 323h24v1h-24zM200 324h2v1h-2zM281 323h1v2h-1zM310 324h1v1h-1zM471 323h1v2h-1zM499 324h20v1h-20zM536 324h14v1h-14zM577 324h1v1h-1zM601 324h27v1h-27zM666 323h1v2h-1zM73 324h1v2h-1zM201 325h1v1h-1zM280 325h1v1h-1zM393 324h1v2h-1zM454 324h1v2h-1zM501 325h17v1h-17zM600 325h2v1h-2zM628 325h2v1h-2zM139 325h1v2h-1zM578 326h1v1h-1zM599 326h1v1h-1zM629 326h3v1h-3zM665 325h1v2h-1zM455 327h1v1h-1zM470 327h1v1h-1zM579 327h1v1h-1zM598 327h2v1h-2zM631 327h3v1h-3zM202 326h1v3h-1zM279 327h1v2h-1zM331 328h8v1h-8zM456 328h3v1h-3zM580 328h1v1h-1zM598 328h1v1h-1zM632 328h3v1h-3zM311 329h26v1h-26zM459 329h11v1h-11zM580 329h3v1h-3zM597 329h1v1h-1zM634 329h5v1h-5zM203 329h1v2h-1zM314 330h16v1h-16zM392 329h1v2h-1zM581 330h9v1h-9zM596 330h1v1h-1zM635 330h9v1h-9zM664 329h1v2h-1zM203 331h2v1h-2zM278 329h1v3h-1zM339 330h1v2h-1zM584 331h13v1h-13zM638 331h11v1h-11zM590 332h6v1h-6zM642 332h11v1h-11zM204 332h1v2h-1zM254 331h2v3h-2zM647 333h7v1h-7zM204 334h2v1h-2zM277 332h1v3h-1zM651 334h4v1h-4zM276 335h2v1h-2zM654 335h1v1h-1zM663 334h1v2h-1zM276 336h1v1h-1zM205 335h1v4h-1zM275 337h2v2h-2zM655 337h1v2h-1zM205 339h2v1h-2zM391 336h1v4h-1zM275 339h1v2h-1zM340 339h1v4h-1zM656 340h1v3h-1zM274 341h2v3h-2zM662 341h1v3h-1zM206 340h1v5h-1zM657 344h1v3h-1zM657 347h5v1h-5zM274 344h1v6h-1zM273 350h2v17h-2zM658 348h4v23h-4zM206 345h2v27h-2zM253 345h1v27h-1zM256 345h1v27h-1zM274 367h1v6h-1zM657 371h5v2h-5zM657 373h1v3h-1zM206 372h1v5h-1zM274 373h2v4h-2zM74 337h1v41h-1zM205 377h2v2h-2zM275 377h1v2h-1zM340 375h1v4h-1zM662 375h1v4h-1zM205 379h1v2h-1zM275 379h2v2h-2zM656 377h1v4h-1zM204 381h2v1h-2zM276 381h1v1h-1zM391 376h1v6h-1zM276 382h2v1h-2zM655 382h1v1h-1zM204 382h1v2h-1zM654 383h2v1h-2zM203 384h2v1h-2zM277 383h1v2h-1zM650 384h5v1h-5zM645 385h10v1h-10zM203 385h1v2h-1zM641 386h11v1h-11zM663 384h1v3h-1zM254 385h2v3h-2zM278 385h1v3h-1zM595 387h1v1h-1zM636 387h11v1h-11zM202 387h1v2h-1zM339 387h1v2h-1zM392 386h1v3h-1zM589 388h7v1h-7zM635 388h7v1h-7zM201 389h2v1h-2zM582 389h15v1h-15zM633 389h3v1h-3zM201 390h1v1h-1zM279 389h1v2h-1zM580 390h9v1h-9zM596 390h1v1h-1zM632 390h3v1h-3zM664 390h1v1h-1zM139 391h1v1h-1zM200 391h1v1h-1zM311 391h28v1h-28zM580 391h1v1h-1zM630 391h3v1h-3zM73 391h1v2h-1zM199 392h2v1h-2zM280 391h1v2h-1zM311 392h9v1h-9zM579 392h1v1h-1zM597 391h1v2h-1zM630 392h1v1h-1zM197 393h3v1h-3zM393 392h1v2h-1zM578 393h2v1h-2zM629 393h1v1h-1zM665 393h1v1h-1zM195 394h3v1h-3zM281 393h1v2h-1zM578 394h1v1h-1zM598 393h1v2h-1zM140 394h1v2h-1zM194 395h2v1h-2zM282 395h1v1h-1zM310 394h1v2h-1zM501 395h17v1h-17zM537 395h13v1h-13zM577 395h1v1h-1zM599 395h1v1h-1zM159 396h8v1h-8zM193 396h1v1h-1zM283 396h1v1h-1zM394 396h1v1h-1zM500 396h19v1h-19zM536 396h15v1h-15zM600 396h1v1h-1zM628 395h1v2h-1zM666 395h1v2h-1zM72 397h1v1h-1zM141 397h1v1h-1zM157 397h2v1h-2zM166 397h1v1h-1zM284 397h1v1h-1zM309 397h1v1h-1zM459 397h12v1h-12zM486 397h14v1h-14zM519 397h17v1h-17zM550 397h1v1h-1zM576 397h1v1h-1zM601 397h2v1h-2zM627 397h1v1h-1zM667 397h1v1h-1zM155 398h2v1h-2zM167 398h1v1h-1zM192 397h1v2h-1zM285 398h2v1h-2zM308 398h1v1h-1zM395 398h1v1h-1zM454 398h33v1h-33zM551 398h1v1h-1zM602 398h25v1h-25zM668 398h3v1h-3zM71 399h1v1h-1zM142 399h1v1h-1zM154 399h1v1h-1zM168 399h1v1h-1zM191 399h1v1h-1zM287 399h1v1h-1zM307 399h1v1h-1zM396 399h1v1h-1zM448 399h8v1h-8zM552 399h1v1h-1zM575 399h1v1h-1zM669 399h3v1h-3zM143 400h11v1h-11zM169 400h3v1h-3zM185 400h6v1h-6zM288 400h19v1h-19zM396 400h16v1h-16zM443 400h7v1h-7zM553 400h2v1h-2zM574 400h1v1h-1zM70 401h1v1h-1zM173 401h12v1h-12zM412 401h9v1h-9zM440 401h3v1h-3zM554 401h3v1h-3zM573 401h1v1h-1zM69 402h1v1h-1zM421 402h2v1h-2zM439 402h1v1h-1zM556 402h6v1h-6zM571 402h2v1h-2zM61 403h8v1h-8zM423 403h1v1h-1zM438 403h1v1h-1zM561 403h10v1h-10zM437 405h1v1h-1zM424 406h13v1h-13z"/>
<path fill="#00ffff" d="M443 191h11v1h-11zM438 192h16v1h-16zM437 193h18v2h-18zM437 195h5v1h-5zM454 195h1v1h-1zM454 196h2v1h-2zM455 197h1v1h-1zM455 198h2v1h-2zM556 198h4v1h-4zM61 199h14v1h-14zM455 199h7v1h-7zM553 199h20v1h-20zM61 200h18v1h-18zM187 200h15v1h-15zM301 200h28v1h-28zM455 200h11v1h-11zM551 200h22v1h-22zM61 201h22v1h-22zM186 201h18v1h-18zM299 201h30v1h-30zM551 201h23v1h-23zM66 202h19v1h-19zM184 202h21v1h-21zM297 202h32v1h-32zM456 201h13v2h-13zM551 202h24v1h-24zM75 203h12v1h-12zM182 203h6v1h-6zM201 203h6v1h-6zM296 203h34v1h-34zM459 203h11v1h-11zM551 203h25v1h-25zM79 204h10v1h-10zM110 204h27v1h-27zM180 204h7v1h-7zM202 204h6v1h-6zM295 204h35v1h-35zM465 204h5v1h-5zM551 204h3v1h-3zM573 204h4v1h-4zM83 205h7v1h-7zM109 205h29v1h-29zM177 205h9v1h-9zM203 205h6v1h-6zM294 205h36v1h-36zM436 199h1v7h-1zM574 205h3v1h-3zM85 206h6v1h-6zM107 206h31v1h-31zM175 206h11v1h-11zM203 206h7v1h-7zM294 206h17v1h-17zM469 205h1v2h-1zM575 206h3v1h-3zM86 207h6v1h-6zM105 207h33v1h-33zM173 207h12v1h-12zM204 207h7v1h-7zM293 207h5v1h-5zM575 207h4v1h-4zM88 208h4v1h-4zM103 208h35v1h-35zM172 208h12v1h-12zM204 208h8v1h-8zM575 208h5v1h-5zM88 209h5v1h-5zM101 209h37v1h-37zM172 209h9v1h-9zM205 209h7v1h-7zM576 209h4v1h-4zM89 210h4v1h-4zM100 210h38v1h-38zM171 210h6v1h-6zM206 210h7v1h-7zM293 208h4v3h-4zM329 206h1v5h-1zM576 210h5v1h-5zM89 211h5v1h-5zM99 211h11v1h-11zM171 211h2v1h-2zM206 211h8v1h-8zM90 212h4v1h-4zM98 212h8v1h-8zM207 212h7v1h-7zM577 211h5v2h-5zM90 213h14v1h-14zM171 212h1v2h-1zM207 213h8v1h-8zM292 211h5v3h-5zM578 213h5v1h-5zM91 214h12v1h-12zM292 214h4v1h-4zM423 214h7v1h-7zM578 214h6v1h-6zM91 215h11v1h-11zM208 214h8v2h-8zM579 215h6v1h-6zM91 216h10v1h-10zM470 208h1v9h-1zM579 216h8v1h-8zM92 217h9v1h-9zM209 216h8v2h-8zM470 217h2v1h-2zM580 217h9v1h-9zM470 218h11v1h-11zM580 218h10v1h-10zM210 218h8v2h-8zM330 211h1v9h-1zM580 219h12v1h-12zM92 218h8v3h-8zM330 220h3v1h-3zM581 220h11v1h-11zM93 221h7v1h-7zM210 220h9v2h-9zM291 215h5v7h-5zM330 221h8v1h-8zM346 221h4v1h-4zM470 219h15v3h-15zM581 221h12v1h-12zM582 222h12v2h-12zM211 222h9v3h-9zM583 224h11v2h-11zM93 222h6v6h-6zM93 228h5v1h-5zM211 225h10v8h-10zM583 226h12v7h-12zM583 233h11v1h-11zM291 222h4v13h-4zM94 229h4v7h-4zM170 221h1v15h-1zM211 233h9v3h-9zM211 236h8v1h-8zM471 222h14v15h-14zM582 234h12v3h-12zM93 236h5v2h-5zM138 224h1v14h-1zM210 237h9v1h-9zM423 215h13v24h-13zM470 237h15v2h-15zM581 237h12v2h-12zM210 238h8v2h-8zM470 239h13v1h-13zM581 239h11v1h-11zM210 240h7v1h-7zM291 235h5v6h-5zM470 240h4v1h-4zM580 240h11v1h-11zM209 241h8v1h-8zM580 241h10v1h-10zM93 238h6v5h-6zM209 242h7v1h-7zM579 242h10v1h-10zM292 241h4v3h-4zM579 243h8v1h-8zM92 243h7v2h-7zM208 243h7v2h-7zM579 244h6v1h-6zM208 245h6v1h-6zM292 244h5v2h-5zM578 245h6v1h-6zM92 245h8v2h-8zM578 246h5v1h-5zM207 246h6v2h-6zM577 247h6v1h-6zM293 246h4v3h-4zM550 209h1v40h-1zM577 248h5v1h-5zM91 247h9v3h-9zM206 248h6v2h-6zM294 249h3v1h-3zM330 222h25v28h-25zM576 249h6v1h-6zM91 250h3v1h-3zM98 250h2v1h-2zM205 250h6v1h-6zM294 250h4v1h-4zM470 241h1v10h-1zM576 250h5v1h-5zM90 251h4v1h-4zM295 251h5v1h-5zM329 250h26v2h-26zM575 251h5v1h-5zM90 252h3v1h-3zM98 251h3v2h-3zM204 251h6v2h-6zM296 252h59v1h-59zM575 252h4v1h-4zM99 253h2v1h-2zM203 253h6v1h-6zM297 253h58v1h-58zM469 252h1v2h-1zM574 253h4v1h-4zM89 253h4v2h-4zM99 254h3v1h-3zM171 252h1v3h-1zM203 254h5v1h-5zM298 254h57v1h-57zM456 254h14v1h-14zM551 254h5v1h-5zM572 254h5v1h-5zM89 255h3v1h-3zM99 255h4v1h-4zM172 255h1v1h-1zM201 255h5v1h-5zM333 255h22v1h-22zM436 251h1v5h-1zM551 255h26v1h-26zM88 256h4v1h-4zM100 256h3v1h-3zM172 256h32v1h-32zM338 256h17v1h-17zM456 255h13v2h-13zM87 257h5v1h-5zM101 257h6v1h-6zM172 257h31v1h-31zM551 256h25v2h-25zM85 258h6v1h-6zM102 258h36v1h-36zM173 258h28v1h-28zM551 258h24v1h-24zM83 259h7v1h-7zM104 259h34v1h-34zM551 259h23v1h-23zM79 260h9v1h-9zM107 260h31v1h-31zM455 257h1v4h-1zM554 260h18v1h-18zM61 261h24v1h-24zM61 262h20v1h-20zM61 263h17v1h-17zM454 268h1v5h-1zM437 276h17v6h-17zM437 302h1v3h-1zM437 305h2v1h-2zM438 306h1v3h-1zM438 309h2v1h-2zM436 309h1v2h-1zM439 310h1v1h-1zM439 311h2v1h-2zM424 311h12v2h-12zM439 312h3v1h-3zM440 313h3v1h-3zM440 314h4v1h-4zM558 314h14v1h-14zM423 314h1v2h-1zM441 315h4v1h-4zM555 315h19v1h-19zM171 316h20v1h-20zM442 316h4v1h-4zM554 316h21v1h-21zM170 317h22v1h-22zM290 317h17v1h-17zM422 317h1v1h-1zM443 317h4v1h-4zM552 317h5v1h-5zM573 317h2v1h-2zM61 318h8v1h-8zM143 318h11v1h-11zM169 318h2v1h-2zM190 318h2v1h-2zM288 318h20v1h-20zM417 318h6v1h-6zM444 318h4v1h-4zM552 318h3v1h-3zM574 318h2v1h-2zM61 319h11v1h-11zM142 319h14v1h-14zM168 319h2v1h-2zM191 319h2v1h-2zM286 319h4v1h-4zM306 319h3v1h-3zM408 319h14v1h-14zM445 319h4v1h-4zM551 319h3v1h-3zM69 320h3v1h-3zM142 320h1v1h-1zM154 320h3v1h-3zM167 320h2v1h-2zM192 320h2v1h-2zM285 320h3v1h-3zM308 320h2v1h-2zM395 320h21v1h-21zM446 320h5v1h-5zM575 319h1v2h-1zM70 321h3v1h-3zM155 321h4v1h-4zM166 321h3v1h-3zM193 321h3v1h-3zM284 321h3v1h-3zM309 321h1v1h-1zM395 321h14v1h-14zM448 321h4v1h-4zM141 321h1v2h-1zM156 322h12v1h-12zM193 322h5v1h-5zM283 322h3v1h-3zM394 322h2v1h-2zM449 322h4v1h-4zM551 320h1v3h-1zM668 322h4v1h-4zM72 322h1v2h-1zM140 323h2v1h-2zM158 323h9v1h-9zM194 323h6v1h-6zM282 323h3v1h-3zM450 323h4v1h-4zM472 323h14v1h-14zM667 323h5v1h-5zM159 324h7v1h-7zM195 324h5v1h-5zM282 324h2v1h-2zM394 323h1v2h-1zM451 324h3v1h-3zM472 324h27v1h-27zM519 324h17v1h-17zM550 323h1v2h-1zM576 322h1v3h-1zM667 324h4v1h-4zM197 325h4v1h-4zM281 325h2v1h-2zM453 325h1v1h-1zM471 325h30v1h-30zM518 325h33v1h-33zM602 325h26v1h-26zM666 325h2v1h-2zM140 324h1v3h-1zM198 326h4v1h-4zM471 326h1v1h-1zM486 326h64v1h-64zM577 325h1v2h-1zM600 326h29v1h-29zM666 326h1v1h-1zM280 326h2v2h-2zM310 325h1v3h-1zM454 326h1v2h-1zM499 327h20v1h-20zM536 327h14v1h-14zM577 327h2v1h-2zM600 327h3v1h-3zM627 327h4v1h-4zM665 327h2v1h-2zM200 327h2v2h-2zM280 328h1v1h-1zM393 326h1v3h-1zM455 328h1v1h-1zM501 328h17v1h-17zM537 328h12v1h-12zM599 328h2v1h-2zM628 328h4v1h-4zM73 326h1v4h-1zM337 329h2v1h-2zM455 329h4v1h-4zM470 328h1v2h-1zM578 328h2v2h-2zM598 329h2v1h-2zM629 329h5v1h-5zM139 327h1v4h-1zM279 329h2v2h-2zM311 330h3v1h-3zM330 330h9v1h-9zM456 330h15v1h-15zM578 330h3v1h-3zM630 330h5v1h-5zM665 328h1v3h-1zM201 329h2v3h-2zM279 331h1v1h-1zM311 331h28v1h-28zM458 331h12v1h-12zM579 331h5v1h-5zM597 330h2v2h-2zM631 331h7v1h-7zM311 332h29v1h-29zM580 332h10v1h-10zM596 332h2v1h-2zM632 332h10v1h-10zM278 332h2v2h-2zM311 333h24v1h-24zM580 333h18v1h-18zM633 333h14v1h-14zM202 332h2v3h-2zM581 334h16v1h-16zM634 334h17v1h-17zM664 331h1v4h-1zM202 335h3v1h-3zM278 334h1v2h-1zM583 335h14v1h-14zM635 335h19v1h-19zM339 333h1v4h-1zM589 336h7v1h-7zM637 336h18v1h-18zM392 331h1v7h-1zM595 337h1v1h-1zM641 337h14v1h-14zM277 336h2v3h-2zM645 338h10v1h-10zM203 336h2v4h-2zM649 339h7v1h-7zM652 340h4v1h-4zM663 336h1v5h-1zM276 339h3v3h-3zM654 341h2v1h-2zM655 342h1v1h-1zM203 340h3v4h-3zM254 334h2v10h-2zM276 342h2v2h-2zM655 343h2v2h-2zM656 345h1v3h-1zM656 348h2v23h-2zM204 344h2v29h-2zM275 344h3v29h-3zM656 371h1v3h-1zM276 373h2v2h-2zM340 343h1v32h-1zM662 344h1v31h-1zM391 340h1v36h-1zM203 373h3v4h-3zM655 374h2v3h-2zM652 377h4v1h-4zM276 375h3v4h-3zM649 378h7v1h-7zM203 377h2v3h-2zM646 379h10v1h-10zM202 380h3v1h-3zM643 380h13v1h-13zM277 379h2v3h-2zM640 381h16v1h-16zM278 382h1v1h-1zM636 382h19v1h-19zM202 381h2v3h-2zM591 383h5v1h-5zM635 383h19v1h-19zM663 378h1v6h-1zM254 374h2v11h-2zM278 383h2v2h-2zM585 384h12v1h-12zM634 384h16v1h-16zM339 382h1v4h-1zM392 380h1v6h-1zM581 385h16v1h-16zM633 385h12v1h-12zM201 384h2v3h-2zM279 385h1v2h-1zM320 386h20v1h-20zM580 386h17v1h-17zM631 386h10v1h-10zM200 387h2v1h-2zM312 387h27v1h-27zM580 387h15v1h-15zM630 387h6v1h-6zM199 388h3v1h-3zM279 387h2v2h-2zM579 388h10v1h-10zM596 387h2v2h-2zM630 388h5v1h-5zM664 385h1v4h-1zM198 389h3v1h-3zM579 389h3v1h-3zM629 389h4v1h-4zM664 389h2v1h-2zM73 387h1v4h-1zM139 386h1v5h-1zM196 390h5v1h-5zM280 389h2v2h-2zM311 388h28v3h-28zM578 390h2v1h-2zM597 389h2v2h-2zM629 390h3v1h-3zM195 391h5v1h-5zM393 388h1v4h-1zM577 391h3v1h-3zM629 391h1v1h-1zM665 390h1v2h-1zM194 392h5v1h-5zM281 391h2v2h-2zM500 392h19v1h-19zM536 392h14v1h-14zM577 392h2v1h-2zM598 391h2v2h-2zM628 392h2v1h-2zM665 392h2v1h-2zM140 391h1v3h-1zM159 393h7v1h-7zM193 393h4v1h-4zM282 393h2v1h-2zM310 391h1v3h-1zM499 393h21v1h-21zM535 393h16v1h-16zM577 393h1v1h-1zM599 393h3v1h-3zM628 393h1v1h-1zM666 393h1v1h-1zM157 394h10v1h-10zM193 394h2v1h-2zM282 394h3v1h-3zM458 394h13v1h-13zM486 394h65v1h-65zM576 394h2v1h-2zM599 394h4v1h-4zM627 394h2v1h-2zM666 394h2v1h-2zM141 394h1v2h-1zM156 395h12v1h-12zM192 395h2v1h-2zM283 395h3v1h-3zM309 394h1v2h-1zM394 393h1v3h-1zM454 395h47v1h-47zM518 395h19v1h-19zM550 395h2v1h-2zM576 395h1v1h-1zM600 395h28v1h-28zM667 395h3v1h-3zM72 394h1v3h-1zM141 396h2v1h-2zM155 396h4v1h-4zM191 396h2v1h-2zM284 396h3v1h-3zM308 396h2v1h-2zM395 396h1v1h-1zM450 396h50v1h-50zM519 396h17v1h-17zM551 396h2v1h-2zM575 396h2v1h-2zM601 396h27v1h-27zM667 396h5v1h-5zM71 397h1v1h-1zM142 397h1v1h-1zM154 397h3v1h-3zM167 396h2v2h-2zM190 397h2v1h-2zM285 397h4v1h-4zM306 397h3v1h-3zM395 397h7v1h-7zM445 397h14v1h-14zM471 397h15v1h-15zM551 397h3v1h-3zM574 397h2v1h-2zM603 397h24v1h-24zM668 397h4v1h-4zM70 398h2v1h-2zM142 398h13v1h-13zM168 398h5v1h-5zM185 398h7v1h-7zM287 398h21v1h-21zM396 398h17v1h-17zM442 398h12v1h-12zM552 398h4v1h-4zM573 398h3v1h-3zM671 398h1v1h-1zM70 399h1v1h-1zM143 399h11v1h-11zM169 399h22v1h-22zM288 399h19v1h-19zM397 399h24v1h-24zM440 399h8v1h-8zM553 399h4v1h-4zM572 399h3v1h-3zM68 400h3v1h-3zM172 400h13v1h-13zM412 400h11v1h-11zM439 400h4v1h-4zM555 400h19v1h-19zM61 401h9v1h-9zM421 401h3v1h-3zM438 401h2v1h-2zM557 401h16v1h-16zM61 402h8v1h-8zM423 402h1v1h-1zM438 402h1v1h-1zM562 402h9v1h-9zM437 403h1v1h-1zM424 404h14v1h-14zM424 405h13v1h-13z"/>
<path fill="#00ffcc" d="M442 195h12v1h-12zM437 196h17v1h-17zM437 197h18v3h-18zM437 200h5v1h-5zM454 200h1v1h-1zM61 202h5v1h-5zM454 201h2v2h-2zM61 203h14v1h-14zM188 203h13v1h-13zM455 203h4v1h-4zM61 204h18v1h-18zM187 204h15v1h-15zM455 204h10v1h-10zM554 204h19v1h-19zM61 205h22v1h-22zM551 205h23v1h-23zM61 206h24v1h-24zM186 205h17v2h-17zM311 206h18v1h-18zM455 205h14v2h-14zM67 207h19v1h-19zM185 207h19v1h-19zM298 207h31v1h-31zM75 208h13v1h-13zM184 208h20v1h-20zM551 206h24v3h-24zM78 209h10v1h-10zM181 209h24v1h-24zM81 210h8v1h-8zM177 210h11v1h-11zM297 208h32v3h-32zM456 207h14v4h-14zM551 209h25v2h-25zM82 211h7v1h-7zM110 211h28v1h-28zM173 211h15v1h-15zM200 210h6v2h-6zM82 212h8v1h-8zM106 212h32v1h-32zM551 211h26v2h-26zM83 213h7v1h-7zM104 213h34v1h-34zM172 212h15v2h-15zM201 212h6v2h-6zM297 211h33v3h-33zM551 213h27v1h-27zM103 214h35v1h-35zM572 214h6v1h-6zM84 214h7v2h-7zM102 215h36v1h-36zM171 214h16v2h-16zM201 214h7v2h-7zM551 214h9v2h-9zM85 216h6v1h-6zM551 216h8v1h-8zM573 215h6v2h-6zM85 217h7v1h-7zM101 216h37v2h-37zM202 216h7v2h-7zM551 217h7v1h-7zM171 216h15v3h-15zM436 206h1v13h-1zM469 211h1v9h-1zM551 218h6v2h-6zM573 217h7v3h-7zM86 218h6v3h-6zM171 219h14v2h-14zM100 218h38v4h-38zM171 221h1v1h-1zM202 218h8v4h-8zM296 214h34v8h-34zM551 220h5v2h-5zM574 220h7v2h-7zM99 222h9v1h-9zM307 222h1v1h-1zM551 222h4v1h-4zM87 221h6v3h-6zM99 223h6v1h-6zM574 222h8v2h-8zM99 224h5v2h-5zM551 223h3v4h-3zM99 226h4v2h-4zM88 224h5v5h-5zM295 222h6v9h-6zM329 222h1v9h-1zM551 227h2v4h-2zM551 231h3v3h-3zM574 224h9v10h-9zM89 229h5v6h-5zM295 231h35v4h-35zM551 234h4v1h-4zM88 235h6v1h-6zM203 222h8v15h-8zM470 222h1v15h-1zM551 235h5v2h-5zM574 234h8v3h-8zM98 228h5v10h-5zM203 237h7v1h-7zM574 237h7v1h-7zM551 237h6v2h-6zM573 238h8v2h-8zM202 238h8v3h-8zM551 239h7v2h-7zM88 236h5v6h-5zM551 241h8v1h-8zM573 240h7v2h-7zM87 242h6v1h-6zM202 241h7v2h-7zM551 242h9v1h-9zM573 242h6v1h-6zM202 243h6v1h-6zM296 235h34v9h-34zM551 243h10v1h-10zM572 243h7v1h-7zM87 243h5v2h-5zM99 238h4v7h-4zM551 244h28v1h-28zM201 244h7v2h-7zM86 245h6v2h-6zM100 245h3v2h-3zM171 245h1v2h-1zM551 245h27v2h-27zM201 246h6v2h-6zM469 240h1v8h-1zM85 247h6v2h-6zM551 247h26v2h-26zM100 247h4v3h-4zM171 247h2v3h-2zM200 248h6v2h-6zM297 244h33v6h-33zM84 249h7v2h-7zM100 250h7v1h-7zM171 250h34v1h-34zM298 250h31v1h-31zM436 237h1v14h-1zM551 249h25v2h-25zM83 251h7v1h-7zM171 251h33v1h-33zM300 251h29v1h-29zM456 248h14v4h-14zM82 252h8v1h-8zM172 252h32v1h-32zM551 251h24v2h-24zM82 253h7v1h-7zM101 251h37v3h-37zM455 252h14v2h-14zM551 253h23v1h-23zM81 254h8v1h-8zM102 254h36v1h-36zM172 253h31v2h-31zM556 254h16v1h-16zM78 255h11v1h-11zM173 255h28v1h-28zM61 256h27v1h-27zM103 255h35v2h-35zM455 254h1v3h-1zM61 257h26v1h-26zM107 257h31v1h-31zM61 258h24v1h-24zM61 259h22v1h-22zM61 260h18v1h-18zM454 258h1v10h-1zM437 270h17v6h-17zM437 306h1v4h-1zM437 310h2v1h-2zM436 311h1v2h-1zM438 311h1v2h-1zM438 313h2v1h-2zM424 313h13v2h-13zM439 314h1v1h-1zM424 315h12v1h-12zM439 315h2v1h-2zM439 316h3v1h-3zM440 317h3v1h-3zM557 317h16v1h-16zM171 318h19v1h-19zM423 316h1v3h-1zM440 318h4v1h-4zM555 318h19v1h-19zM170 319h21v1h-21zM290 319h16v1h-16zM422 319h1v1h-1zM440 319h5v1h-5zM554 319h21v1h-21zM61 320h8v1h-8zM143 320h11v1h-11zM169 320h23v1h-23zM288 320h20v1h-20zM416 320h7v1h-7zM442 320h4v1h-4zM552 320h6v1h-6zM572 320h3v1h-3zM61 321h9v1h-9zM142 321h13v1h-13zM169 321h3v1h-3zM188 321h5v1h-5zM287 321h22v1h-22zM409 321h13v1h-13zM443 321h5v1h-5zM552 321h4v1h-4zM573 321h3v1h-3zM61 322h11v1h-11zM142 322h14v1h-14zM168 322h2v1h-2zM191 322h2v1h-2zM286 322h12v1h-12zM305 322h5v1h-5zM396 322h25v1h-25zM444 322h5v1h-5zM552 322h3v1h-3zM574 322h2v1h-2zM69 323h3v1h-3zM142 323h1v1h-1zM154 323h4v1h-4zM167 323h2v1h-2zM191 323h3v1h-3zM285 323h4v1h-4zM307 323h3v1h-3zM395 323h20v1h-20zM445 323h5v1h-5zM551 323h3v1h-3zM70 324h3v1h-3zM141 324h2v1h-2zM155 324h4v1h-4zM166 324h3v1h-3zM192 324h3v1h-3zM284 324h3v1h-3zM308 324h2v1h-2zM395 324h15v1h-15zM446 324h5v1h-5zM551 324h2v1h-2zM575 323h1v2h-1zM671 324h1v1h-1zM71 325h2v1h-2zM155 325h13v1h-13zM192 325h5v1h-5zM283 325h4v1h-4zM394 325h2v1h-2zM447 325h6v1h-6zM551 325h1v1h-1zM668 325h4v1h-4zM141 325h1v2h-1zM156 326h12v1h-12zM193 326h5v1h-5zM282 326h4v1h-4zM309 325h1v2h-1zM449 326h5v1h-5zM472 326h14v1h-14zM550 326h2v1h-2zM72 326h1v2h-1zM140 327h2v1h-2zM158 327h9v1h-9zM193 327h7v1h-7zM282 327h3v1h-3zM450 327h4v1h-4zM471 327h28v1h-28zM519 327h17v1h-17zM550 327h1v1h-1zM576 325h1v3h-1zM603 327h24v1h-24zM667 326h5v2h-5zM159 328h8v1h-8zM194 328h6v1h-6zM394 326h1v3h-1zM451 328h4v1h-4zM471 328h30v1h-30zM518 328h19v1h-19zM549 328h2v1h-2zM576 328h2v1h-2zM601 328h27v1h-27zM666 328h5v1h-5zM160 329h6v1h-6zM194 329h7v1h-7zM281 328h3v2h-3zM393 329h2v1h-2zM452 329h3v1h-3zM471 329h80v1h-80zM600 329h29v1h-29zM140 328h1v3h-1zM195 330h6v1h-6zM281 330h2v1h-2zM454 330h2v1h-2zM471 330h1v1h-1zM486 330h65v1h-65zM577 329h1v2h-1zM599 330h31v1h-31zM666 329h2v2h-2zM196 331h5v1h-5zM280 331h3v1h-3zM454 331h4v1h-4zM470 331h1v1h-1zM499 331h21v1h-21zM535 331h15v1h-15zM577 331h2v1h-2zM599 331h4v1h-4zM627 331h4v1h-4zM139 331h2v2h-2zM197 332h5v1h-5zM500 332h19v1h-19zM536 332h14v1h-14zM598 332h3v1h-3zM628 332h4v1h-4zM665 331h2v2h-2zM280 332h2v2h-2zM310 328h1v6h-1zM335 333h4v1h-4zM455 332h16v2h-16zM577 332h3v2h-3zM598 333h2v1h-2zM628 333h5v1h-5zM198 333h4v2h-4zM457 334h14v1h-14zM578 334h3v1h-3zM597 334h3v1h-3zM629 334h5v1h-5zM665 333h1v2h-1zM199 335h3v1h-3zM279 334h3v2h-3zM459 335h11v1h-11zM578 335h5v1h-5zM597 335h2v1h-2zM629 335h6v1h-6zM664 335h2v1h-2zM199 336h4v1h-4zM311 334h28v3h-28zM393 330h1v7h-1zM579 336h10v1h-10zM596 336h3v1h-3zM630 336h7v1h-7zM579 337h16v1h-16zM596 337h2v1h-2zM630 337h11v1h-11zM311 337h29v2h-29zM631 338h14v1h-14zM73 330h1v10h-1zM313 339h27v1h-27zM580 338h18v2h-18zM632 339h17v1h-17zM320 340h12v1h-12zM580 340h17v1h-17zM633 340h19v1h-19zM664 336h1v5h-1zM200 337h3v5h-3zM279 336h2v6h-2zM581 341h16v1h-16zM633 341h21v1h-21zM663 341h2v1h-2zM583 342h14v1h-14zM634 342h21v1h-21zM139 333h1v11h-1zM201 342h2v2h-2zM278 342h3v2h-3zM587 343h10v1h-10zM590 344h6v1h-6zM635 343h20v2h-20zM593 345h3v1h-3zM636 345h20v1h-20zM339 340h1v7h-1zM637 346h19v1h-19zM639 347h17v1h-17zM640 348h16v1h-16zM642 349h14v1h-14zM643 350h13v1h-13zM644 351h12v2h-12zM645 353h11v11h-11zM644 364h12v1h-12zM643 365h13v2h-13zM642 367h14v1h-14zM641 368h15v1h-15zM639 369h17v1h-17zM638 370h18v1h-18zM201 344h3v29h-3zM278 344h2v29h-2zM594 372h2v1h-2zM636 371h20v2h-20zM201 373h2v1h-2zM254 344h2v30h-2zM592 373h4v1h-4zM635 373h21v1h-21zM278 373h3v2h-3zM589 374h7v1h-7zM635 374h20v1h-20zM586 375h11v1h-11zM634 375h21v1h-21zM583 376h14v1h-14zM633 376h22v1h-22zM663 342h1v35h-1zM633 377h19v1h-19zM663 377h2v1h-2zM200 374h3v5h-3zM339 371h1v8h-1zM581 377h16v2h-16zM632 378h17v1h-17zM199 379h4v1h-4zM318 379h22v1h-22zM392 338h1v42h-1zM580 379h17v1h-17zM631 379h15v1h-15zM199 380h3v1h-3zM279 375h2v6h-2zM312 380h28v1h-28zM630 380h13v1h-13zM198 381h4v1h-4zM311 381h29v1h-29zM580 380h18v2h-18zM630 381h10v1h-10zM279 381h3v2h-3zM579 382h19v1h-19zM630 382h6v1h-6zM664 378h1v5h-1zM139 372h1v12h-1zM197 382h5v2h-5zM579 383h12v1h-12zM596 383h3v1h-3zM629 383h6v1h-6zM196 384h5v1h-5zM280 383h2v2h-2zM311 382h28v3h-28zM578 384h7v1h-7zM629 384h5v1h-5zM664 383h2v2h-2zM139 384h2v2h-2zM195 385h6v1h-6zM310 385h29v1h-29zM578 385h3v1h-3zM597 384h2v2h-2zM629 385h4v1h-4zM665 385h1v1h-1zM73 375h1v12h-1zM194 386h7v1h-7zM280 385h3v2h-3zM310 386h10v1h-10zM597 386h3v1h-3zM628 386h3v1h-3zM160 387h6v1h-6zM194 387h6v1h-6zM281 387h2v1h-2zM310 387h2v1h-2zM393 380h1v8h-1zM536 387h14v1h-14zM577 386h3v2h-3zM140 386h1v3h-1zM159 388h7v1h-7zM193 388h6v1h-6zM281 388h3v1h-3zM500 387h19v2h-19zM536 388h15v1h-15zM577 388h2v1h-2zM598 387h3v2h-3zM628 387h2v2h-2zM665 386h2v3h-2zM158 389h9v1h-9zM193 389h5v1h-5zM310 388h1v2h-1zM459 389h12v1h-12zM486 389h65v1h-65zM576 389h3v1h-3zM599 389h3v1h-3zM627 389h2v1h-2zM140 389h2v2h-2zM157 390h10v1h-10zM192 390h4v1h-4zM282 389h3v2h-3zM309 390h2v1h-2zM456 390h16v1h-16zM475 390h77v1h-77zM576 390h2v1h-2zM599 390h30v1h-30zM666 389h2v2h-2zM141 391h1v1h-1zM156 391h12v1h-12zM192 391h3v1h-3zM283 391h3v1h-3zM309 391h1v1h-1zM394 388h1v4h-1zM453 391h99v1h-99zM576 391h1v1h-1zM600 391h29v1h-29zM666 391h6v1h-6zM72 389h1v4h-1zM155 392h14v1h-14zM191 392h3v1h-3zM283 392h4v1h-4zM308 392h2v1h-2zM394 392h2v1h-2zM450 392h50v1h-50zM519 392h17v1h-17zM550 392h3v1h-3zM600 392h28v1h-28zM71 393h2v1h-2zM141 392h2v2h-2zM154 393h5v1h-5zM166 393h3v1h-3zM191 393h2v1h-2zM284 393h4v1h-4zM307 393h3v1h-3zM395 393h3v1h-3zM446 393h53v1h-53zM520 393h15v1h-15zM551 393h3v1h-3zM575 392h2v2h-2zM602 393h26v1h-26zM667 392h5v2h-5zM142 394h1v1h-1zM153 394h4v1h-4zM167 394h2v1h-2zM190 394h3v1h-3zM285 394h5v1h-5zM305 394h4v1h-4zM395 394h15v1h-15zM443 394h15v1h-15zM471 394h15v1h-15zM551 394h4v1h-4zM574 394h2v1h-2zM603 394h24v1h-24zM668 394h4v1h-4zM70 394h2v2h-2zM142 395h14v1h-14zM168 395h5v1h-5zM185 395h7v1h-7zM286 395h23v1h-23zM395 395h19v1h-19zM441 395h13v1h-13zM552 395h4v1h-4zM573 395h3v1h-3zM670 395h2v1h-2zM69 396h3v1h-3zM143 396h12v1h-12zM169 396h22v1h-22zM287 396h21v1h-21zM396 396h24v1h-24zM440 396h10v1h-10zM553 396h5v1h-5zM572 396h3v1h-3zM61 397h10v1h-10zM143 397h11v1h-11zM169 397h21v1h-21zM289 397h17v1h-17zM402 397h21v1h-21zM439 397h6v1h-6zM554 397h20v1h-20zM173 398h12v1h-12zM413 398h10v1h-10zM438 398h4v1h-4zM556 398h17v1h-17zM61 398h9v2h-9zM421 399h3v1h-3zM438 399h2v1h-2zM557 399h15v1h-15zM61 400h7v1h-7zM423 400h1v1h-1zM438 400h1v1h-1zM424 401h14v2h-14zM424 403h13v1h-13z"/>
<path fill="#00ff99" d="M442 200h12v1h-12zM437 201h17v2h-17zM437 203h18v2h-18zM437 205h5v1h-5zM454 205h1v2h-1zM61 207h6v1h-6zM454 207h2v1h-2zM61 208h14v1h-14zM61 209h17v1h-17zM63 210h18v1h-18zM455 208h1v3h-1zM69 211h13v1h-13zM188 210h12v2h-12zM73 212h9v1h-9zM74 213h9v1h-9zM74 214h10v1h-10zM560 214h12v1h-12zM75 215h9v1h-9zM187 212h14v4h-14zM560 215h13v1h-13zM455 211h14v6h-14zM559 216h14v1h-14zM76 216h9v2h-9zM558 217h15v1h-15zM186 216h16v3h-16zM456 217h13v3h-13zM557 218h16v2h-16zM77 218h9v3h-9zM185 219h17v2h-17zM78 221h9v1h-9zM172 221h30v1h-30zM556 220h18v2h-18zM108 222h30v1h-30zM301 222h6v1h-6zM308 222h21v1h-21zM555 222h19v1h-19zM79 222h8v2h-8zM105 223h33v1h-33zM80 224h8v2h-8zM104 224h34v2h-34zM554 223h20v4h-20zM81 226h7v3h-7zM81 229h8v1h-8zM301 223h28v8h-28zM553 227h21v4h-21zM82 230h7v3h-7zM554 231h20v3h-20zM81 233h8v2h-8zM555 234h19v1h-19zM81 235h7v2h-7zM436 219h1v18h-1zM556 235h18v2h-18zM171 222h32v16h-32zM557 237h17v1h-17zM557 238h16v1h-16zM80 237h8v3h-8zM456 220h14v20h-14zM558 239h15v2h-15zM79 240h9v2h-9zM559 241h14v1h-14zM78 242h9v1h-9zM456 240h13v3h-13zM560 242h13v1h-13zM171 238h31v6h-31zM561 243h11v1h-11zM77 243h10v2h-10zM171 244h30v1h-30zM76 245h10v2h-10zM103 226h35v21h-35zM172 245h29v2h-29zM76 247h9v1h-9zM173 247h28v1h-28zM455 243h14v5h-14zM75 248h10v1h-10zM74 249h10v1h-10zM104 247h34v3h-34zM173 248h27v2h-27zM73 250h11v1h-11zM107 250h31v1h-31zM70 251h13v1h-13zM455 248h1v4h-1zM64 252h18v1h-18zM61 253h21v1h-21zM61 254h20v1h-20zM61 255h17v1h-17zM454 253h1v5h-1zM437 258h2v1h-2zM437 259h6v1h-6zM450 259h4v1h-4zM437 260h17v10h-17zM437 311h1v3h-1zM437 314h2v1h-2zM436 315h1v1h-1zM424 316h13v1h-13zM438 315h1v2h-1zM438 317h2v1h-2zM424 317h12v2h-12zM439 318h1v2h-1zM423 319h1v2h-1zM439 320h3v1h-3zM558 320h14v1h-14zM172 321h16v1h-16zM422 321h1v1h-1zM440 321h3v1h-3zM556 321h17v1h-17zM170 322h21v1h-21zM298 322h7v1h-7zM421 322h2v1h-2zM440 322h4v1h-4zM555 322h19v1h-19zM61 323h8v1h-8zM143 323h11v1h-11zM169 323h22v1h-22zM289 323h18v1h-18zM415 323h8v1h-8zM441 323h4v1h-4zM554 323h6v1h-6zM571 323h4v1h-4zM61 324h9v1h-9zM143 324h12v1h-12zM169 324h4v1h-4zM186 324h6v1h-6zM287 324h21v1h-21zM410 324h12v1h-12zM442 324h4v1h-4zM553 324h4v1h-4zM573 324h2v1h-2zM61 325h10v1h-10zM142 325h13v1h-13zM168 325h3v1h-3zM190 325h2v1h-2zM287 325h22v1h-22zM396 325h24v1h-24zM443 325h4v1h-4zM552 325h4v1h-4zM573 325h3v1h-3zM67 326h5v1h-5zM142 326h2v1h-2zM152 326h4v1h-4zM168 326h2v1h-2zM286 326h4v1h-4zM305 326h4v1h-4zM395 326h19v1h-19zM444 326h5v1h-5zM552 326h3v1h-3zM574 326h2v1h-2zM69 327h3v1h-3zM142 327h1v1h-1zM154 327h4v1h-4zM191 326h2v2h-2zM285 327h3v1h-3zM307 327h3v1h-3zM395 327h16v1h-16zM445 327h5v1h-5zM551 327h3v1h-3zM70 328h3v1h-3zM141 328h2v1h-2zM155 328h4v1h-4zM167 327h2v2h-2zM284 328h4v1h-4zM395 328h10v1h-10zM446 328h5v1h-5zM551 328h2v1h-2zM575 327h1v2h-1zM671 328h1v1h-1zM155 329h5v1h-5zM166 329h3v1h-3zM192 328h2v2h-2zM284 329h3v1h-3zM395 329h1v1h-1zM447 329h5v1h-5zM575 329h2v1h-2zM192 330h3v1h-3zM308 328h2v3h-2zM394 330h2v1h-2zM449 330h5v1h-5zM472 330h14v1h-14zM551 329h1v2h-1zM668 329h4v2h-4zM156 330h12v2h-12zM193 331h3v1h-3zM283 330h3v2h-3zM450 331h4v1h-4zM471 331h28v1h-28zM520 331h15v1h-15zM550 331h2v1h-2zM603 331h24v1h-24zM72 329h1v4h-1zM141 329h1v4h-1zM157 332h10v1h-10zM193 332h4v1h-4zM309 331h1v2h-1zM451 332h4v1h-4zM471 332h29v1h-29zM519 332h17v1h-17zM550 332h1v1h-1zM601 332h27v1h-27zM667 331h5v2h-5zM140 333h2v1h-2zM158 333h9v1h-9zM282 332h3v2h-3zM453 333h2v1h-2zM471 333h80v1h-80zM576 330h1v4h-1zM600 333h28v1h-28zM666 333h3v1h-3zM159 334h8v1h-8zM193 333h5v2h-5zM454 334h3v1h-3zM471 334h1v1h-1zM485 334h66v1h-66zM600 334h29v1h-29zM159 335h7v1h-7zM193 335h6v1h-6zM282 334h2v2h-2zM454 335h5v1h-5zM470 335h1v1h-1zM487 335h64v1h-64zM577 334h1v2h-1zM599 335h4v1h-4zM627 335h2v1h-2zM666 334h2v2h-2zM160 336h6v1h-6zM194 336h5v1h-5zM394 331h1v6h-1zM455 336h16v1h-16zM599 336h3v1h-3zM281 336h3v2h-3zM456 337h15v1h-15zM500 336h19v2h-19zM536 336h14v2h-14zM577 336h2v2h-2zM598 337h3v1h-3zM628 336h2v2h-2zM310 334h1v5h-1zM458 338h12v1h-12zM628 338h3v1h-3zM665 336h2v3h-2zM310 339h3v1h-3zM463 339h7v1h-7zM577 338h3v2h-3zM598 338h2v2h-2zM629 339h3v1h-3zM310 340h10v1h-10zM332 340h7v1h-7zM578 340h2v1h-2zM194 337h6v5h-6zM578 341h3v1h-3zM629 340h4v2h-4zM665 339h1v3h-1zM578 342h5v1h-5zM629 342h5v1h-5zM140 334h1v10h-1zM281 338h2v6h-2zM579 343h8v1h-8zM597 340h2v4h-2zM664 342h2v2h-2zM579 344h11v1h-11zM630 343h5v2h-5zM195 342h6v4h-6zM280 344h3v2h-3zM579 345h14v1h-14zM596 344h2v2h-2zM630 345h6v1h-6zM311 341h28v6h-28zM630 346h7v1h-7zM139 344h2v4h-2zM311 347h29v1h-29zM630 347h9v1h-9zM313 348h27v1h-27zM631 348h9v1h-9zM315 349h25v1h-25zM580 346h18v4h-18zM631 349h11v1h-11zM317 350h23v1h-23zM631 350h12v1h-12zM319 351h21v1h-21zM631 351h13v1h-13zM580 350h17v3h-17zM632 352h12v1h-12zM581 353h16v11h-16zM632 353h13v11h-13zM339 352h1v13h-1zM632 364h12v1h-12zM319 365h21v1h-21zM318 366h22v1h-22zM631 365h12v2h-12zM317 367h23v1h-23zM580 364h17v4h-17zM631 367h11v1h-11zM139 348h1v21h-1zM315 368h25v1h-25zM631 368h10v1h-10zM196 346h5v24h-5zM313 369h27v1h-27zM630 369h9v1h-9zM280 346h2v25h-2zM311 370h29v1h-29zM630 370h8v1h-8zM139 369h2v3h-2zM580 368h18v4h-18zM280 371h3v2h-3zM579 372h15v1h-15zM630 371h6v2h-6zM195 370h6v4h-6zM579 373h13v1h-13zM73 340h1v35h-1zM195 374h5v1h-5zM579 374h10v1h-10zM596 372h2v3h-2zM630 373h5v2h-5zM664 344h1v31h-1zM579 375h7v1h-7zM629 375h5v1h-5zM311 371h28v6h-28zM579 376h4v1h-4zM664 375h2v2h-2zM629 376h4v2h-4zM194 375h6v4h-6zM281 373h2v6h-2zM310 377h29v2h-29zM578 377h3v2h-3zM597 375h2v4h-2zM629 378h3v1h-3zM194 379h5v1h-5zM310 379h8v1h-8zM393 337h1v43h-1zM578 379h2v1h-2zM597 379h3v1h-3zM629 379h2v1h-2zM665 377h1v3h-1zM160 379h6v2h-6zM193 380h6v1h-6zM281 379h3v2h-3zM310 380h2v1h-2zM159 381h7v1h-7zM193 381h5v1h-5zM501 381h17v1h-17zM537 381h13v1h-13zM577 380h3v2h-3zM598 380h2v2h-2zM140 372h1v11h-1zM159 382h8v1h-8zM282 381h2v2h-2zM500 382h19v1h-19zM536 382h15v1h-15zM598 382h3v1h-3zM628 380h2v3h-2zM665 380h2v3h-2zM140 383h2v1h-2zM158 383h9v1h-9zM193 382h4v2h-4zM310 381h1v3h-1zM499 383h21v1h-21zM535 383h16v1h-16zM577 382h2v2h-2zM628 383h1v1h-1zM666 383h1v1h-1zM157 384h10v1h-10zM193 384h3v1h-3zM282 383h3v2h-3zM309 384h2v1h-2zM459 384h12v1h-12zM486 384h65v1h-65zM599 383h3v2h-3zM627 384h2v1h-2zM157 385h11v1h-11zM192 385h3v1h-3zM457 385h15v1h-15zM480 385h72v1h-72zM576 384h2v2h-2zM599 385h30v1h-30zM666 384h2v2h-2zM156 386h12v1h-12zM283 385h3v2h-3zM309 385h1v2h-1zM394 380h1v7h-1zM455 386h97v1h-97zM600 386h28v1h-28zM667 386h3v1h-3zM141 384h1v4h-1zM155 387h5v1h-5zM166 387h2v1h-2zM192 386h2v2h-2zM283 387h4v1h-4zM394 387h2v1h-2zM453 387h47v1h-47zM550 387h3v1h-3zM576 386h1v2h-1zM72 383h1v6h-1zM141 388h2v1h-2zM155 388h4v1h-4zM166 388h3v1h-3zM284 388h3v1h-3zM308 387h2v2h-2zM395 388h1v1h-1zM450 388h50v1h-50zM519 387h17v2h-17zM551 388h2v1h-2zM575 388h2v1h-2zM601 387h27v2h-27zM667 387h5v2h-5zM154 389h4v1h-4zM191 388h2v2h-2zM285 389h3v1h-3zM307 389h3v1h-3zM395 389h3v1h-3zM447 389h12v1h-12zM471 389h15v1h-15zM551 389h3v1h-3zM575 389h1v1h-1zM602 389h25v1h-25zM71 389h1v2h-1zM142 389h1v2h-1zM154 390h3v1h-3zM167 389h2v2h-2zM190 390h2v1h-2zM285 390h4v1h-4zM305 390h4v1h-4zM395 390h14v1h-14zM445 390h11v1h-11zM472 390h3v1h-3zM552 390h3v1h-3zM574 390h2v1h-2zM668 389h4v2h-4zM70 391h2v1h-2zM142 391h14v1h-14zM168 391h3v1h-3zM187 391h5v1h-5zM286 391h23v1h-23zM395 391h16v1h-16zM443 391h10v1h-10zM552 391h4v1h-4zM573 391h3v1h-3zM69 392h3v1h-3zM143 392h12v1h-12zM169 392h4v1h-4zM185 392h6v1h-6zM287 392h21v1h-21zM396 392h19v1h-19zM441 392h9v1h-9zM553 392h4v1h-4zM573 392h2v1h-2zM69 393h2v1h-2zM143 393h11v1h-11zM169 393h22v1h-22zM288 393h19v1h-19zM398 393h22v1h-22zM440 393h6v1h-6zM554 393h5v1h-5zM572 393h3v1h-3zM143 394h10v1h-10zM169 394h21v1h-21zM290 394h15v1h-15zM410 394h12v1h-12zM439 394h4v1h-4zM555 394h19v1h-19zM61 394h9v2h-9zM173 395h12v1h-12zM414 395h9v1h-9zM438 395h3v1h-3zM556 395h17v1h-17zM61 396h8v1h-8zM420 396h4v1h-4zM438 396h2v1h-2zM558 396h14v1h-14zM438 397h1v1h-1zM423 397h1v2h-1zM437 398h1v1h-1zM424 399h14v2h-14z"/>
<path fill="#00ff66" d="M442 205h12v1h-12zM437 206h17v2h-17zM437 208h18v1h-18zM437 209h4v1h-4zM61 210h2v1h-2zM61 211h8v1h-8zM61 212h12v1h-12zM454 209h1v5h-1zM61 213h13v2h-13zM61 215h14v1h-14zM61 216h15v2h-15zM64 218h13v1h-13zM66 219h11v1h-11zM69 220h8v1h-8zM71 221h7v1h-7zM72 222h7v2h-7zM73 224h7v2h-7zM73 226h8v4h-8zM73 230h9v3h-9zM73 233h8v4h-8zM73 237h7v2h-7zM72 239h8v1h-8zM72 240h7v1h-7zM71 241h8v1h-8zM69 242h9v1h-9zM455 217h1v26h-1zM66 243h11v1h-11zM63 244h14v1h-14zM61 245h15v3h-15zM61 248h14v1h-14zM61 249h13v1h-13zM61 250h12v1h-12zM61 251h9v1h-9zM61 252h3v1h-3zM437 252h2v1h-2zM454 247h1v6h-1zM437 253h7v1h-7zM450 253h4v1h-4zM437 254h17v4h-17zM439 258h15v1h-15zM443 259h7v1h-7zM437 315h1v2h-1zM436 317h2v1h-2zM436 318h1v1h-1zM424 319h13v1h-13zM424 320h12v1h-12zM438 318h1v3h-1zM438 321h2v1h-2zM439 322h1v1h-1zM423 321h1v3h-1zM439 323h2v1h-2zM560 323h11v1h-11zM173 324h13v1h-13zM422 324h1v1h-1zM439 324h3v1h-3zM557 324h16v1h-16zM171 325h19v1h-19zM420 325h3v1h-3zM440 325h3v1h-3zM556 325h17v1h-17zM61 326h6v1h-6zM144 326h8v1h-8zM170 326h21v1h-21zM290 326h15v1h-15zM414 326h9v1h-9zM440 326h4v1h-4zM555 326h7v1h-7zM571 326h3v1h-3zM61 327h8v1h-8zM143 327h11v1h-11zM169 327h5v1h-5zM184 327h7v1h-7zM288 327h19v1h-19zM411 327h10v1h-10zM441 327h4v1h-4zM554 327h3v1h-3zM572 327h3v1h-3zM61 328h9v1h-9zM143 328h12v1h-12zM169 328h3v1h-3zM186 328h6v1h-6zM288 328h20v1h-20zM405 328h15v1h-15zM442 328h4v1h-4zM553 328h3v1h-3zM573 328h2v1h-2zM62 329h10v1h-10zM142 329h13v1h-13zM169 329h2v1h-2zM189 329h3v1h-3zM287 329h21v1h-21zM396 329h19v1h-19zM443 329h4v1h-4zM574 329h1v1h-1zM69 330h3v1h-3zM142 330h14v1h-14zM168 330h2v1h-2zM190 330h2v1h-2zM286 330h5v1h-5zM303 330h5v1h-5zM396 330h16v1h-16zM444 330h5v1h-5zM552 329h3v2h-3zM574 330h2v1h-2zM153 331h3v1h-3zM168 331h1v1h-1zM286 331h3v1h-3zM305 331h4v1h-4zM395 331h15v1h-15zM445 331h5v1h-5zM552 331h2v1h-2zM70 331h2v2h-2zM154 332h3v1h-3zM306 332h3v1h-3zM395 332h13v1h-13zM446 332h5v1h-5zM71 333h2v1h-2zM142 331h1v3h-1zM154 333h4v1h-4zM285 332h3v2h-3zM307 333h3v1h-3zM395 333h4v1h-4zM448 333h5v1h-5zM575 331h1v3h-1zM669 333h3v1h-3zM167 332h2v3h-2zM191 331h2v4h-2zM449 334h5v1h-5zM472 334h13v1h-13zM551 332h2v3h-2zM575 334h2v1h-2zM141 334h2v2h-2zM155 334h4v2h-4zM166 335h3v1h-3zM192 335h1v1h-1zM450 335h4v1h-4zM471 335h16v1h-16zM551 335h1v1h-1zM603 335h24v1h-24zM668 334h4v2h-4zM155 336h5v1h-5zM166 336h2v1h-2zM284 334h3v3h-3zM395 334h1v3h-1zM451 336h4v1h-4zM602 336h26v1h-26zM667 336h5v1h-5zM284 337h2v1h-2zM308 334h2v4h-2zM453 337h3v1h-3zM471 336h29v2h-29zM519 336h17v2h-17zM550 336h2v2h-2zM601 337h27v1h-27zM667 337h4v1h-4zM454 338h4v1h-4zM470 338h81v1h-81zM600 338h28v1h-28zM667 338h2v1h-2zM156 337h12v3h-12zM455 339h8v1h-8zM470 339h2v1h-2zM484 339h67v1h-67zM576 335h1v5h-1zM600 339h29v1h-29zM157 340h11v1h-11zM309 338h1v3h-1zM456 340h15v1h-15zM486 340h65v1h-65zM576 340h2v1h-2zM599 340h4v1h-4zM666 339h2v2h-2zM192 336h2v6h-2zM283 338h3v4h-3zM457 341h14v1h-14zM499 341h21v1h-21zM535 341h16v1h-16zM627 340h2v2h-2zM192 342h3v1h-3zM459 342h12v1h-12zM536 342h15v1h-15zM577 341h1v2h-1zM599 341h3v2h-3zM628 342h1v1h-1zM460 343h10v1h-10zM599 343h2v1h-2zM666 341h1v3h-1zM157 341h10v4h-10zM500 342h19v3h-19zM536 343h14v2h-14zM598 344h3v1h-3zM193 343h2v3h-2zM283 342h2v4h-2zM501 345h17v1h-17zM537 345h13v1h-13zM577 343h2v3h-2zM72 334h1v13h-1zM628 343h2v4h-2zM665 344h2v3h-2zM141 336h1v12h-1zM309 341h2v7h-2zM629 347h1v1h-1zM309 348h4v1h-4zM577 346h3v3h-3zM309 349h6v1h-6zM598 345h2v5h-2zM309 350h8v1h-8zM309 351h10v1h-10zM629 348h2v4h-2zM578 349h2v4h-2zM310 352h29v12h-29zM578 353h3v11h-3zM309 364h30v1h-30zM629 352h3v13h-3zM309 365h10v1h-10zM309 366h9v1h-9zM309 367h8v1h-8zM597 350h2v18h-2zM140 348h2v21h-2zM309 368h6v1h-6zM578 364h2v5h-2zM629 365h2v4h-2zM193 346h3v24h-3zM309 369h4v1h-4zM629 369h1v1h-1zM665 347h1v23h-1zM282 346h3v25h-3zM158 345h9v27h-9zM577 369h3v3h-3zM193 370h2v3h-2zM501 372h17v2h-17zM537 372h13v2h-13zM598 368h2v6h-2zM192 373h3v2h-3zM283 371h2v4h-2zM536 374h14v1h-14zM598 374h3v1h-3zM628 370h2v5h-2zM665 370h2v5h-2zM157 372h10v4h-10zM500 374h19v2h-19zM536 375h15v1h-15zM599 375h2v1h-2zM309 370h2v7h-2zM499 376h21v1h-21zM535 376h16v1h-16zM577 372h2v5h-2zM628 375h1v2h-1zM666 375h1v2h-1zM487 377h64v1h-64zM599 376h3v2h-3zM156 376h12v3h-12zM283 375h3v4h-3zM309 377h1v2h-1zM460 378h11v1h-11zM486 378h65v1h-65zM599 378h4v1h-4zM627 377h2v2h-2zM156 379h4v1h-4zM192 375h2v5h-2zM284 379h2v1h-2zM394 337h1v43h-1zM458 379h13v1h-13zM483 379h69v1h-69zM576 377h2v3h-2zM600 379h29v1h-29zM666 377h2v3h-2zM155 380h5v1h-5zM166 379h2v2h-2zM192 380h1v1h-1zM457 380h95v1h-95zM667 380h2v1h-2zM141 369h1v13h-1zM166 381h3v1h-3zM456 381h45v1h-45zM518 381h19v1h-19zM550 381h2v1h-2zM600 380h28v2h-28zM667 381h4v1h-4zM72 371h1v12h-1zM141 382h2v1h-2zM155 381h4v2h-4zM284 380h3v3h-3zM308 379h2v4h-2zM454 382h46v1h-46zM519 382h17v1h-17zM576 380h1v3h-1zM601 382h27v1h-27zM154 383h4v1h-4zM307 383h3v1h-3zM395 381h1v3h-1zM452 383h47v1h-47zM520 383h15v1h-15zM551 382h2v2h-2zM575 383h2v1h-2zM602 383h26v1h-26zM667 382h5v2h-5zM167 382h2v3h-2zM191 381h2v4h-2zM285 383h3v2h-3zM307 384h2v1h-2zM395 384h3v1h-3zM450 384h9v1h-9zM471 384h15v1h-15zM551 384h3v1h-3zM602 384h25v1h-25zM71 383h1v3h-1zM142 383h1v3h-1zM154 384h3v2h-3zM168 385h1v1h-1zM190 385h2v1h-2zM286 385h3v1h-3zM306 385h3v1h-3zM395 385h12v1h-12zM447 385h10v1h-10zM472 385h8v1h-8zM552 385h2v1h-2zM575 384h1v2h-1zM668 384h4v2h-4zM142 386h2v1h-2zM153 386h3v1h-3zM168 386h2v1h-2zM189 386h3v1h-3zM286 386h4v1h-4zM304 386h5v1h-5zM395 386h14v1h-14zM445 386h10v1h-10zM552 386h3v1h-3zM670 386h2v1h-2zM142 387h13v1h-13zM168 387h3v1h-3zM187 387h5v1h-5zM396 387h15v1h-15zM443 387h10v1h-10zM553 387h2v1h-2zM574 386h2v2h-2zM70 386h2v3h-2zM143 388h12v1h-12zM169 388h3v1h-3zM186 388h5v1h-5zM287 387h21v2h-21zM396 388h17v1h-17zM442 388h8v1h-8zM553 388h3v1h-3zM573 388h2v1h-2zM69 389h2v1h-2zM169 389h5v1h-5zM184 389h7v1h-7zM288 389h19v1h-19zM398 389h18v1h-18zM441 389h6v1h-6zM554 389h3v1h-3zM572 389h3v1h-3zM61 390h10v1h-10zM143 389h11v2h-11zM169 390h21v1h-21zM289 390h16v1h-16zM409 390h11v1h-11zM440 390h5v1h-5zM555 390h5v1h-5zM571 390h3v1h-3zM61 391h9v1h-9zM171 391h16v1h-16zM411 391h11v1h-11zM439 391h4v1h-4zM556 391h17v1h-17zM173 392h12v1h-12zM415 392h8v1h-8zM439 392h2v1h-2zM557 392h16v1h-16zM61 392h8v2h-8zM420 393h3v1h-3zM438 393h2v1h-2zM559 393h13v1h-13zM422 394h2v1h-2zM438 394h1v1h-1zM423 395h1v1h-1zM437 395h1v2h-1zM424 397h14v1h-14zM424 398h13v1h-13z"/>
<path fill="#00ff4c" d="M441 209h13v1h-13zM437 210h6v1h-6zM61 218h3v1h-3zM61 219h5v1h-5zM61 220h8v1h-8zM61 221h10v1h-10zM454 214h1v8h-1zM61 222h11v2h-11zM62 224h11v1h-11zM63 225h10v1h-10zM65 226h8v1h-8zM66 227h7v1h-7zM67 228h6v2h-6zM68 230h5v2h-5zM67 232h6v2h-6zM66 234h7v1h-7zM65 235h8v1h-8zM64 236h9v1h-9zM63 237h10v1h-10zM61 238h12v1h-12zM61 239h11v2h-11zM61 241h10v1h-10zM61 242h8v1h-8zM61 243h5v1h-5zM61 244h2v1h-2zM454 239h1v8h-1zM437 250h2v1h-2zM437 251h5v1h-5zM453 251h1v1h-1zM439 252h15v1h-15zM444 253h6v1h-6zM437 318h1v1h-1zM436 320h1v1h-1zM424 321h12v1h-12zM438 322h1v1h-1zM423 324h1v1h-1zM439 325h1v1h-1zM562 326h9v1h-9zM174 327h10v1h-10zM421 327h1v1h-1zM440 327h1v1h-1zM557 327h5v1h-5zM571 327h1v1h-1zM172 328h2v1h-2zM184 328h2v1h-2zM420 328h1v1h-1zM441 328h1v1h-1zM556 328h1v1h-1zM572 328h1v1h-1zM61 329h1v1h-1zM171 329h1v1h-1zM186 329h3v1h-3zM415 329h5v1h-5zM442 329h1v1h-1zM573 329h1v1h-1zM61 330h8v1h-8zM170 330h1v1h-1zM187 330h3v1h-3zM291 330h12v1h-12zM412 330h3v1h-3zM443 330h1v1h-1zM555 329h1v2h-1zM69 331h1v1h-1zM143 331h10v1h-10zM189 331h2v1h-2zM289 331h16v1h-16zM410 331h3v1h-3zM444 331h1v1h-1zM554 331h1v1h-1zM143 332h1v1h-1zM153 332h1v1h-1zM169 331h1v2h-1zM288 332h2v1h-2zM304 332h2v1h-2zM408 332h3v1h-3zM445 332h1v1h-1zM574 331h1v2h-1zM70 333h1v1h-1zM190 332h1v2h-1zM288 333h1v1h-1zM305 333h2v1h-2zM399 333h10v1h-10zM446 333h2v1h-2zM553 332h1v2h-1zM287 334h2v1h-2zM306 334h2v1h-2zM396 334h9v1h-9zM447 334h2v1h-2zM71 334h1v2h-1zM154 334h1v2h-1zM396 335h2v1h-2zM449 335h1v1h-1zM575 335h1v1h-1zM287 335h1v2h-1zM307 335h1v2h-1zM450 336h1v1h-1zM552 335h1v2h-1zM142 336h1v2h-1zM451 337h2v1h-2zM671 337h1v1h-1zM168 336h1v3h-1zM191 335h1v4h-1zM452 338h2v1h-2zM669 338h3v1h-3zM155 337h1v3h-1zM395 337h1v3h-1zM453 339h2v1h-2zM472 339h12v1h-12zM668 339h2v1h-2zM286 337h1v4h-1zM454 340h2v1h-2zM471 340h15v1h-15zM551 338h1v3h-1zM603 340h24v1h-24zM668 340h1v1h-1zM455 341h2v1h-2zM471 341h1v1h-1zM484 341h15v1h-15zM520 341h15v1h-15zM602 341h25v1h-25zM457 342h2v1h-2zM486 342h14v1h-14zM576 341h1v2h-1zM602 342h1v1h-1zM308 338h1v6h-1zM458 343h2v1h-2zM470 343h1v1h-1zM487 343h13v1h-13zM519 342h17v2h-17zM627 342h1v2h-1zM667 341h1v3h-1zM156 340h1v5h-1zM459 344h11v1h-11zM499 344h1v1h-1zM519 344h1v1h-1zM535 344h1v1h-1zM601 343h1v2h-1zM469 345h1v1h-1zM500 345h1v1h-1zM518 345h1v1h-1zM536 345h1v1h-1zM550 343h1v3h-1zM500 346h19v2h-19zM536 346h14v2h-14zM600 345h1v3h-1zM156 345h2v4h-2zM501 348h17v2h-17zM537 348h13v2h-13zM628 347h1v7h-1zM666 347h1v7h-1zM309 352h1v12h-1zM157 349h1v18h-1zM599 350h1v18h-1zM501 367h17v2h-17zM537 367h13v2h-13zM577 349h1v20h-1zM628 363h1v7h-1zM666 363h1v7h-1zM72 347h1v24h-1zM536 369h14v2h-14zM156 367h2v5h-2zM500 369h19v3h-19zM536 371h15v1h-15zM192 343h1v30h-1zM500 372h1v1h-1zM518 372h1v1h-1zM536 372h1v1h-1zM600 370h1v3h-1zM499 373h2v1h-2zM518 373h2v1h-2zM535 373h2v1h-2zM600 373h2v1h-2zM285 342h1v33h-1zM487 374h13v1h-13zM550 372h1v3h-1zM156 372h1v4h-1zM167 341h1v35h-1zM468 375h2v1h-2zM486 375h14v1h-14zM519 374h17v2h-17zM601 374h1v2h-1zM460 376h11v1h-11zM486 376h13v1h-13zM520 376h15v1h-15zM576 374h1v3h-1zM602 376h1v1h-1zM627 374h1v3h-1zM667 374h1v3h-1zM459 377h13v1h-13zM479 377h8v1h-8zM602 377h25v1h-25zM308 373h1v6h-1zM457 378h3v1h-3zM471 378h15v1h-15zM551 377h1v2h-1zM603 378h24v1h-24zM668 378h1v1h-1zM155 376h1v4h-1zM286 376h1v4h-1zM456 379h2v1h-2zM471 379h12v1h-12zM668 379h2v1h-2zM168 378h1v3h-1zM191 378h1v3h-1zM395 377h1v4h-1zM455 380h2v1h-2zM669 380h3v1h-3zM142 378h1v4h-1zM307 380h1v2h-1zM453 381h3v1h-3zM552 380h1v2h-1zM671 381h1v1h-1zM71 381h1v2h-1zM154 381h1v2h-1zM287 380h1v3h-1zM306 382h2v1h-2zM396 382h3v1h-3zM451 382h3v1h-3zM575 381h1v2h-1zM288 383h1v1h-1zM306 383h1v1h-1zM396 383h9v1h-9zM449 383h3v1h-3zM553 383h1v1h-1zM143 384h1v1h-1zM153 384h1v1h-1zM190 383h1v2h-1zM288 384h2v1h-2zM304 384h3v1h-3zM398 384h11v1h-11zM446 384h4v1h-4zM70 385h1v1h-1zM143 385h11v1h-11zM169 384h1v2h-1zM188 385h2v1h-2zM289 385h17v1h-17zM407 385h3v1h-3zM445 385h2v1h-2zM554 385h1v1h-1zM574 384h1v2h-1zM144 386h9v1h-9zM170 386h1v1h-1zM187 386h2v1h-2zM290 386h14v1h-14zM409 386h3v1h-3zM443 386h2v1h-2zM171 387h1v1h-1zM185 387h2v1h-2zM411 387h3v1h-3zM442 387h1v1h-1zM555 386h1v2h-1zM573 387h1v1h-1zM69 387h1v2h-1zM172 388h2v1h-2zM184 388h2v1h-2zM413 388h4v1h-4zM441 388h1v1h-1zM556 388h1v1h-1zM572 388h1v1h-1zM61 389h8v1h-8zM174 389h10v1h-10zM416 389h4v1h-4zM440 389h1v1h-1zM557 389h3v1h-3zM571 389h1v1h-1zM420 390h1v1h-1zM439 390h1v1h-1zM560 390h11v1h-11zM422 391h1v1h-1zM438 392h1v1h-1zM423 393h1v1h-1zM424 396h13v1h-13z"/>
<path fill="#00ff33" d="M443 210h11v1h-11zM437 211h17v2h-17zM437 213h8v1h-8zM452 213h2v1h-2zM437 214h5v1h-5zM61 224h1v1h-1zM61 225h2v1h-2zM61 226h4v1h-4zM61 227h5v1h-5zM61 228h6v2h-6zM61 230h7v2h-7zM61 232h6v2h-6zM61 234h5v1h-5zM61 235h4v1h-4zM61 236h3v1h-3zM61 237h2v1h-2zM454 222h1v17h-1zM437 246h4v1h-4zM437 247h7v1h-7zM453 247h1v1h-1zM437 248h17v2h-17zM439 250h15v1h-15zM442 251h11v1h-11zM437 319h1v2h-1zM436 321h2v1h-2zM424 322h13v1h-13zM424 323h12v1h-12zM438 323h1v2h-1zM423 325h1v1h-1zM422 327h1v1h-1zM439 326h1v2h-1zM562 327h9v1h-9zM174 328h10v1h-10zM421 328h2v1h-2zM440 328h1v1h-1zM557 328h15v1h-15zM172 329h14v1h-14zM420 329h2v1h-2zM440 329h2v1h-2zM556 329h6v1h-6zM571 329h2v1h-2zM171 330h4v1h-4zM183 330h4v1h-4zM415 330h6v1h-6zM441 330h2v1h-2zM556 330h2v1h-2zM572 330h2v1h-2zM61 331h8v1h-8zM170 331h3v1h-3zM185 331h4v1h-4zM413 331h7v1h-7zM442 331h2v1h-2zM555 331h2v1h-2zM61 332h9v1h-9zM144 332h9v1h-9zM170 332h2v1h-2zM186 332h4v1h-4zM290 332h14v1h-14zM411 332h5v1h-5zM443 332h2v1h-2zM554 332h2v1h-2zM573 331h1v2h-1zM69 333h1v1h-1zM187 333h3v1h-3zM289 333h16v1h-16zM409 333h5v1h-5zM443 333h3v1h-3zM554 333h1v1h-1zM69 334h2v1h-2zM169 333h2v2h-2zM188 334h3v1h-3zM289 334h17v1h-17zM405 334h7v1h-7zM444 334h3v1h-3zM553 334h2v1h-2zM70 335h1v1h-1zM143 333h11v3h-11zM189 335h2v1h-2zM288 335h19v1h-19zM398 335h13v1h-13zM445 335h4v1h-4zM574 333h1v3h-1zM70 336h2v1h-2zM143 336h1v1h-1zM152 336h3v1h-3zM288 336h3v1h-3zM303 336h4v1h-4zM396 336h14v1h-14zM446 336h4v1h-4zM553 335h1v2h-1zM153 337h2v1h-2zM169 335h1v3h-1zM304 337h4v1h-4zM396 337h13v1h-13zM448 337h3v1h-3zM190 336h1v3h-1zM287 337h3v2h-3zM305 338h3v1h-3zM396 338h11v1h-11zM449 338h3v1h-3zM154 338h1v2h-1zM396 339h6v1h-6zM450 339h3v1h-3zM575 336h1v4h-1zM670 339h2v1h-2zM71 337h1v4h-1zM190 339h2v2h-2zM287 339h2v2h-2zM306 339h2v2h-2zM395 340h4v1h-4zM451 340h3v1h-3zM552 337h1v4h-1zM669 340h3v1h-3zM452 341h3v1h-3zM472 341h12v1h-12zM668 341h4v1h-4zM454 342h3v1h-3zM471 342h15v1h-15zM603 342h24v1h-24zM668 342h3v1h-3zM307 341h1v3h-1zM455 343h3v1h-3zM471 343h16v1h-16zM602 343h25v1h-25zM668 343h2v1h-2zM154 340h2v5h-2zM456 344h3v1h-3zM470 344h29v1h-29zM520 344h15v1h-15zM602 344h26v1h-26zM457 345h12v1h-12zM470 345h30v1h-30zM551 341h1v5h-1zM667 344h2v2h-2zM458 346h14v1h-14zM481 346h19v1h-19zM550 346h2v1h-2zM601 345h27v2h-27zM459 347h12v1h-12zM485 347h15v1h-15zM519 345h17v3h-17zM601 347h2v1h-2zM155 345h1v4h-1zM460 348h11v1h-11zM600 348h3v1h-3zM486 348h15v2h-15zM518 348h19v2h-19zM550 347h1v3h-1zM286 341h2v10h-2zM487 350h64v2h-64zM576 343h1v9h-1zM627 347h1v5h-1zM667 346h1v6h-1zM628 354h1v9h-1zM666 354h1v9h-1zM286 351h1v14h-1zM499 352h21v13h-21zM535 352h16v13h-16zM155 349h2v18h-2zM487 365h64v2h-64zM486 367h15v2h-15zM518 367h19v2h-19zM600 349h2v20h-2zM486 369h14v1h-14zM550 367h1v3h-1zM600 369h3v1h-3zM463 370h7v1h-7zM485 370h15v1h-15zM550 370h2v1h-2zM601 370h2v1h-2zM627 365h1v6h-1zM155 367h1v5h-1zM460 371h11v1h-11zM480 371h20v1h-20zM667 365h1v7h-1zM307 344h2v29h-2zM459 372h41v1h-41zM519 369h17v4h-17zM601 371h27v2h-27zM458 373h41v1h-41zM520 373h15v1h-15zM576 365h1v9h-1zM602 373h26v1h-26zM667 372h2v2h-2zM307 373h1v2h-1zM457 374h30v1h-30zM668 374h2v1h-2zM154 372h2v4h-2zM191 341h1v35h-1zM286 365h2v11h-2zM395 341h1v35h-1zM456 375h12v1h-12zM470 375h16v1h-16zM551 371h1v5h-1zM602 374h25v2h-25zM668 375h3v1h-3zM395 376h2v1h-2zM455 376h5v1h-5zM471 376h15v1h-15zM551 376h2v1h-2zM603 376h24v1h-24zM142 338h1v40h-1zM168 339h1v39h-1zM190 376h2v2h-2zM287 376h2v2h-2zM306 375h2v3h-2zM396 377h4v1h-4zM454 377h5v1h-5zM472 377h7v1h-7zM668 376h4v2h-4zM154 376h1v3h-1zM305 378h3v1h-3zM396 378h7v1h-7zM452 378h5v1h-5zM669 378h3v1h-3zM190 378h1v2h-1zM287 378h3v2h-3zM304 379h4v1h-4zM396 379h12v1h-12zM451 379h5v1h-5zM552 377h1v3h-1zM670 379h2v1h-2zM71 376h1v5h-1zM143 380h1v1h-1zM153 379h2v2h-2zM189 380h2v1h-2zM288 380h3v1h-3zM303 380h4v1h-4zM396 380h13v1h-13zM449 380h6v1h-6zM575 377h1v4h-1zM188 381h3v1h-3zM288 381h19v1h-19zM396 381h14v1h-14zM447 381h6v1h-6zM553 380h1v2h-1zM169 379h1v4h-1zM187 382h4v1h-4zM288 382h18v1h-18zM399 382h12v1h-12zM445 382h6v1h-6zM553 382h2v1h-2zM70 381h1v3h-1zM143 381h11v3h-11zM169 383h2v1h-2zM289 383h17v1h-17zM405 383h7v1h-7zM444 383h5v1h-5zM554 383h1v1h-1zM574 381h1v3h-1zM69 384h2v1h-2zM144 384h9v1h-9zM170 384h2v1h-2zM186 383h4v2h-4zM290 384h14v1h-14zM409 384h4v1h-4zM443 384h3v1h-3zM554 384h2v1h-2zM69 385h1v1h-1zM170 385h3v1h-3zM185 385h3v1h-3zM410 385h5v1h-5zM442 385h3v1h-3zM555 385h2v1h-2zM573 384h1v2h-1zM64 386h6v1h-6zM171 386h3v1h-3zM183 386h4v1h-4zM412 386h6v1h-6zM441 386h2v1h-2zM556 386h2v1h-2zM572 386h2v1h-2zM172 387h13v1h-13zM414 387h6v1h-6zM440 387h2v1h-2zM556 387h5v1h-5zM571 387h2v1h-2zM61 387h8v2h-8zM174 388h10v1h-10zM417 388h4v1h-4zM439 388h2v1h-2zM557 388h15v1h-15zM420 389h2v1h-2zM439 389h1v1h-1zM560 389h11v1h-11zM421 390h2v1h-2zM438 390h1v2h-1zM423 392h1v1h-1zM437 393h1v1h-1zM424 394h14v1h-14zM424 395h13v1h-13z"/>
<path fill="#00ff1a" d="M445 213h7v1h-7zM442 214h12v1h-12zM437 215h17v6h-17zM437 221h9v1h-9zM447 221h7v1h-7zM437 222h8v1h-8zM448 222h6v1h-6zM449 223h5v1h-5zM437 223h7v2h-7zM450 224h4v1h-4zM451 225h3v1h-3zM437 225h6v2h-6zM452 226h2v2h-2zM437 227h5v6h-5zM453 228h1v5h-1zM452 233h2v2h-2zM437 233h6v3h-6zM451 235h3v1h-3zM450 236h4v1h-4zM437 236h7v2h-7zM449 237h5v1h-5zM437 238h8v1h-8zM448 238h6v1h-6zM437 239h17v7h-17zM441 246h13v1h-13zM444 247h9v1h-9zM437 322h1v1h-1zM436 323h1v1h-1zM424 324h6v1h-6zM438 325h1v1h-1zM423 326h1v1h-1zM439 328h1v1h-1zM422 329h1v1h-1zM562 329h9v1h-9zM175 330h8v1h-8zM421 330h1v1h-1zM440 330h1v1h-1zM558 330h5v1h-5zM571 330h1v1h-1zM173 331h2v1h-2zM182 331h3v1h-3zM420 331h1v1h-1zM441 331h1v1h-1zM557 331h1v1h-1zM572 331h1v1h-1zM172 332h1v1h-1zM184 332h2v1h-2zM416 332h4v1h-4zM556 332h1v1h-1zM61 333h8v1h-8zM185 333h2v1h-2zM414 333h3v1h-3zM442 332h1v2h-1zM555 333h1v1h-1zM573 333h1v1h-1zM171 333h1v2h-1zM186 334h2v1h-2zM412 334h2v1h-2zM443 334h1v1h-1zM69 335h1v1h-1zM187 335h2v1h-2zM411 335h2v1h-2zM444 335h1v1h-1zM554 335h1v1h-1zM144 336h8v1h-8zM170 335h1v2h-1zM187 336h3v1h-3zM291 336h12v1h-12zM410 336h1v1h-1zM445 336h1v1h-1zM574 336h1v1h-1zM143 337h10v1h-10zM188 337h2v1h-2zM290 337h14v1h-14zM409 337h1v1h-1zM446 337h2v1h-2zM70 337h1v2h-1zM152 338h2v1h-2zM290 338h11v1h-11zM302 338h3v1h-3zM407 338h3v1h-3zM447 338h2v1h-2zM553 337h1v2h-1zM143 338h1v2h-1zM189 338h1v2h-1zM289 339h2v1h-2zM303 339h3v1h-3zM402 339h7v1h-7zM448 339h2v1h-2zM169 338h1v3h-1zM289 340h1v1h-1zM304 340h2v1h-2zM399 340h9v1h-9zM450 340h1v1h-1zM153 339h1v3h-1zM304 341h3v1h-3zM396 341h11v1h-11zM451 341h1v1h-1zM396 342h7v1h-7zM452 342h2v1h-2zM575 340h1v3h-1zM671 342h1v1h-1zM288 341h2v3h-2zM396 343h5v1h-5zM453 343h2v1h-2zM552 341h1v3h-1zM670 343h2v1h-2zM305 342h2v3h-2zM396 344h3v1h-3zM454 344h2v1h-2zM71 341h1v5h-1zM396 345h2v1h-2zM455 345h2v1h-2zM669 344h2v2h-2zM396 346h1v1h-1zM456 346h2v1h-2zM472 346h9v1h-9zM668 346h2v1h-2zM190 341h1v7h-1zM457 347h2v1h-2zM471 347h14v1h-14zM458 348h2v1h-2zM471 348h15v1h-15zM603 347h24v2h-24zM459 349h27v1h-27zM668 347h1v3h-1zM288 344h1v7h-1zM460 350h11v1h-11zM478 350h9v1h-9zM461 351h10v1h-10zM484 351h3v1h-3zM602 349h25v3h-25zM551 347h1v6h-1zM485 352h14v3h-14zM486 355h13v6h-13zM287 351h2v14h-2zM485 361h14v4h-14zM520 352h15v13h-15zM576 352h1v13h-1zM602 352h1v13h-1zM627 352h1v13h-1zM667 352h1v13h-1zM484 365h3v1h-3zM466 366h5v1h-5zM479 366h8v1h-8zM460 367h12v1h-12zM474 367h12v1h-12zM602 365h25v4h-25zM459 368h27v2h-27zM551 363h1v7h-1zM668 368h1v2h-1zM306 345h1v26h-1zM396 370h1v1h-1zM458 370h5v1h-5zM470 370h15v1h-15zM603 369h24v2h-24zM154 345h1v27h-1zM396 371h2v1h-2zM458 371h2v1h-2zM471 371h9v1h-9zM668 370h2v2h-2zM288 365h1v8h-1zM396 372h3v1h-3zM457 372h2v1h-2zM396 373h5v1h-5zM456 373h2v1h-2zM669 372h2v2h-2zM305 371h2v4h-2zM396 374h6v1h-6zM455 374h2v1h-2zM670 374h2v1h-2zM71 371h1v5h-1zM190 368h1v8h-1zM288 373h2v3h-2zM396 375h9v1h-9zM454 375h2v1h-2zM552 373h1v3h-1zM671 375h1v1h-1zM304 375h2v2h-2zM397 376h11v1h-11zM453 376h2v1h-2zM575 375h1v2h-1zM153 374h1v4h-1zM289 376h2v2h-2zM303 377h3v1h-3zM400 377h9v1h-9zM451 377h3v1h-3zM143 376h1v3h-1zM152 378h2v1h-2zM169 376h1v3h-1zM189 377h1v2h-1zM290 378h3v1h-3zM302 378h3v1h-3zM403 378h6v1h-6zM450 378h2v1h-2zM143 379h10v1h-10zM188 379h2v1h-2zM290 379h14v1h-14zM408 379h2v1h-2zM448 379h3v1h-3zM553 378h1v2h-1zM70 379h1v2h-1zM144 380h9v1h-9zM187 380h2v1h-2zM291 380h12v1h-12zM409 380h1v1h-1zM446 380h3v1h-3zM574 380h1v1h-1zM187 381h1v1h-1zM410 381h1v1h-1zM445 381h2v1h-2zM554 381h1v1h-1zM170 381h1v2h-1zM186 382h1v1h-1zM411 382h2v1h-2zM444 382h1v1h-1zM69 383h1v1h-1zM171 383h1v1h-1zM412 383h2v1h-2zM443 383h1v1h-1zM555 383h1v1h-1zM573 383h1v1h-1zM172 384h1v1h-1zM185 383h1v2h-1zM413 384h3v1h-3zM442 384h1v1h-1zM556 384h1v1h-1zM61 385h8v1h-8zM173 385h1v1h-1zM183 385h2v1h-2zM415 385h4v1h-4zM441 385h1v1h-1zM557 385h1v1h-1zM572 385h1v1h-1zM61 386h3v1h-3zM174 386h9v1h-9zM418 386h3v1h-3zM440 386h1v1h-1zM558 386h3v1h-3zM571 386h1v1h-1zM420 387h1v1h-1zM439 387h1v1h-1zM561 387h10v1h-10zM421 388h1v1h-1zM422 389h1v1h-1zM438 389h1v1h-1zM423 391h1v1h-1zM437 392h1v1h-1z"/>
<path fill="#00ff00" d="M446 221h1v1h-1zM445 222h3v1h-3zM444 223h5v1h-5zM444 224h6v1h-6zM443 225h8v1h-8zM443 226h9v1h-9zM442 227h10v1h-10zM442 228h11v5h-11zM443 233h9v2h-9zM443 235h8v1h-8zM444 236h6v1h-6zM444 237h5v1h-5zM445 238h3v1h-3zM437 323h1v1h-1zM430 324h8v1h-8zM424 325h14v1h-14zM424 326h12v1h-12zM438 326h1v3h-1zM423 327h1v3h-1zM422 330h1v1h-1zM439 329h1v2h-1zM563 330h8v1h-8zM175 331h7v1h-7zM421 331h2v1h-2zM439 331h2v1h-2zM558 331h14v1h-14zM173 332h11v1h-11zM420 332h3v1h-3zM557 332h16v1h-16zM172 333h13v1h-13zM417 333h5v1h-5zM440 332h2v2h-2zM556 333h12v1h-12zM570 333h3v1h-3zM172 334h14v1h-14zM414 334h7v1h-7zM440 334h3v1h-3zM555 334h4v1h-4zM61 334h8v2h-8zM171 335h4v1h-4zM183 335h4v1h-4zM413 335h7v1h-7zM441 335h3v1h-3zM555 335h2v1h-2zM572 334h2v2h-2zM171 336h2v1h-2zM184 336h3v1h-3zM411 336h8v1h-8zM442 336h3v1h-3zM554 336h3v1h-3zM573 336h1v1h-1zM61 336h9v2h-9zM170 337h3v1h-3zM185 337h3v1h-3zM410 337h7v1h-7zM442 337h4v1h-4zM66 338h4v1h-4zM144 338h8v1h-8zM185 338h4v1h-4zM301 338h1v1h-1zM410 338h5v1h-5zM443 338h4v1h-4zM554 337h2v2h-2zM573 337h2v2h-2zM144 339h9v1h-9zM170 338h2v2h-2zM186 339h3v1h-3zM291 339h12v1h-12zM409 339h5v1h-5zM444 339h4v1h-4zM69 339h2v2h-2zM170 340h1v1h-1zM408 340h5v1h-5zM444 340h6v1h-6zM143 340h10v2h-10zM186 340h4v2h-4zM290 340h14v2h-14zM407 341h5v1h-5zM445 341h6v1h-6zM553 339h2v3h-2zM403 342h9v1h-9zM446 342h6v1h-6zM574 339h1v4h-1zM290 342h15v2h-15zM401 343h10v1h-10zM447 343h6v1h-6zM553 342h1v2h-1zM169 341h2v4h-2zM289 344h16v1h-16zM399 344h12v1h-12zM448 344h6v1h-6zM70 341h1v5h-1zM398 345h13v1h-13zM449 345h6v1h-6zM671 344h1v2h-1zM187 342h3v5h-3zM397 346h13v1h-13zM450 346h6v1h-6zM552 344h2v3h-2zM670 346h2v1h-2zM188 347h2v1h-2zM451 347h6v1h-6zM70 346h2v3h-2zM453 348h5v1h-5zM454 349h5v1h-5zM669 347h3v3h-3zM455 350h5v1h-5zM471 350h7v1h-7zM396 347h14v5h-14zM455 351h6v1h-6zM471 351h13v1h-13zM552 347h1v6h-1zM456 352h29v2h-29zM457 354h28v1h-28zM457 355h29v6h-29zM457 361h28v2h-28zM551 353h2v10h-2zM396 352h13v13h-13zM456 363h29v2h-29zM603 352h24v13h-24zM456 365h28v1h-28zM456 366h10v1h-10zM471 366h8v1h-8zM188 348h3v20h-3zM455 367h5v1h-5zM472 367h2v1h-2zM668 350h4v18h-4zM71 349h1v20h-1zM454 368h5v1h-5zM188 368h2v2h-2zM396 365h14v5h-14zM453 369h6v1h-6zM552 363h1v7h-1zM669 368h3v2h-3zM70 369h2v2h-2zM289 345h17v26h-17zM397 370h13v1h-13zM452 370h6v1h-6zM169 345h1v27h-1zM398 371h12v1h-12zM451 371h7v1h-7zM670 370h2v2h-2zM289 371h16v2h-16zM399 372h12v1h-12zM450 372h7v1h-7zM552 370h2v3h-2zM143 342h11v32h-11zM401 373h10v1h-10zM449 373h7v1h-7zM575 343h1v31h-1zM671 372h1v2h-1zM187 370h3v5h-3zM290 373h15v2h-15zM402 374h10v1h-10zM447 374h8v1h-8zM553 373h1v2h-1zM574 374h2v1h-2zM143 374h10v2h-10zM169 372h2v4h-2zM290 375h14v1h-14zM405 375h7v1h-7zM446 375h8v1h-8zM70 371h1v6h-1zM170 376h1v1h-1zM186 375h4v2h-4zM291 376h13v1h-13zM408 376h5v1h-5zM445 376h8v1h-8zM144 376h9v2h-9zM186 377h3v1h-3zM291 377h12v1h-12zM409 377h4v1h-4zM444 377h7v1h-7zM553 375h2v3h-2zM574 375h1v3h-1zM69 377h2v2h-2zM144 378h8v1h-8zM185 378h4v1h-4zM293 378h9v1h-9zM409 378h5v1h-5zM443 378h7v1h-7zM69 379h1v1h-1zM170 377h2v3h-2zM185 379h3v1h-3zM410 379h5v1h-5zM443 379h5v1h-5zM554 378h2v2h-2zM573 378h2v2h-2zM64 380h6v1h-6zM170 380h3v1h-3zM410 380h7v1h-7zM442 380h4v1h-4zM554 380h3v1h-3zM573 380h1v1h-1zM171 381h3v1h-3zM184 380h3v2h-3zM411 381h8v1h-8zM441 381h4v1h-4zM555 381h2v1h-2zM61 381h9v2h-9zM171 382h4v1h-4zM182 382h4v1h-4zM413 382h7v1h-7zM440 382h4v1h-4zM555 382h3v1h-3zM572 381h2v2h-2zM172 383h13v1h-13zM414 383h7v1h-7zM440 383h3v1h-3zM556 383h8v1h-8zM571 383h2v1h-2zM61 383h8v2h-8zM173 384h12v1h-12zM416 384h6v1h-6zM439 384h3v1h-3zM557 384h16v1h-16zM174 385h9v1h-9zM419 385h3v1h-3zM439 385h2v1h-2zM558 385h14v1h-14zM438 386h2v1h-2zM561 386h10v1h-10zM421 386h2v2h-2zM422 388h2v1h-2zM438 387h1v2h-1zM423 389h1v2h-1zM437 389h1v2h-1zM424 391h14v1h-14zM424 392h13v2h-13z"/>
<path fill="#1aff00" d="M436 326h2v1h-2zM424 327h12v1h-12zM438 329h1v1h-1zM439 332h1v1h-1zM422 333h1v1h-1zM568 333h2v1h-2zM421 334h1v1h-1zM559 334h10v1h-10zM570 334h2v1h-2zM175 335h8v1h-8zM420 335h1v1h-1zM440 335h1v1h-1zM557 335h2v1h-2zM173 336h2v1h-2zM182 336h2v1h-2zM419 336h1v1h-1zM441 336h1v1h-1zM557 336h1v1h-1zM572 336h1v1h-1zM173 337h1v1h-1zM184 337h1v1h-1zM417 337h3v1h-3zM556 337h1v1h-1zM61 338h5v1h-5zM172 338h1v1h-1zM415 338h2v1h-2zM442 338h1v1h-1zM61 339h8v1h-8zM414 339h2v1h-2zM185 339h1v2h-1zM413 340h1v1h-1zM443 339h1v2h-1zM555 339h1v2h-1zM573 339h1v2h-1zM171 340h1v2h-1zM412 341h2v1h-2zM444 341h1v1h-1zM69 341h1v2h-1zM412 342h1v1h-1zM445 342h1v1h-1zM411 343h2v1h-2zM445 343h2v1h-2zM554 342h1v2h-1zM186 342h1v3h-1zM446 344h2v1h-2zM411 344h1v2h-1zM447 345h2v1h-2zM574 343h1v3h-1zM448 346h2v1h-2zM449 347h2v1h-2zM450 348h3v1h-3zM170 345h1v5h-1zM451 349h3v1h-3zM452 350h3v1h-3zM553 347h1v4h-1zM410 346h1v6h-1zM453 351h2v1h-2zM454 352h2v1h-2zM455 353h1v1h-1zM455 354h2v1h-2zM456 355h1v6h-1zM455 361h2v2h-2zM409 352h1v13h-1zM455 363h1v2h-1zM454 365h2v1h-2zM453 366h3v1h-3zM452 367h3v1h-3zM70 349h1v20h-1zM452 368h2v1h-2zM187 347h1v23h-1zM451 369h2v1h-2zM553 366h1v4h-1zM410 365h1v6h-1zM450 370h2v1h-2zM170 367h1v5h-1zM410 371h2v1h-2zM448 371h3v1h-3zM447 372h3v1h-3zM411 372h1v2h-1zM446 373h3v1h-3zM574 371h1v3h-1zM186 372h1v3h-1zM445 374h2v1h-2zM554 373h1v2h-1zM412 374h1v2h-1zM444 375h2v1h-2zM69 375h1v2h-1zM171 375h1v2h-1zM413 376h1v1h-1zM444 376h1v1h-1zM185 377h1v1h-1zM413 377h2v1h-2zM443 377h1v1h-1zM555 376h1v2h-1zM573 377h1v1h-1zM66 378h3v1h-3zM414 378h2v1h-2zM61 379h8v1h-8zM172 378h1v2h-1zM184 379h1v1h-1zM415 379h3v1h-3zM442 378h1v2h-1zM556 379h1v1h-1zM61 380h3v1h-3zM173 380h1v1h-1zM183 380h1v1h-1zM417 380h3v1h-3zM441 380h1v1h-1zM572 380h1v1h-1zM174 381h1v1h-1zM182 381h2v1h-2zM419 381h1v1h-1zM440 381h1v1h-1zM557 381h2v1h-2zM175 382h7v1h-7zM420 382h1v1h-1zM558 382h7v1h-7zM570 382h2v1h-2zM421 383h1v1h-1zM439 383h1v1h-1zM564 383h7v1h-7zM422 385h1v1h-1zM424 390h13v1h-13z"/>
<path fill="#33ff00" d="M436 327h2v1h-2zM424 328h14v1h-14zM423 330h1v2h-1zM438 330h1v2h-1zM422 334h1v1h-1zM439 333h1v2h-1zM569 334h1v1h-1zM421 335h1v1h-1zM559 335h13v1h-13zM175 336h7v1h-7zM420 336h2v1h-2zM440 336h1v1h-1zM558 336h14v1h-14zM174 337h10v1h-10zM420 337h1v1h-1zM440 337h2v1h-2zM557 337h4v1h-4zM571 337h2v1h-2zM173 338h2v1h-2zM182 338h3v1h-3zM417 338h4v1h-4zM441 338h1v1h-1zM556 338h2v1h-2zM172 339h2v1h-2zM183 339h2v1h-2zM416 339h4v1h-4zM441 339h2v1h-2zM572 338h1v2h-1zM184 340h1v1h-1zM414 340h5v1h-5zM442 340h1v1h-1zM556 339h1v2h-1zM172 340h1v2h-1zM414 341h4v1h-4zM442 341h2v1h-2zM61 340h8v3h-8zM171 342h2v1h-2zM413 342h3v1h-3zM62 343h8v1h-8zM413 343h2v1h-2zM443 342h2v2h-2zM555 341h1v3h-1zM573 341h1v3h-1zM68 344h2v1h-2zM185 341h1v4h-1zM412 344h3v1h-3zM443 344h3v1h-3zM412 345h2v1h-2zM444 345h3v1h-3zM171 343h1v4h-1zM411 346h3v1h-3zM445 346h3v1h-3zM445 347h4v1h-4zM446 348h4v1h-4zM69 345h1v5h-1zM446 349h5v1h-5zM554 344h1v6h-1zM447 350h5v1h-5zM411 347h2v5h-2zM448 351h5v1h-5zM449 352h5v1h-5zM449 353h6v1h-6zM574 346h1v8h-1zM450 354h5v1h-5zM186 345h1v11h-1zM450 355h6v6h-6zM450 361h5v2h-5zM410 352h2v13h-2zM449 363h6v2h-6zM448 365h6v1h-6zM553 351h1v15h-1zM170 350h1v17h-1zM447 366h6v1h-6zM447 367h5v1h-5zM446 368h6v1h-6zM411 365h2v5h-2zM446 369h5v1h-5zM411 370h3v1h-3zM445 370h5v1h-5zM574 362h1v9h-1zM186 361h1v11h-1zM444 371h4v1h-4zM412 371h2v2h-2zM444 372h3v1h-3zM554 367h1v6h-1zM69 368h1v6h-1zM412 373h3v1h-3zM443 373h3v1h-3zM64 374h6v1h-6zM171 370h1v5h-1zM413 374h3v1h-3zM443 374h2v1h-2zM185 372h1v4h-1zM413 375h4v1h-4zM555 373h1v3h-1zM172 375h1v2h-1zM184 376h2v1h-2zM414 376h4v1h-4zM442 375h2v2h-2zM573 373h1v4h-1zM61 375h8v3h-8zM172 377h2v1h-2zM184 377h1v1h-1zM415 377h5v1h-5zM441 377h2v1h-2zM556 376h1v2h-1zM61 378h5v1h-5zM173 378h2v1h-2zM183 378h2v1h-2zM416 378h4v1h-4zM441 378h1v1h-1zM556 378h2v1h-2zM572 377h1v2h-1zM173 379h3v1h-3zM181 379h3v1h-3zM418 379h3v1h-3zM440 379h2v1h-2zM557 379h3v1h-3zM571 379h2v1h-2zM174 380h9v1h-9zM420 380h1v1h-1zM440 380h1v1h-1zM557 380h11v1h-11zM570 380h2v1h-2zM175 381h7v1h-7zM420 381h2v1h-2zM559 381h13v1h-13zM421 382h1v1h-1zM439 381h1v2h-1zM565 382h5v1h-5zM422 383h1v2h-1zM438 384h1v2h-1zM423 386h1v2h-1zM437 387h1v2h-1zM424 389h13v1h-13z"/>
<path fill="#4cff00" d="M424 329h12v1h-12zM437 329h1v1h-1zM423 332h1v1h-1zM438 332h1v1h-1zM422 335h1v1h-1zM439 335h1v2h-1zM421 337h1v1h-1zM561 337h10v1h-10zM175 338h7v1h-7zM558 338h3v1h-3zM571 338h1v1h-1zM174 339h2v1h-2zM182 339h1v1h-1zM420 339h1v1h-1zM440 338h1v2h-1zM173 340h2v1h-2zM183 340h1v1h-1zM419 340h1v1h-1zM557 339h1v2h-1zM572 340h1v1h-1zM173 341h1v1h-1zM418 341h2v1h-2zM441 340h1v2h-1zM184 341h1v2h-1zM416 342h3v1h-3zM556 341h1v2h-1zM61 343h1v1h-1zM415 343h3v1h-3zM442 342h1v2h-1zM61 344h7v1h-7zM172 343h1v2h-1zM415 344h1v1h-1zM61 345h8v1h-8zM414 345h2v1h-2zM443 345h1v1h-1zM573 344h1v2h-1zM64 346h5v1h-5zM185 345h1v2h-1zM414 346h1v1h-1zM443 346h2v1h-2zM555 344h1v3h-1zM68 347h1v1h-1zM413 347h2v1h-2zM444 347h1v1h-1zM444 348h2v1h-2zM445 349h1v1h-1zM171 347h1v4h-1zM445 350h2v1h-2zM413 348h1v4h-1zM446 351h2v1h-2zM446 352h3v2h-3zM186 356h1v5h-1zM574 354h1v8h-1zM447 354h3v9h-3zM412 352h1v12h-1zM412 364h2v1h-2zM446 363h3v2h-3zM446 365h2v1h-2zM554 350h1v17h-1zM69 350h1v18h-1zM445 366h2v2h-2zM413 365h1v4h-1zM445 368h1v1h-1zM171 366h1v4h-1zM413 369h2v1h-2zM444 369h2v1h-2zM68 370h1v1h-1zM444 370h1v1h-1zM64 371h5v1h-5zM185 370h1v2h-1zM414 370h1v2h-1zM414 372h2v1h-2zM443 371h1v2h-1zM555 370h1v3h-1zM573 371h1v2h-1zM61 372h8v2h-8zM415 373h2v1h-2zM61 374h3v1h-3zM172 373h1v2h-1zM416 374h2v1h-2zM442 373h1v2h-1zM184 374h1v2h-1zM417 375h2v1h-2zM556 374h1v2h-1zM173 376h1v1h-1zM183 376h1v1h-1zM418 376h2v1h-2zM441 376h1v1h-1zM572 376h1v1h-1zM174 377h1v1h-1zM182 377h2v1h-2zM557 377h1v1h-1zM175 378h1v1h-1zM181 378h2v1h-2zM420 378h1v1h-1zM440 378h1v1h-1zM558 378h3v1h-3zM571 378h1v1h-1zM176 379h5v1h-5zM560 379h11v1h-11zM421 380h1v1h-1zM439 380h1v1h-1zM568 380h2v1h-2zM422 382h1v1h-1zM438 383h1v1h-1zM423 385h1v1h-1zM437 386h1v1h-1zM424 388h13v1h-13z"/>
<path fill="#66ff00" d="M436 329h1v1h-1zM424 330h14v1h-14zM424 331h12v1h-12zM437 331h1v1h-1zM423 333h1v1h-1zM438 333h1v3h-1zM422 336h1v2h-1zM439 337h1v2h-1zM561 338h10v1h-10zM176 339h6v1h-6zM421 338h1v2h-1zM558 339h14v1h-14zM175 340h8v1h-8zM558 340h9v1h-9zM570 340h2v1h-2zM174 341h2v1h-2zM181 341h3v1h-3zM420 340h1v2h-1zM440 340h1v2h-1zM557 341h4v1h-4zM571 341h2v1h-2zM173 342h2v1h-2zM182 342h2v1h-2zM419 342h2v1h-2zM440 342h2v1h-2zM557 342h1v1h-1zM183 343h2v1h-2zM418 343h2v1h-2zM441 343h1v1h-1zM556 343h2v1h-2zM173 343h1v2h-1zM441 344h2v1h-2zM572 342h1v3h-1zM416 344h4v2h-4zM61 346h3v1h-3zM184 344h1v3h-1zM415 346h4v1h-4zM442 345h1v2h-1zM556 344h1v3h-1zM61 347h7v1h-7zM415 347h3v1h-3zM442 347h2v1h-2zM172 345h1v4h-1zM414 348h4v1h-4zM443 348h1v1h-1zM414 349h3v2h-3zM443 349h2v2h-2zM414 351h2v1h-2zM443 351h3v2h-3zM573 346h1v7h-1zM444 353h2v1h-2zM413 352h3v3h-3zM555 347h1v8h-1zM185 347h1v10h-1zM413 355h2v7h-2zM444 354h3v9h-3zM413 362h3v2h-3zM444 363h2v1h-2zM171 351h1v15h-1zM414 364h2v2h-2zM443 364h3v2h-3zM414 366h3v2h-3zM414 368h4v1h-4zM443 366h2v3h-2zM61 348h8v22h-8zM185 360h1v10h-1zM415 369h3v1h-3zM555 362h1v8h-1zM61 370h7v1h-7zM415 370h4v1h-4zM442 369h2v2h-2zM573 364h1v7h-1zM61 371h3v1h-3zM415 371h5v1h-5zM442 371h1v1h-1zM172 368h1v5h-1zM184 370h1v3h-1zM416 372h4v1h-4zM441 372h2v1h-2zM556 370h1v3h-1zM173 373h1v1h-1zM183 373h2v1h-2zM417 373h3v1h-3zM556 373h2v1h-2zM183 374h1v1h-1zM418 374h3v1h-3zM441 373h1v2h-1zM557 374h1v1h-1zM572 372h1v3h-1zM173 374h2v2h-2zM182 375h2v1h-2zM419 375h2v1h-2zM440 375h2v1h-2zM557 375h3v1h-3zM571 375h2v1h-2zM174 376h9v1h-9zM420 376h1v1h-1zM557 376h7v1h-7zM570 376h2v1h-2zM175 377h7v1h-7zM420 377h2v1h-2zM440 376h1v2h-1zM558 377h14v1h-14zM176 378h5v1h-5zM561 378h10v1h-10zM421 378h1v2h-1zM439 378h1v2h-1zM422 380h1v2h-1zM438 381h1v2h-1zM423 383h1v2h-1zM437 384h1v2h-1zM424 387h13v1h-13z"/>
<path fill="#80ff00" d="M436 331h1v1h-1zM437 332h1v1h-1zM423 334h1v1h-1zM438 336h1v1h-1zM422 338h1v1h-1zM439 339h1v2h-1zM567 340h3v1h-3zM176 341h5v1h-5zM421 340h1v2h-1zM561 341h10v1h-10zM175 342h1v1h-1zM181 342h1v1h-1zM558 342h4v1h-4zM571 342h1v1h-1zM182 343h1v1h-1zM440 343h1v1h-1zM558 343h1v1h-1zM174 343h1v2h-1zM420 343h1v2h-1zM173 345h1v1h-1zM183 344h1v2h-1zM557 344h1v2h-1zM419 346h1v1h-1zM441 345h1v2h-1zM572 345h1v2h-1zM184 347h1v2h-1zM418 347h2v2h-2zM417 349h2v1h-2zM556 347h1v3h-1zM417 350h1v1h-1zM442 348h1v3h-1zM172 349h1v4h-1zM416 351h2v2h-2zM416 353h1v2h-1zM185 357h1v3h-1zM415 355h2v7h-2zM555 355h1v7h-1zM416 362h1v1h-1zM443 353h1v11h-1zM573 353h1v11h-1zM416 363h2v3h-2zM172 364h1v4h-1zM417 366h2v2h-2zM442 365h1v4h-1zM184 368h1v2h-1zM418 368h2v2h-2zM556 367h1v3h-1zM419 370h1v1h-1zM441 370h1v2h-1zM572 370h1v2h-1zM173 371h1v2h-1zM183 372h1v1h-1zM557 371h1v2h-1zM174 373h1v1h-1zM420 372h1v2h-1zM558 373h1v1h-1zM175 374h1v1h-1zM182 373h1v2h-1zM440 373h1v2h-1zM558 374h3v1h-3zM571 374h1v1h-1zM175 375h7v1h-7zM560 375h8v1h-8zM570 375h1v1h-1zM421 376h1v1h-1zM564 376h6v1h-6zM439 376h1v2h-1zM422 378h1v2h-1zM438 380h1v1h-1zM437 383h1v1h-1zM424 386h13v1h-13z"/>
<path fill="#99ff00" d="M424 332h13v1h-13zM424 333h12v1h-12zM437 333h1v2h-1zM423 335h1v2h-1zM438 337h1v2h-1zM422 339h1v3h-1zM176 342h5v1h-5zM562 342h9v1h-9zM175 343h7v1h-7zM439 341h1v3h-1zM559 343h13v1h-13zM175 344h8v1h-8zM421 342h1v3h-1zM558 344h14v1h-14zM174 345h2v1h-2zM182 345h1v1h-1zM558 345h4v1h-4zM182 346h2v1h-2zM440 344h1v3h-1zM557 346h3v1h-3zM571 345h1v2h-1zM173 346h2v2h-2zM440 347h2v1h-2zM183 347h1v2h-1zM420 345h1v4h-1zM419 349h2v1h-2zM557 347h1v3h-1zM173 348h1v3h-1zM441 348h1v3h-1zM441 351h2v1h-2zM572 347h1v5h-1zM418 350h2v3h-2zM184 349h1v8h-1zM417 353h3v10h-3zM172 353h1v11h-1zM442 352h1v12h-1zM441 364h2v1h-2zM418 363h2v3h-2zM419 366h1v1h-1zM556 350h1v17h-1zM184 359h1v9h-1zM419 367h2v1h-2zM173 366h1v3h-1zM441 365h1v4h-1zM557 367h1v2h-1zM183 368h1v2h-1zM440 369h2v1h-2zM557 369h2v1h-2zM572 364h1v6h-1zM173 369h2v2h-2zM557 370h3v1h-3zM174 371h1v1h-1zM182 370h2v2h-2zM420 368h1v4h-1zM558 371h4v1h-4zM571 370h1v2h-1zM174 372h9v1h-9zM440 370h1v3h-1zM558 372h10v1h-10zM570 372h2v1h-2zM175 373h7v1h-7zM559 373h13v1h-13zM176 374h6v1h-6zM561 374h10v1h-10zM421 373h1v3h-1zM439 374h1v2h-1zM568 375h2v1h-2zM422 376h1v2h-1zM438 377h1v3h-1zM423 381h1v2h-1zM437 381h1v2h-1zM424 384h13v2h-13z"/>
<path fill="#b2ff00" d="M436 333h1v1h-1zM437 335h1v1h-1zM423 337h1v1h-1zM438 339h1v1h-1zM422 342h1v1h-1zM439 344h1v1h-1zM176 345h6v1h-6zM421 345h1v1h-1zM562 345h9v1h-9zM175 346h1v1h-1zM181 346h1v1h-1zM560 346h6v1h-6zM570 346h1v1h-1zM558 347h3v1h-3zM174 348h1v1h-1zM182 347h1v2h-1zM558 348h2v1h-2zM571 347h1v2h-1zM440 348h1v2h-1zM558 349h1v1h-1zM183 349h1v2h-1zM173 351h1v2h-1zM420 350h1v4h-1zM557 350h1v4h-1zM184 357h1v2h-1zM441 352h1v12h-1zM572 352h1v12h-1zM173 363h1v3h-1zM420 362h1v5h-1zM557 362h1v5h-1zM183 365h1v3h-1zM558 367h1v1h-1zM174 368h1v1h-1zM440 367h1v2h-1zM558 368h2v1h-2zM182 368h1v2h-1zM559 369h2v1h-2zM571 368h1v2h-1zM175 370h1v1h-1zM181 370h1v1h-1zM560 370h6v1h-6zM570 370h1v1h-1zM175 371h7v1h-7zM562 371h9v1h-9zM421 371h1v2h-1zM568 372h2v1h-2zM439 372h1v2h-1zM422 375h1v1h-1zM438 376h1v1h-1zM423 380h1v1h-1z"/>
<path fill="#ccff00" d="M424 334h13v2h-13zM437 336h1v2h-1zM423 338h1v2h-1zM438 340h1v3h-1zM422 343h1v3h-1zM176 346h5v1h-5zM566 346h4v1h-4zM561 347h10v1h-10zM175 347h7v2h-7zM439 345h1v4h-1zM560 348h11v1h-11zM181 349h2v1h-2zM559 349h13v1h-13zM174 349h2v2h-2zM182 350h1v1h-1zM421 346h1v5h-1zM558 350h14v1h-14zM558 351h8v1h-8zM570 351h2v1h-2zM174 351h1v2h-1zM558 352h4v1h-4zM182 351h2v3h-2zM558 353h3v1h-3zM173 353h2v3h-2zM557 354h4v2h-4zM557 356h3v4h-3zM173 356h1v5h-1zM420 354h1v8h-1zM557 360h4v2h-4zM173 361h2v2h-2zM183 354h1v9h-1zM558 362h3v1h-3zM558 363h4v1h-4zM182 363h2v2h-2zM558 364h6v1h-6zM571 352h1v13h-1zM174 363h1v3h-1zM182 365h1v1h-1zM558 365h9v1h-9zM570 365h2v1h-2zM440 350h1v17h-1zM558 366h14v1h-14zM174 366h2v2h-2zM181 366h2v2h-2zM559 367h13v1h-13zM560 368h11v1h-11zM175 368h7v2h-7zM561 369h10v1h-10zM176 370h5v1h-5zM421 365h1v6h-1zM566 370h4v1h-4zM439 368h1v4h-1zM422 371h1v4h-1zM438 374h1v2h-1zM423 378h1v2h-1zM437 378h1v3h-1zM424 382h13v2h-13z"/>
<path fill="#e6ff00" d="M424 336h12v1h-12zM437 338h1v1h-1zM423 340h1v1h-1zM438 343h1v2h-1zM422 346h1v1h-1zM176 349h5v1h-5zM176 350h6v1h-6zM439 349h1v2h-1zM181 351h1v1h-1zM566 351h4v1h-4zM175 351h1v2h-1zM562 352h9v1h-9zM561 353h10v1h-10zM561 354h7v1h-7zM421 351h1v5h-1zM561 355h6v1h-6zM560 356h6v1h-6zM560 357h5v2h-5zM560 359h6v1h-6zM174 356h1v5h-1zM561 360h5v1h-5zM561 361h7v1h-7zM182 354h1v9h-1zM561 362h8v1h-8zM570 354h1v9h-1zM562 363h9v1h-9zM421 360h1v5h-1zM564 364h7v1h-7zM175 364h1v2h-1zM181 364h1v2h-1zM567 365h3v1h-3zM176 366h5v2h-5zM439 366h1v2h-1zM422 370h1v1h-1zM438 372h1v2h-1zM423 377h1v1h-1zM437 377h1v1h-1zM424 381h13v1h-13z"/>
<path fill="#ffff00" d="M436 336h1v1h-1zM424 337h12v1h-12zM437 339h1v2h-1zM423 341h1v1h-1zM438 345h1v2h-1zM422 347h1v3h-1zM176 351h5v1h-5zM176 352h6v1h-6zM568 354h2v1h-2zM567 355h3v1h-3zM181 353h1v4h-1zM439 351h1v6h-1zM566 356h4v1h-4zM565 357h5v2h-5zM421 356h1v4h-1zM566 359h4v2h-4zM568 361h2v1h-2zM175 353h1v10h-1zM181 359h1v4h-1zM569 362h1v1h-1zM175 363h7v1h-7zM176 364h5v2h-5zM439 359h1v7h-1zM422 367h1v3h-1zM438 370h1v2h-1zM423 376h1v1h-1zM437 376h1v1h-1zM424 380h13v1h-13z"/>
<path fill="#fff000" d="M436 337h1v1h-1zM437 341h1v1h-1zM423 342h1v1h-1zM438 347h1v1h-1zM422 350h1v2h-1zM176 353h5v4h-5zM176 357h6v2h-6zM439 357h1v2h-1zM176 359h5v4h-5zM422 365h1v2h-1zM438 369h1v1h-1zM423 375h1v1h-1zM437 375h1v1h-1zM424 379h13v1h-13z"/>
<path fill="#ffcc00" d="M424 338h13v3h-13zM423 343h1v3h-1zM437 342h1v4h-1zM422 352h1v13h-1zM438 348h1v21h-1zM423 371h1v4h-1zM437 371h1v4h-1zM424 377h13v2h-13z"/>
<path fill="#ff9900" d="M424 341h13v3h-13zM437 346h1v5h-1zM423 346h1v6h-1zM423 365h1v6h-1zM437 365h1v6h-1zM424 374h13v3h-13z"/>
<path fill="#ff6600" d="M424 344h13v3h-13zM423 352h1v13h-1zM437 351h1v14h-1zM424 370h13v4h-13z"/>
<path fill="#ff4c00" d="M424 347h13v1h-13zM424 369h13v1h-13z"/>
<path fill="#ff3300" d="M424 348h13v21h-13z"/>
<rect x="690" y="399.0" width="34" height="11.3" fill="#0000ff"/>
<rect x="690" y="394.0" width="34" height="5.3" fill="#001aff"/>
<rect x="690" y="382.0" width="34" height="12.3" fill="#0033ff"/>
<rect x="690" y="376.1" width="34" height="6.2" fill="#0039ff"/>
<rect x="690" y="358.7" width="34" height="17.7" fill="#0066ff"/>
<rect x="690" y="341.9" width="34" height="17.1" fill="#0099ff"/>
<rect x="690" y="324.8" width="34" height="17.4" fill="#00ccff"/>
<rect x="690" y="319.6" width="34" height="5.5" fill="#00edff"/>
<rect x="690" y="308.4" width="34" height="11.5" fill="#00ffff"/>
<rect x="690" y="291.6" width="34" height="17.1" fill="#00ffcc"/>
<rect x="690" y="274.9" width="34" height="17.0" fill="#00ff99"/>
<rect x="690" y="257.7" width="34" height="17.5" fill="#00ff66"/>
<rect x="690" y="252.2" width="34" height="5.8" fill="#00ff4c"/>
<rect x="690" y="241.0" width="34" height="11.5" fill="#00ff33"/>
<rect x="690" y="235.4" width="34" height="5.9" fill="#00ff1a"/>
<rect x="690" y="218.0" width="34" height="17.7" fill="#00ff00"/>
<rect x="690" y="212.6" width="34" height="5.7" fill="#1aff00"/>
<rect x="690" y="201.6" width="34" height="11.3" fill="#33ff00"/>
<rect x="690" y="196.0" width="34" height="5.9" fill="#4cff00"/>
<rect x="690" y="184.8" width="34" height="11.5" fill="#66ff00"/>
<rect x="690" y="179.2" width="34" height="5.9" fill="#80ff00"/>
<rect x="690" y="168.1" width="34" height="11.4" fill="#99ff00"/>
<rect x="690" y="162.9" width="34" height="5.5" fill="#b2ff00"/>
<rect x="690" y="151.0" width="34" height="12.2" fill="#ccff00"/>
<rect x="690" y="146.0" width="34" height="5.3" fill="#e6ff00"/>
<rect x="690" y="139.8" width="34" height="6.5" fill="#ffff00"/>
<rect x="690" y="134.8" width="34" height="5.3" fill="#fff000"/>
<rect x="690" y="116.8" width="34" height="18.3" fill="#ffcc00"/>
<rect x="690" y="99.7" width="34" height="17.4" fill="#ff9900"/>
<rect x="690" y="83.0" width="34" height="17.0" fill="#ff6600"/>
<rect x="690" y="78.6" width="34" height="4.7" fill="#ff4c00"/>
<rect x="690" y="70.0" width="34" height="8.9" fill="#ff3300"/>
<g fill="#000">
<rect x="59" y="70" width="2" height="343"/>
<rect x="672" y="70" width="2" height="343"/>
<rect x="59" y="70" width="615" height="2"/>
<rect x="59" y="411" width="615" height="2"/>
<rect x="52" y="70.0" width="8" height="2"/>
<rect x="56" y="104.0" width="4" height="2"/>
<rect x="52" y="138.0" width="8" height="2"/>
<rect x="56" y="172.0" width="4" height="2"/>
<rect x="52" y="206.0" width="8" height="2"/>
<rect x="56" y="240.0" width="4" height="2"/>
<rect x="52" y="275.0" width="8" height="2"/>
<rect x="56" y="309.0" width="4" height="2"/>
<rect x="52" y="343.0" width="8" height="2"/>
<rect x="56" y="377.0" width="4" height="2"/>
<rect x="52" y="411.0" width="8" height="2"/>
<rect x="178" y="412" width="2" height="5"/>
<rect x="117" y="412" width="2" height="9"/>
<rect x="300" y="412" width="2" height="5"/>
<rect x="239" y="412" width="2" height="9"/>
<rect x="422" y="412" width="2" height="5"/>
<rect x="361" y="412" width="2" height="9"/>
<rect x="544" y="412" width="2" height="5"/>
<rect x="483" y="412" width="2" height="9"/>
<rect x="666" y="412" width="2" height="5"/>
<rect x="605" y="412" width="2" height="9"/>
<rect x="689" y="69" width="2" height="342"/>
<rect x="723" y="69" width="2" height="342"/>
<rect x="689" y="69" width="36" height="2"/>
<rect x="689" y="409" width="36" height="2"/>
<rect x="724" y="409" width="7.5" height="2"/>
<rect x="724" y="389" width="4" height="2"/>
<rect x="724" y="369" width="7.5" height="2"/>
<rect x="724" y="349" width="4" height="2"/>
<rect x="724" y="329" width="7.5" height="2"/>
<rect x="724" y="309" width="4" height="2"/>
<rect x="724" y="289" width="7.5" height="2"/>
<rect x="724" y="269" width="4" height="2"/>
<rect x="724" y="249" width="7.5" height="2"/>
<rect x="724" y="229" width="4" height="2"/>
<rect x="724" y="209" width="7.5" height="2"/>
<rect x="724" y="189" width="4" height="2"/>
<rect x="724" y="169" width="7.5" height="2"/>
<rect x="724" y="149" width="4" height="2"/>
<rect x="724" y="129" width="7.5" height="2"/>
<rect x="724" y="109" width="4" height="2"/>
<rect x="724" y="89" width="7.5" height="2"/>
<rect x="724" y="69" width="4" height="2"/>
</g>
</g>
<g class="t">
<g font-size="18px" text-anchor="end">
<text x="49" y="75.8">60</text>
<text x="49" y="144.0">50</text>
<text x="49" y="212.2">40</text>
<text x="49" y="280.4">30</text>
<text x="49" y="348.6">20</text>
<text x="49" y="416.8">10</text>
</g>
<g font-size="18px" text-anchor="middle">
<text x="63.7" y="440.4">28</text>
<text x="177.7" y="440.4">29</text>
<text x="301.2" y="440.4">30</text>
<text x="423.7" y="440.4">31</text>
<text x="544.4" y="440.4">1</text>
<text x="668.0" y="440.4">2</text>
</g>
<g font-size="21.3px" text-anchor="start">
<text x="734.8" y="415.2">0.0</text>
<text x="734.8" y="375.2">0.2</text>
<text x="734.8" y="335.2">0.4</text>
<text x="734.8" y="295.2">0.6</text>
<text x="734.8" y="255.2">0.8</text>
<text x="734.8" y="215.2">1.0</text>
<text x="734.8" y="175.2">1.2</text>
<text x="734.8" y="135.2">1.4</text>
<text x="734.8" y="95.2">1.6</text>
</g>
<text x="370.9" y="467.4" font-size="22.6px" letter-spacing="0.37" text-anchor="middle">Day of January / February</text>
<text transform="translate(17.2,243.7) rotate(-90)" font-size="22.6px" letter-spacing="0.15" text-anchor="middle">Altitude [km]</text>
<text transform="translate(783.8,241.4) rotate(90)" font-size="22.9px" letter-spacing="0.07" text-anchor="middle">Volume Mixing Ratio [ppbv]</text>
</g>
</svg>
</body></html>
